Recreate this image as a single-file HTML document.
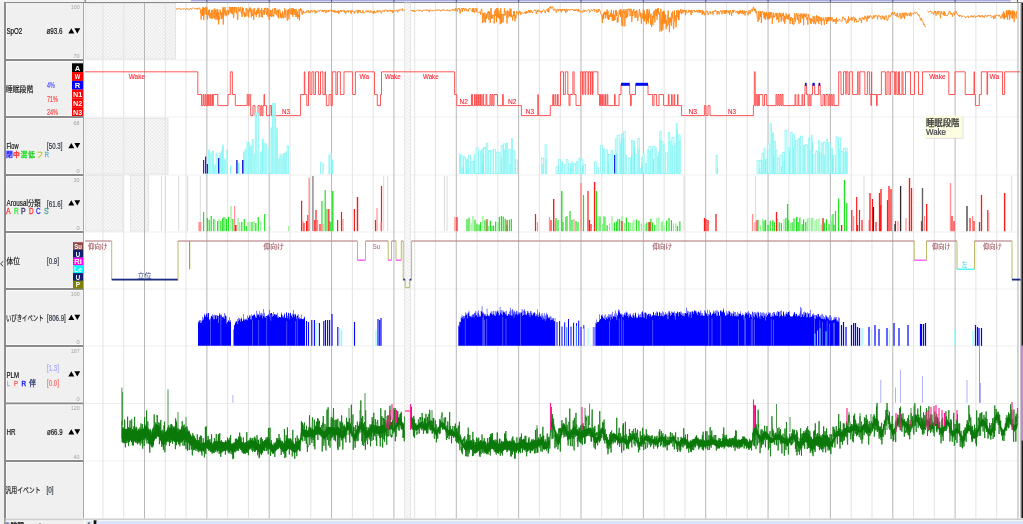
<!DOCTYPE html>
<html><head><meta charset="utf-8"><title>PSG</title>
<style>
html,body{margin:0;padding:0;background:#f0f0f0;}
body{width:1023px;height:524px;overflow:hidden;position:relative;font-family:'Liberation Sans','Noto Sans CJK JP',sans-serif;}
svg{position:absolute;left:0;top:0;}
svg text{font-family:'Liberation Sans','Noto Sans CJK JP',sans-serif;}
</style></head><body>
<svg width="1023" height="524" viewBox="0 0 1023 524" shape-rendering="auto">
<defs>
<pattern id="hatch" width="3.4" height="3.4" patternUnits="userSpaceOnUse">
<rect width="3.4" height="3.4" fill="#f9f9f9"/>
<rect width="1.7" height="1.7" fill="#ebebeb"/>
<rect x="1.7" y="1.7" width="1.7" height="1.7" fill="#ebebeb"/>
</pattern>
<pattern id="hatchl" width="3.4" height="3.4" patternUnits="userSpaceOnUse">
<rect width="3.4" height="3.4" fill="#fcfcfc"/>
<rect width="1.7" height="1.7" fill="#eeeeee"/>
<rect x="1.7" y="1.7" width="1.7" height="1.7" fill="#eeeeee"/>
</pattern>
</defs>
<rect x="0" y="0" width="1023" height="524" fill="#f0f0f0"/>
<rect x="0" y="0" width="1023" height="2" fill="#f4f4f4"/>
<rect x="191" y="0" width="819.5" height="1.3" fill="#a9a9e2"/>
<rect x="191" y="1.3" width="819.5" height="0.7" fill="#d6d6f0"/>
<rect x="84.6" y="0" width="1" height="2" fill="#606060"/>
<rect x="206.36" y="0" width="1" height="2" fill="#505070"/>
<rect x="268.71" y="0" width="1" height="2" fill="#505070"/>
<rect x="331.06" y="0" width="1" height="2" fill="#505070"/>
<rect x="393.42" y="0" width="1" height="2" fill="#505070"/>
<rect x="455.77" y="0" width="1" height="2" fill="#505070"/>
<rect x="518.13" y="0" width="1" height="2" fill="#505070"/>
<rect x="580.49" y="0" width="1" height="2" fill="#505070"/>
<rect x="642.84" y="0" width="1" height="2" fill="#505070"/>
<rect x="705.19" y="0" width="1" height="2" fill="#505070"/>
<rect x="767.55" y="0" width="1" height="2" fill="#505070"/>
<rect x="829.9" y="0" width="1" height="2" fill="#505070"/>
<rect x="892.26" y="0" width="1" height="2" fill="#505070"/>
<rect x="954.62" y="0" width="1" height="2" fill="#505070"/>
<rect x="1016.97" y="0" width="1" height="2" fill="#505070"/>
<rect x="4" y="2" width="1019" height="1" fill="#8a8a8a"/>
<rect x="84" y="3" width="936.5" height="516" fill="#ffffff"/>
<rect x="4" y="2" width="2" height="516" fill="#8c8c8c"/>
<rect x="6" y="3" width="1" height="515" fill="#fbfbfb"/>
<rect x="83" y="3" width="1" height="516" fill="#a8a8a8"/>
<rect x="6" y="58" width="77" height="1" fill="#fafafa"/>
<rect x="4" y="59" width="79" height="2" fill="#8a8a8a"/>
<rect x="6" y="61" width="77" height="1" fill="#fafafa"/>
<rect x="6" y="115" width="77" height="1" fill="#fafafa"/>
<rect x="4" y="116" width="79" height="2" fill="#8a8a8a"/>
<rect x="6" y="118" width="77" height="1" fill="#fafafa"/>
<rect x="6" y="173" width="77" height="1" fill="#fafafa"/>
<rect x="4" y="174" width="79" height="2" fill="#8a8a8a"/>
<rect x="6" y="176" width="77" height="1" fill="#fafafa"/>
<rect x="6" y="230" width="77" height="1" fill="#fafafa"/>
<rect x="4" y="231" width="79" height="2" fill="#8a8a8a"/>
<rect x="6" y="233" width="77" height="1" fill="#fafafa"/>
<rect x="6" y="287" width="77" height="1" fill="#fafafa"/>
<rect x="4" y="288" width="79" height="2" fill="#8a8a8a"/>
<rect x="6" y="290" width="77" height="1" fill="#fafafa"/>
<rect x="6" y="344" width="77" height="1" fill="#fafafa"/>
<rect x="4" y="345" width="79" height="2" fill="#8a8a8a"/>
<rect x="6" y="347" width="77" height="1" fill="#fafafa"/>
<rect x="6" y="401.5" width="77" height="1" fill="#fafafa"/>
<rect x="4" y="402.5" width="79" height="2" fill="#8a8a8a"/>
<rect x="6" y="404.5" width="77" height="1" fill="#fafafa"/>
<rect x="6" y="459" width="77" height="1" fill="#fafafa"/>
<rect x="4" y="460" width="79" height="2" fill="#8a8a8a"/>
<rect x="6" y="462" width="77" height="1" fill="#fafafa"/>
<rect x="84" y="59.5" width="936.5" height="1" fill="#efefef"/>
<rect x="84" y="116.5" width="936.5" height="1" fill="#efefef"/>
<rect x="84" y="174.5" width="936.5" height="1" fill="#efefef"/>
<rect x="84" y="231.5" width="936.5" height="1" fill="#efefef"/>
<rect x="84" y="288.5" width="936.5" height="1" fill="#efefef"/>
<rect x="84" y="345.5" width="936.5" height="1" fill="#efefef"/>
<rect x="84" y="403" width="936.5" height="1" fill="#efefef"/>
<rect x="84" y="460.5" width="936.5" height="1" fill="#efefef"/>
<rect x="4" y="518" width="1019" height="1" fill="#e4e4e4"/>
<rect x="4" y="519" width="1019" height="1.2" fill="#cfcfcf"/>
<rect x="84" y="520.5" width="939" height="4" fill="#ffffff"/>
<rect x="85.7" y="521" width="6.5" height="3" fill="#dce8f8"/>
<path d="M87.5 523.5 L89.5 521.8 L89.5 524 Z" fill="#303040"/>
<rect x="93.6" y="520.3" width="3" height="3.7" fill="#101010"/>
<rect x="96.6" y="521" width="926.4" height="3" fill="#d9e6fa"/>
<rect x="85.2" y="3.5" width="90.4" height="55.5" fill="url(#hatch)" stroke="#e2e2e2" stroke-width="0.8"/>
<rect x="85.2" y="118.3" width="82.8" height="55.7" fill="url(#hatch)" stroke="#e2e2e2" stroke-width="0.8"/>
<rect x="85.3" y="175.5" width="37.5" height="55.5" fill="url(#hatch)" stroke="#e2e2e2" stroke-width="0.8"/>
<rect x="130.4" y="175.5" width="18.1" height="55.5" fill="url(#hatch)" stroke="#e2e2e2" stroke-width="0.8"/>
<rect x="404.6" y="3" width="6" height="515" fill="url(#hatchl)" stroke="#e2e2e2" stroke-width="0.8"/>
<rect x="102.43" y="3" width="1" height="515.5" fill="#e3e3e3"/>
<rect x="123.22" y="3" width="1" height="515.5" fill="#e3e3e3"/>
<rect x="144" y="3" width="1" height="515.5" fill="#b8b8b8"/>
<rect x="164.78" y="3" width="1" height="515.5" fill="#e3e3e3"/>
<rect x="185.57" y="3" width="1" height="515.5" fill="#e3e3e3"/>
<rect x="206.36" y="3" width="1" height="515.5" fill="#b8b8b8"/>
<rect x="227.14" y="3" width="1" height="515.5" fill="#e3e3e3"/>
<rect x="247.93" y="3" width="1" height="515.5" fill="#e3e3e3"/>
<rect x="268.71" y="3" width="1" height="515.5" fill="#b8b8b8"/>
<rect x="289.5" y="3" width="1" height="515.5" fill="#e3e3e3"/>
<rect x="310.28" y="3" width="1" height="515.5" fill="#e3e3e3"/>
<rect x="331.06" y="3" width="1" height="515.5" fill="#b8b8b8"/>
<rect x="351.85" y="3" width="1" height="515.5" fill="#e3e3e3"/>
<rect x="372.63" y="3" width="1" height="515.5" fill="#e3e3e3"/>
<rect x="393.42" y="3" width="1" height="515.5" fill="#b8b8b8"/>
<rect x="414.2" y="3" width="1" height="515.5" fill="#e3e3e3"/>
<rect x="434.99" y="3" width="1" height="515.5" fill="#e3e3e3"/>
<rect x="455.77" y="3" width="1" height="515.5" fill="#b8b8b8"/>
<rect x="476.56" y="3" width="1" height="515.5" fill="#e3e3e3"/>
<rect x="497.34" y="3" width="1" height="515.5" fill="#e3e3e3"/>
<rect x="518.13" y="3" width="1" height="515.5" fill="#b8b8b8"/>
<rect x="538.91" y="3" width="1" height="515.5" fill="#e3e3e3"/>
<rect x="559.7" y="3" width="1" height="515.5" fill="#e3e3e3"/>
<rect x="580.49" y="3" width="1" height="515.5" fill="#b8b8b8"/>
<rect x="601.27" y="3" width="1" height="515.5" fill="#e3e3e3"/>
<rect x="622.05" y="3" width="1" height="515.5" fill="#e3e3e3"/>
<rect x="642.84" y="3" width="1" height="515.5" fill="#b8b8b8"/>
<rect x="663.62" y="3" width="1" height="515.5" fill="#e3e3e3"/>
<rect x="684.41" y="3" width="1" height="515.5" fill="#e3e3e3"/>
<rect x="705.19" y="3" width="1" height="515.5" fill="#b8b8b8"/>
<rect x="725.98" y="3" width="1" height="515.5" fill="#e3e3e3"/>
<rect x="746.76" y="3" width="1" height="515.5" fill="#e3e3e3"/>
<rect x="767.55" y="3" width="1" height="515.5" fill="#b8b8b8"/>
<rect x="788.34" y="3" width="1" height="515.5" fill="#e3e3e3"/>
<rect x="809.12" y="3" width="1" height="515.5" fill="#e3e3e3"/>
<rect x="829.9" y="3" width="1" height="515.5" fill="#b8b8b8"/>
<rect x="850.69" y="3" width="1" height="515.5" fill="#e3e3e3"/>
<rect x="871.48" y="3" width="1" height="515.5" fill="#e3e3e3"/>
<rect x="892.26" y="3" width="1" height="515.5" fill="#b8b8b8"/>
<rect x="913.04" y="3" width="1" height="515.5" fill="#e3e3e3"/>
<rect x="933.83" y="3" width="1" height="515.5" fill="#e3e3e3"/>
<rect x="954.62" y="3" width="1" height="515.5" fill="#b8b8b8"/>
<rect x="975.4" y="3" width="1" height="515.5" fill="#e3e3e3"/>
<rect x="996.18" y="3" width="1" height="515.5" fill="#e3e3e3"/>
<rect x="1016.97" y="3" width="1" height="515.5" fill="#b8b8b8"/>
<rect x="1017" y="3" width="2" height="515" fill="#d6d6d6"/>
<rect x="1020.5" y="3" width="1" height="515" fill="#8a8a8a"/>
<rect x="1021.5" y="3" width="1.5" height="515" fill="#1c1c1c"/>
<rect x="1021" y="345.5" width="2" height="95" fill="#c488d4"/>
<text x="6.5" y="34.2" font-size="8.2" fill="#141414" textLength="15.8" lengthAdjust="spacingAndGlyphs" stroke="#141414" stroke-width="0.2">SpO2</text>
<text x="46.4" y="34.2" font-size="8.2" fill="#141414" textLength="16" lengthAdjust="spacingAndGlyphs" stroke="#141414" stroke-width="0.2">&#248;93.6</text>
<path d="M68.3 33.6 L71.3 28.2 L74.3 33.6 Z M74.4 28.2 L80.2 28.2 L77.3 33.6 Z" fill="#000"/>
<text x="70.8" y="8.7" font-size="6.2" fill="#a4a4a4" textLength="8.8" lengthAdjust="spacingAndGlyphs">100</text>
<text x="73.6" y="57.8" font-size="6.2" fill="#a4a4a4" textLength="6" lengthAdjust="spacingAndGlyphs">70</text>
<text x="6" y="91.8" font-size="7.6" fill="#1c1c1c" textLength="27.2" lengthAdjust="spacingAndGlyphs" stroke="#1c1c1c" stroke-width="0.2">睡眠段階</text>
<text x="47" y="88.4" font-size="8.2" fill="#4a4aff" textLength="7.8" lengthAdjust="spacingAndGlyphs" stroke="#4a4aff" stroke-width="0.2">4%</text>
<text x="47" y="101.6" font-size="8.2" fill="#ff4a4a" textLength="11" lengthAdjust="spacingAndGlyphs" stroke="#ff4a4a" stroke-width="0.2">71%</text>
<text x="47" y="114.8" font-size="8.2" fill="#ff4a4a" textLength="11" lengthAdjust="spacingAndGlyphs" stroke="#ff4a4a" stroke-width="0.2">24%</text>
<rect x="72" y="63.3" width="11" height="8.8" fill="#000000"/>
<text x="77.6" y="70.6" font-size="8" fill="#ffffff" textLength="5.5" lengthAdjust="spacingAndGlyphs" font-weight="bold" text-anchor="middle">A</text>
<rect x="72" y="72.08" width="11" height="8.8" fill="#ff0000"/>
<text x="77.6" y="79.38" font-size="8" fill="#ffffff" textLength="5.5" lengthAdjust="spacingAndGlyphs" font-weight="bold" text-anchor="middle">W</text>
<rect x="72" y="80.86" width="11" height="8.8" fill="#0000ff"/>
<text x="77.6" y="88.16" font-size="8" fill="#ffffff" textLength="5.5" lengthAdjust="spacingAndGlyphs" font-weight="bold" text-anchor="middle">R</text>
<rect x="72" y="89.64" width="11" height="8.8" fill="#ff0000"/>
<text x="77.6" y="96.94" font-size="8" fill="#ffffff" textLength="9.2" lengthAdjust="spacingAndGlyphs" font-weight="bold" text-anchor="middle">N1</text>
<rect x="72" y="98.42" width="11" height="8.8" fill="#ff0000"/>
<text x="77.6" y="105.72" font-size="8" fill="#ffffff" textLength="9.2" lengthAdjust="spacingAndGlyphs" font-weight="bold" text-anchor="middle">N2</text>
<rect x="72" y="107.2" width="11" height="8.8" fill="#ff0000"/>
<text x="77.6" y="114.5" font-size="8" fill="#ffffff" textLength="9.2" lengthAdjust="spacingAndGlyphs" font-weight="bold" text-anchor="middle">N3</text>
<text x="73.6" y="124.8" font-size="6.2" fill="#a4a4a4" textLength="6" lengthAdjust="spacingAndGlyphs">68</text>
<text x="6.5" y="148.6" font-size="8.2" fill="#141414" textLength="12" lengthAdjust="spacingAndGlyphs" stroke="#141414" stroke-width="0.2">Flow</text>
<text x="47" y="149.2" font-size="8.2" fill="#303848" textLength="15.5" lengthAdjust="spacingAndGlyphs" stroke="#303848" stroke-width="0.2">[50.3]</text>
<path d="M68.3 148.3 L71.3 142.9 L74.3 148.3 Z M74.4 142.9 L80.2 142.9 L77.3 148.3 Z" fill="#000"/>
<text x="6" y="157.2" font-size="7.4" fill="#2020ff" textLength="6.8" lengthAdjust="spacingAndGlyphs" stroke="#2020ff" stroke-width="0.3">閉</text>
<text x="13" y="157.2" font-size="7.4" fill="#ff2020" textLength="6.8" lengthAdjust="spacingAndGlyphs" stroke="#ff2020" stroke-width="0.3">中</text>
<text x="20.5" y="157.2" font-size="7.4" fill="#20e020" textLength="6.8" lengthAdjust="spacingAndGlyphs" stroke="#20e020" stroke-width="0.3">混</text>
<text x="28" y="157.2" font-size="7.4" fill="#20d020" textLength="6.8" lengthAdjust="spacingAndGlyphs" stroke="#20d020" stroke-width="0.3">低</text>
<text x="36.5" y="157.2" font-size="7.4" fill="#c8c830" textLength="6.8" lengthAdjust="spacingAndGlyphs" stroke="#c8c830" stroke-width="0.3">フ</text>
<text x="44.5" y="157.2" font-size="7.4" fill="#70b0d0" textLength="4.5" lengthAdjust="spacingAndGlyphs" stroke="#70b0d0" stroke-width="0.3">R</text>
<text x="76.4" y="172.6" font-size="6.2" fill="#a4a4a4" textLength="3.2" lengthAdjust="spacingAndGlyphs">0</text>
<text x="73.6" y="181.8" font-size="6.2" fill="#a4a4a4" textLength="6" lengthAdjust="spacingAndGlyphs">30</text>
<text x="6.5" y="206" font-size="8.2" fill="#141414" textLength="34" lengthAdjust="spacingAndGlyphs" stroke="#141414" stroke-width="0.2">Arousal分類</text>
<text x="47" y="206.6" font-size="8.2" fill="#303848" textLength="15.5" lengthAdjust="spacingAndGlyphs" stroke="#303848" stroke-width="0.2">[61.6]</text>
<path d="M68.3 205.6 L71.3 200.2 L74.3 205.6 Z M74.4 200.2 L80.2 200.2 L77.3 205.6 Z" fill="#000"/>
<text x="6" y="214" font-size="8.2" fill="#ff3030" textLength="4.6" lengthAdjust="spacingAndGlyphs" stroke="#ff3030" stroke-width="0.3">A</text>
<text x="14" y="214" font-size="8.2" fill="#30f030" textLength="4.6" lengthAdjust="spacingAndGlyphs" stroke="#30f030" stroke-width="0.3">R</text>
<text x="21" y="214" font-size="8.2" fill="#303060" textLength="4.6" lengthAdjust="spacingAndGlyphs" stroke="#303060" stroke-width="0.3">P</text>
<text x="29" y="214" font-size="8.2" fill="#ff3030" textLength="4.6" lengthAdjust="spacingAndGlyphs" stroke="#ff3030" stroke-width="0.3">D</text>
<text x="36" y="214" font-size="8.2" fill="#3030ff" textLength="4.6" lengthAdjust="spacingAndGlyphs" stroke="#3030ff" stroke-width="0.3">C</text>
<text x="44" y="214" font-size="8.2" fill="#50a0a0" textLength="4.6" lengthAdjust="spacingAndGlyphs" stroke="#50a0a0" stroke-width="0.3">S</text>
<text x="76.4" y="229.6" font-size="6.2" fill="#a4a4a4" textLength="3.2" lengthAdjust="spacingAndGlyphs">0</text>
<path d="M3.2 261.3 L0.6 263.8 L3.2 266.3" fill="none" stroke="#202020" stroke-width="0.9"/>
<text x="6.5" y="264" font-size="7.6" fill="#1c1c1c" textLength="13.5" lengthAdjust="spacingAndGlyphs" stroke="#1c1c1c" stroke-width="0.2">体位</text>
<text x="47" y="264" font-size="8.2" fill="#303848" textLength="12" lengthAdjust="spacingAndGlyphs" stroke="#303848" stroke-width="0.2">[0.9]</text>
<rect x="73" y="242.2" width="10" height="7.8" fill="#904848"/>
<text x="78" y="248.8" font-size="7.2" fill="#ffffff" textLength="7.6" lengthAdjust="spacingAndGlyphs" font-weight="bold" text-anchor="middle">Su</text>
<rect x="73" y="249.92" width="10" height="7.8" fill="#102070"/>
<text x="78" y="256.52" font-size="7.2" fill="#ffffff" textLength="4.4" lengthAdjust="spacingAndGlyphs" font-weight="bold" text-anchor="middle">U</text>
<rect x="73" y="257.64" width="10" height="7.8" fill="#ff00ff"/>
<text x="78" y="264.24" font-size="7.2" fill="#ffffff" textLength="7.6" lengthAdjust="spacingAndGlyphs" font-weight="bold" text-anchor="middle">Ri</text>
<rect x="73" y="265.36" width="10" height="7.8" fill="#00ffff"/>
<text x="78" y="271.96" font-size="7.2" fill="#ffffff" textLength="7.6" lengthAdjust="spacingAndGlyphs" font-weight="bold" text-anchor="middle">Le</text>
<rect x="73" y="273.08" width="10" height="7.8" fill="#102070"/>
<text x="78" y="279.68" font-size="7.2" fill="#ffffff" textLength="4.4" lengthAdjust="spacingAndGlyphs" font-weight="bold" text-anchor="middle">U</text>
<rect x="73" y="280.8" width="10" height="7.8" fill="#808000"/>
<text x="78" y="287.4" font-size="7.2" fill="#ffffff" textLength="4.4" lengthAdjust="spacingAndGlyphs" font-weight="bold" text-anchor="middle">P</text>
<text x="70.8" y="296.2" font-size="6.2" fill="#a4a4a4" textLength="8.8" lengthAdjust="spacingAndGlyphs">100</text>
<text x="6" y="320.6" font-size="7.6" fill="#1c1c1c" textLength="37.5" lengthAdjust="spacingAndGlyphs" stroke="#1c1c1c" stroke-width="0.2">いびきイベント</text>
<text x="47" y="320.8" font-size="8.2" fill="#303848" textLength="18.8" lengthAdjust="spacingAndGlyphs" stroke="#303848" stroke-width="0.2">[806.9]</text>
<path d="M68.3 320.1 L71.3 314.7 L74.3 320.1 Z M74.4 314.7 L80.2 314.7 L77.3 320.1 Z" fill="#000"/>
<text x="76.4" y="344.2" font-size="6.2" fill="#a4a4a4" textLength="3.2" lengthAdjust="spacingAndGlyphs">0</text>
<text x="70.8" y="353.2" font-size="6.2" fill="#a4a4a4" textLength="8.8" lengthAdjust="spacingAndGlyphs">187</text>
<text x="47" y="370.6" font-size="8.2" fill="#a8a8f8" textLength="12" lengthAdjust="spacingAndGlyphs" stroke="#a8a8f8" stroke-width="0.2">[1.3]</text>
<text x="6.5" y="377.6" font-size="8.2" fill="#141414" textLength="12.5" lengthAdjust="spacingAndGlyphs" stroke="#141414" stroke-width="0.2">PLM</text>
<path d="M68.3 376.6 L71.3 371.2 L74.3 376.6 Z M74.4 371.2 L80.2 371.2 L77.3 376.6 Z" fill="#000"/>
<text x="6.8" y="385.7" font-size="7.8" fill="#a0a0ff" textLength="3.2" lengthAdjust="spacingAndGlyphs" stroke="#a0a0ff" stroke-width="0.3">L</text>
<text x="14" y="385.7" font-size="7.8" fill="#ff6060" textLength="4" lengthAdjust="spacingAndGlyphs" stroke="#ff6060" stroke-width="0.3">P</text>
<text x="21.5" y="385.7" font-size="7.8" fill="#3030ff" textLength="4.6" lengthAdjust="spacingAndGlyphs" font-weight="bold" stroke="#3030ff" stroke-width="0.3">R</text>
<text x="29" y="385.7" font-size="7.8" fill="#304070" textLength="7" lengthAdjust="spacingAndGlyphs" stroke="#304070" stroke-width="0.3">伴</text>
<text x="47" y="385.8" font-size="8.2" fill="#ff6a6a" textLength="12" lengthAdjust="spacingAndGlyphs" stroke="#ff6a6a" stroke-width="0.2">[0.0]</text>
<text x="76.4" y="401.2" font-size="6.2" fill="#a4a4a4" textLength="3.2" lengthAdjust="spacingAndGlyphs">0</text>
<text x="70.8" y="410.2" font-size="6.2" fill="#a4a4a4" textLength="8.8" lengthAdjust="spacingAndGlyphs">120</text>
<text x="6.5" y="435" font-size="8.2" fill="#141414" textLength="9" lengthAdjust="spacingAndGlyphs" stroke="#141414" stroke-width="0.2">HR</text>
<text x="47" y="435.2" font-size="8.2" fill="#141414" textLength="15.5" lengthAdjust="spacingAndGlyphs" stroke="#141414" stroke-width="0.2">&#248;66.9</text>
<path d="M68.3 434.6 L71.3 429.2 L74.3 434.6 Z M74.4 429.2 L80.2 429.2 L77.3 434.6 Z" fill="#000"/>
<text x="73.6" y="458.6" font-size="6.2" fill="#a4a4a4" textLength="6" lengthAdjust="spacingAndGlyphs">40</text>
<text x="5.5" y="492.5" font-size="7.6" fill="#1c1c1c" textLength="35" lengthAdjust="spacingAndGlyphs" stroke="#1c1c1c" stroke-width="0.2">汎用イベント</text>
<text x="46.5" y="492.6" font-size="8.2" fill="#303848" textLength="7" lengthAdjust="spacingAndGlyphs" stroke="#303848" stroke-width="0.2">[0]</text>
<rect x="4" y="518" width="1.6" height="6" fill="#9a9a9a"/>
<circle cx="7.3" cy="524.5" r="2.4" fill="#8090b0"/>
<text x="10.5" y="529.6" font-size="9" fill="#101010" textLength="13.5" lengthAdjust="spacingAndGlyphs" stroke="#101010" stroke-width="0.45">時間</text>
<text x="28.5" y="529.6" font-size="9" fill="#304070" textLength="6.5" lengthAdjust="spacingAndGlyphs">11</text>
<text x="37" y="529.6" font-size="9" fill="#404040" textLength="6" lengthAdjust="spacingAndGlyphs">^</text>
<path d="M176 9.6 L176.5 9.29 L177 8.38 L177.5 9.53 L178 8.69 L178.5 8.14 L179 8.55 L179.5 8.28 L180 9.44 L180.5 9.07 L181 8.73 L181.5 9.62 L182 9.28 L182.5 8.65 L183 8.89 L183.5 9.5 L184 8.52 L184.5 9.02 L185 9.39 L185.5 9.85 L186 8.81 L186.5 8.31 L187 8.08 L187.5 9.44 L188 9.64 L188.5 9.28 L189 9.05 L189.5 9.54 L190 8.8 L190.5 8 L191 9.11 L191.5 9.45 L192 8.55 L192.5 8 L193 8.05 L193.5 8 L194 8 L194.5 8.46 L195 8 L195.5 8.77 L196 9.35 L196.5 8.16 L197 8.33 L197.5 9.65 L198 8 L198.5 8.03 L199 8.84 L199.5 7.75 L200 8.41 L200.5 13.12 L200.83 9.86 L201.16 19.58 L201.49 12.7 L201.82 12.96 L202.15 9.01 L202.48 16.02 L202.81 7.19 L203.14 15.81 L203.47 7 L203.8 20.13 L204.13 11.71 L204.46 7.99 L204.79 9.26 L205.12 14.54 L205.45 10.55 L205.78 7 L206.11 9.42 L206.44 14.86 L206.77 7 L207.1 11.8 L207.43 19.25 L207.76 17.09 L208.09 14.06 L208.42 10.45 L208.75 15.19 L209.08 15.41 L209.41 9.13 L209.74 18.07 L210.07 16.13 L210.4 15.48 L210.73 12.99 L211.06 18.68 L211.39 10.11 L211.72 18.57 L212.05 18.46 L212.38 18.79 L212.71 9.95 L213.04 9.72 L213.37 15.04 L213.7 17.8 L214.03 15.55 L214.36 8.49 L214.69 18.91 L215.02 16.95 L215.35 9.73 L215.68 11.71 L216.01 19.93 L216.34 12.61 L216.67 16.81 L217 9.02 L217.33 19.19 L217.66 9.2 L217.99 20.2 L218.32 11.82 L218.65 24.42 L218.98 15.74 L219.31 19.53 L219.64 18.66 L219.97 9.61 L220.3 10.64 L220.63 14.59 L220.96 12.2 L221.29 18.94 L221.62 12.56 L221.95 18.72 L222.28 18.84 L222.61 13.3 L222.94 7 L223.27 24.49 L223.6 7.83 L223.93 15.67 L224.26 9.74 L224.59 12.77 L224.92 7 L225.25 8.18 L225.58 14.98 L225.91 11.98 L226.24 16.25 L226.57 12.22 L226.9 10.79 L227.23 9.91 L227.56 10.07 L227.89 12.47 L228.22 15.01 L228.55 10.56 L228.88 13.44 L229.21 7 L229.54 7 L229.87 7 L230.2 12.22 L230.53 7.02 L230.86 10.98 L231.19 13.17 L231.52 7.04 L231.85 8.39 L232.18 14.25 L232.51 7.07 L232.84 9.61 L233.17 7.09 L233.5 18.07 L233.83 17.07 L234.16 10.84 L234.49 7.13 L234.82 12.57 L235.15 7.15 L235.48 7.16 L235.81 7.66 L236.14 9.23 L236.47 13.23 L236.8 7.19 L237.13 10.94 L237.46 18.79 L237.79 19.94 L238.12 11.85 L238.45 7.24 L238.78 7.25 L239.11 10.36 L239.44 11.44 L239.77 8.72 L240.1 11.38 L240.43 7.35 L240.76 7.31 L241.09 9.55 L241.42 14.07 L241.75 11.6 L242.08 16.93 L242.41 7.35 L242.74 12.37 L243.07 11.71 L243.4 8.15 L243.73 11.44 L244.06 15.49 L244.39 12.32 L244.72 17.08 L245.05 15.66 L245.38 13.78 L245.71 16.49 L246.04 8.28 L246.37 10.15 L246.7 8.49 L247.03 16.29 L247.36 10.49 L247.69 10.62 L248.02 9.29 L248.35 10.34 L248.68 17.34 L249.01 10.14 L249.34 10.77 L249.67 7.7 L250 12.36 L250.33 9.63 L250.66 7.65 L250.99 8.45 L251.32 17.44 L251.65 9.77 L251.98 12.65 L252.31 13.86 L252.64 15.98 L252.97 10.45 L253.3 8.64 L253.63 19.93 L253.96 15.83 L254.29 14.19 L254.62 8.24 L254.95 11.77 L255.28 14.65 L255.61 12.39 L255.94 13.29 L256.27 16.81 L256.6 9.94 L256.93 14.55 L257.26 12.42 L257.59 12.86 L257.92 7.8 L258.25 13.38 L258.58 11.2 L258.91 7.83 L259.24 17.49 L259.57 12.92 L259.9 12.96 L260.23 10.48 L260.56 10.28 L260.89 13.08 L261.22 17.01 L261.55 7.93 L261.88 8.4 L262.21 17.59 L262.54 11.98 L262.87 12 L263.2 10.42 L263.53 9.92 L263.86 14.14 L264.19 14.98 L264.52 7.99 L264.85 13.45 L265.18 9.81 L265.51 8 L265.84 8 L266.17 8 L266.5 14.92 L266.83 13.65 L267.16 14.36 L267.49 8 L267.82 16.52 L268.15 10.61 L268.48 8.79 L268.81 9.28 L269.14 19.97 L269.47 14.37 L269.8 15.33 L270.13 15.17 L270.46 9.97 L270.79 16.32 L271.12 10.03 L271.45 17.04 L271.78 14.97 L272.11 16.08 L272.44 9.45 L272.77 8.78 L273.1 16.58 L273.43 15.23 L273.76 16.35 L274.09 12.78 L274.42 8 L274.75 11.97 L275.08 14.01 L275.41 8.08 L275.74 8.95 L276.07 11.22 L276.4 15.3 L276.73 10.53 L277.06 11.01 L277.39 12.02 L277.72 9.72 L278.05 17.34 L278.38 10.43 L278.71 18.38 L279.04 9.7 L279.37 9.24 L279.7 9.28 L280.03 11.02 L280.36 17.47 L280.69 12.64 L281.02 13.8 L281.35 18.06 L281.68 18.36 L282.01 13.61 L282.34 17.3 L282.67 11.22 L283 12.53 L283.33 18.22 L283.66 16.95 L283.99 15.67 L284.32 13.21 L284.65 8.31 L284.98 17.83 L285.31 17.06 L285.64 10.76 L285.97 9.75 L286.3 15.16 L286.63 15.53 L286.96 15.93 L287.29 20.6 L287.62 10.32 L287.95 14.56 L288.28 9.13 L288.61 14.36 L288.94 19.41 L289.27 13.71 L289.6 9.92 L289.93 8 L290.26 12.29 L290.59 14.17 L290.92 12.35 L291.25 9.93 L291.58 14.67 L291.91 8 L292.24 14.28 L292.57 9.87 L292.9 16.84 L293.23 8 L293.56 11.49 L293.89 9.13 L294.22 14.79 L294.55 9.16 L294.88 10.26 L295.21 9.4 L295.54 14.97 L295.87 16.99 L296.2 8.91 L296.53 11.34 L296.86 16.96 L297.19 11.09 L297.52 17.25 L297.85 18.98 L298.18 16.47 L298.51 14.74 L298.84 16.86 L299.17 8.96 L299.5 20.34 L299.83 11.06 L300.16 10.59 L300.49 8.33 L300.82 10.83 L301.15 9.08 L301.48 9.86 L301.81 13.71 L302.31 14.68 L302.81 10.93 L303.31 10.38 L303.81 13.18 L304.31 12.28 L304.81 12.69 L305.31 12.62 L305.81 12.1 L306.31 10.86 L306.81 12.74 L307.31 10.63 L307.81 10.79 L308.31 10 L308.81 12.6 L309.31 12.93 L309.81 11.23 L310.31 12.67 L310.81 10.52 L311.31 11.23 L311.81 10.27 L312.31 11.93 L312.81 12.01 L313.31 10.63 L313.81 10.71 L314.31 10 L314.81 11.83 L315.31 13.37 L315.81 10.47 L316.31 12.13 L316.81 12.73 L317.31 10.9 L317.81 10.71 L318.31 10.59 L318.81 11.34 L319.31 11.84 L319.81 10 L320.31 10.1 L320.81 10.32 L321.31 10 L321.81 10 L322.31 11.82 L322.81 10.12 L323.31 12.13 L323.81 10 L324.31 11.09 L324.81 10 L325.31 11.6 L325.81 13.01 L326.31 10 L326.81 12.1 L327.31 11.99 L327.81 11.82 L328.31 10 L328.81 12.11 L329.31 11.07 L329.81 10 L330.31 10 L330.81 10.13 L331.31 11.37 L331.81 10 L332.31 11.52 L332.81 10.45 L333.31 11.95 L333.81 10 L334.31 10.81 L334.81 12.83 L335.31 11.8 L335.81 10.58 L336.31 12.65 L336.81 11.5 L337.31 11.08 L337.81 12.87 L338.31 10.46 L338.81 13.86 L339.31 11.19 L339.81 11.15 L340.31 11.33 L340.81 10 L341.31 11.9 L341.81 10.23 L342.31 11.09 L342.81 10.41 L343.31 11.55 L343.81 10.29 L344.31 12.4 L344.81 10.54 L345.31 12.8 L345.81 13.9 L346.31 11.09 L346.81 11.78 L347.31 10.37 L347.81 10.54 L348.31 12.42 L348.81 10.39 L349.31 11.03 L349.81 10.97 L350.31 10.54 L350.81 13.39 L351.31 13.77 L351.81 10.11 L352.31 11.41 L352.81 10.66 L353.31 11.5 L353.81 11.72 L354.31 13.47 L354.81 11.21 L355.31 12.05 L355.81 11.12 L356.31 11.18 L356.81 10.14 L357.31 10.04 L357.81 13.49 L358.31 10.04 L358.81 12.18 L359.31 10 L359.81 11 L360.31 10.29 L360.81 12.93 L361.31 12.41 L361.81 12.94 L362.31 12.89 L362.81 10.51 L363.31 13.09 L363.81 12.36 L364.31 12.81 L364.81 12.58 L365.31 11.65 L365.81 10.78 L366.31 11.7 L366.81 10.29 L367.31 10.68 L367.81 12.27 L368.31 10.72 L368.81 10.56 L369.31 12.15 L369.81 12.87 L370.31 11.97 L370.81 10.52 L371.31 12.1 L371.81 12.59 L372.31 13.16 L372.81 11.22 L373.31 11.44 L373.81 13.75 L374.31 10.8 L374.81 12.99 L375.31 11.97 L375.81 12.81 L376.31 11.74 L376.81 11.38 L377.31 10.18 L377.81 12.6 L378.31 10.76 L378.81 10.71 L379.31 11.35 L379.81 10.14 L380.31 10.92 L380.81 12.27 L381.31 13.49 L381.81 11.97 L382.31 10.5 L382.81 10 L383.31 10.9 L383.81 11.11 L384.31 11.96 L384.81 10 L385.31 10 L385.81 10.26 L386.31 10 L386.81 10 L387.31 11.83 L387.81 10 L388.31 10.49 L388.81 11.42 L389.31 10 L389.81 10 L390.31 11.34 L390.81 10 L391.31 11.25 L391.81 11.26 L392.31 10 L392.81 13.07 L393.31 11.35 L393.81 11.68 L394.31 10 L394.81 10.5 L395.31 10.8 L395.81 11.2 L396.31 10 L396.81 10 L397.31 10.08 L397.81 12.28 L398.31 10.11 L398.81 9.63 L399.31 10.6 L399.81 9.48 L400.31 9.93 L400.81 9.64 L401.31 9.71 L401.81 9.43 L402.31 8.51 L402.81 10.91 L403.31 10.06 L403.81 9.98 L404.31 10.05 L404.81 9.65 M410.81 10.98 L411.31 10.05 L411.81 10.49 L412.31 11.19 L412.81 10.01 L413.31 11.31 L413.81 10.04 L414.31 11.89 L414.81 11.12 L415.31 11.13 L415.81 11.33 L416.31 11 L416.81 10.28 L417.31 9.86 L417.81 10.19 L418.31 10.32 L418.81 11.29 L419.31 11.1 L419.81 9.8 L420.31 10.38 L420.81 10.22 L421.31 10.54 L421.81 11.86 L422.31 11.37 L422.81 10.9 L423.31 9.72 L423.81 10.42 L424.31 9.88 L424.81 10.16 L425.31 10 L425.81 10.03 L426.31 10.77 L426.81 9.71 L427.31 9.65 L427.81 10.76 L428.31 10.64 L428.81 10.22 L429.31 11.91 L429.81 9.57 L430.31 9.96 L430.81 10.39 L431.31 11.11 L431.81 10.31 L432.31 10.87 L432.81 10.66 L433.31 10.05 L433.81 11.03 L434.31 10.84 L434.81 10.25 L435.31 10.51 L435.81 10.28 L436.31 9.84 L436.81 9.95 L437.31 11.01 L437.81 9.65 L438.31 9.97 L438.81 9.63 L439.31 9.68 L439.81 10.75 L440.31 11.22 L440.81 10.03 L441.31 10.86 L441.81 10.11 L442.31 10.52 L442.81 9.61 L443.31 9.27 L443.81 10.8 L444.31 10.17 L444.81 10.08 L445.31 10.36 L445.81 10.64 L446.31 9.96 L446.81 10.62 L447.31 9.49 L447.81 10.88 L448.31 10.47 L448.81 10.41 L449.31 9.9 L449.81 11.41 L450.31 10.58 L450.81 10.23 L451.31 9.75 L451.81 10.17 L452.31 10.27 L452.81 9.15 L453.31 10.46 L453.81 9.79 L454.31 9.02 L454.81 9 L455.31 11.18 L455.81 8.19 L456.31 9.93 L456.81 9.74 L457.31 11.4 L457.81 9.14 L458.31 8.05 L458.81 9 L459.31 8 L459.81 13.22 L460.31 13.58 L460.81 9.06 L461.31 8.67 L461.81 8 L462.31 11.77 L462.81 8 L463.31 8.83 L463.81 8 L464.31 11.04 L464.81 9.23 L465.31 8 L465.81 8.62 L466.31 11.11 L466.81 9.26 L467.31 9.7 L467.81 11.24 L468.31 11.35 L468.81 8.85 L469.31 9.14 L469.81 8 L470.31 8.44 L470.81 8.59 L471.31 9.31 L471.81 10.58 L472.31 12.06 L472.81 8 L473.31 12.04 L473.81 8.02 L474.31 12.58 L474.81 12.45 L475.31 8.77 L475.81 8.26 L476.31 11.69 L476.81 8.43 L477.31 11.89 L477.81 12.47 L478.31 11.94 L478.81 12.59 L479.31 12.35 L479.81 11.62 L480.31 12.71 L480.64 14.63 L480.97 10.33 L481.3 9.46 L481.63 8.79 L481.96 9.95 L482.29 14.32 L482.62 23.14 L482.95 14.04 L483.28 16.48 L483.61 12.96 L483.94 22.06 L484.27 21.92 L484.6 16.78 L484.93 12.46 L485.26 14.68 L485.59 22.6 L485.92 16.08 L486.25 18.98 L486.58 14.18 L486.91 17.81 L487.24 13.63 L487.57 15.06 L487.9 11.78 L488.23 13.1 L488.56 11.4 L488.89 20.1 L489.22 17.76 L489.55 11.76 L489.88 15.05 L490.21 22.86 L490.54 18.64 L490.87 8.08 L491.2 8 L491.53 18.84 L491.86 15.44 L492.19 18.51 L492.52 14.72 L492.85 15.63 L493.18 15.34 L493.51 15.06 L493.84 16.17 L494.17 23.36 L494.5 17.89 L494.83 10.87 L495.16 16.08 L495.49 9.25 L495.82 11.24 L496.15 11.26 L496.48 22.26 L496.81 8 L497.14 15.85 L497.47 17.16 L497.8 8 L498.13 12.82 L498.46 17.75 L498.79 10.38 L499.12 13.32 L499.45 19.06 L499.78 13.73 L500.11 24.2 L500.44 23.26 L500.77 8.05 L501.1 23.47 L501.43 13.94 L501.76 22.52 L502.09 13.86 L502.42 16.64 L502.75 17.03 L503.08 22.44 L503.41 20.47 L503.74 14.18 L504.07 15.8 L504.4 8.27 L504.73 12.43 L505.06 13.71 L505.39 15.2 L505.72 13.45 L506.05 10.85 L506.38 15.25 L506.71 15.3 L507.04 23.54 L507.37 14.51 L507.7 10.34 L508.03 17.81 L508.36 13.62 L508.69 11.77 L509.02 11.29 L509.35 13.92 L509.68 16.29 L510.01 8.63 L510.34 12.25 L510.67 16.64 L511 8.69 L511.33 16.76 L511.66 14.27 L511.99 17.34 L512.32 15.65 L512.65 20.47 L512.98 16.98 L513.31 16.55 L513.64 11.29 L513.97 15.93 L514.3 11.18 L514.63 16.79 L514.96 21.3 L515.29 17.08 L515.62 15.2 L515.95 18.26 L516.28 13.95 L516.61 11.31 L516.94 11.2 L517.27 12.23 L517.77 12.02 L518.27 14.98 L518.77 11.7 L519.27 12.66 L519.77 10.87 L520.27 11.55 L520.77 14.86 L521.27 13.42 L521.77 12.28 L522.27 13.02 L522.77 13.58 L523.27 13.06 L523.77 13.41 L524.27 13.15 L524.77 11.95 L525.27 11.54 L525.77 13.99 L526.27 11.21 L526.77 13.12 L527.27 11.68 L527.77 12.97 L528.27 10.96 L528.77 10.11 L529.27 12.9 L529.77 10 L530.27 10.62 L530.77 12.43 L531.27 10 L531.77 11.68 L532.27 13.05 L532.77 11.75 L533.27 11.47 L533.77 11.16 L534.27 10 L534.77 10.05 L535.27 10.76 L535.77 10 L536.27 13.76 L536.77 14.04 L537.27 10 L537.77 11.98 L538.27 10 L538.77 10 L539.27 11.94 L539.77 10.77 L540.27 11.88 L540.77 11.21 L541.27 13.42 L541.77 10.85 L542.27 11.82 L542.77 10.25 L543.27 9.72 L543.77 9.86 L544.27 10.33 L544.77 11.71 L545.27 13.17 L545.77 10.79 L546.27 10.04 L546.77 9.17 L547.27 9.49 L547.77 11.81 L548.27 8.22 L548.77 12.3 L549.27 8.48 L549.77 7.04 L550.27 8.19 L550.77 6.37 L551.27 8.55 L551.77 7.86 L552.27 6.86 L552.77 6.86 L553.27 9.98 L553.77 10.72 L554.27 9.8 L554.77 8.84 L555.27 10.33 L555.77 11.22 L556.27 12.63 L556.77 10.03 L557.27 9 L557.77 9.72 L558.27 11.28 L558.77 9 L559.27 10 L559.77 9.32 L560.27 10.99 L560.77 9 L561.27 12.33 L561.77 9.67 L562.27 9 L562.77 10.72 L563.27 9.17 L563.77 9.32 L564.27 9 L564.77 11.01 L565.27 9.64 L565.77 12.95 L566.27 9 L566.77 9 L567.27 11.74 L567.77 10.15 L568.27 9 L568.77 9.79 L569.27 10.18 L569.77 10.71 L570.27 9 L570.77 9.61 L571.27 9 L571.77 9.4 L572.27 10 L572.77 9 L573.27 10.55 L573.77 10.84 L574.27 9.56 L574.77 10.97 L575.27 9.67 L575.77 10.88 L576.27 9.3 L576.77 9.94 L577.27 11.11 L577.77 11.2 L578.27 9 L578.77 11.73 L579.27 9.62 L579.77 10.83 L580.27 12.21 L580.77 11.8 L581.27 11.96 L581.77 11.9 L582.27 11.54 L582.77 12.5 L583.27 9.94 L583.77 9.98 L584.27 11.97 L584.77 9.94 L585.27 10.5 L585.77 10.06 L586.27 11.16 L586.77 11 L587.27 10.75 L587.77 10.6 L588.27 9.62 L588.77 9.55 L589.27 10.38 L589.77 12.36 L590.27 11.66 L590.77 10.82 L591.27 9.68 L591.77 10.44 L592.27 10.88 L592.77 9.94 L593.27 9.65 L593.77 10.12 L594.27 9 L594.77 11.53 L595.27 10.58 L595.77 9.73 L596.27 9.75 L596.77 12.82 L597.27 12.14 L597.77 10.14 L598.27 9.13 L598.77 11.7 L599.27 9.25 L599.77 9.84 L600.27 11.25 L600.77 13.66 L601.1 14.05 L601.43 15.16 L601.76 16.36 L602.09 18.57 L602.42 22.83 L602.75 14.88 L603.08 19.26 L603.41 13.01 L603.74 18.31 L604.07 12.62 L604.4 13.57 L604.73 11.68 L605.06 14.79 L605.39 12.08 L605.72 18.35 L606.05 13.6 L606.38 11.97 L606.71 15.24 L607.04 9.45 L607.37 12.3 L607.7 18.53 L608.03 10.92 L608.36 19.64 L608.69 15.35 L609.02 19.72 L609.35 15.09 L609.68 14.86 L610.01 16.95 L610.34 12.93 L610.67 12.85 L611 16.9 L611.33 9.72 L611.66 13.49 L611.99 15.65 L612.32 20.56 L612.65 13.96 L612.98 20.98 L613.31 15.07 L613.64 10.47 L613.97 20.75 L614.3 14.77 L614.63 19.64 L614.96 18.67 L615.29 19.51 L615.62 10 L615.95 14.55 L616.28 10.28 L616.61 15.99 L616.94 12.3 L617.27 22.73 L617.6 17.88 L617.93 22.16 L618.26 18.48 L618.59 16.1 L618.92 13.76 L619.25 10.58 L619.58 14.05 L619.91 14.54 L620.24 9 L620.57 16.88 L620.9 9 L621.23 13.51 L621.56 14.66 L621.89 25.54 L622.22 10.52 L622.55 10.85 L622.88 26.33 L623.21 13.78 L623.54 11.89 L623.87 9 L624.2 13.52 L624.53 11.51 L624.86 26.36 L625.19 16.97 L625.52 17.5 L625.85 9.42 L626.18 18.2 L626.51 18 L626.84 10.44 L627.17 9 L627.5 16.87 L627.83 15.73 L628.16 9 L628.49 9 L628.82 9 L629.15 9 L629.48 10.26 L629.81 9 L630.14 16.11 L630.47 9 L630.8 9 L631.13 9 L631.46 9.82 L631.79 21.88 L632.12 16.4 L632.45 11.3 L632.78 16.09 L633.11 10.23 L633.44 10.61 L633.77 9 L634.1 12.41 L634.43 11.81 L634.76 15.18 L635.09 17.75 L635.42 10.94 L635.75 14.13 L636.08 17.62 L636.41 13.06 L636.74 10.02 L637.07 11.57 L637.4 14.01 L637.73 21.02 L638.06 17.8 L638.39 15.46 L638.72 14.25 L639.05 13.54 L639.38 9 L639.71 10.21 L640.04 16.51 L640.37 12.6 L640.7 17.38 L641.03 18.53 L641.36 23.75 L641.69 16.14 L642.02 13.03 L642.35 16.69 L642.68 18.58 L643.01 15.88 L643.34 9.49 L643.67 17.27 L644 20.61 L644.33 10.63 L644.66 21.43 L644.99 16.16 L645.32 18.67 L645.65 17.15 L645.98 13.67 L646.31 24.32 L646.64 17.89 L646.97 9 L647.3 20.91 L647.63 9.68 L647.96 10.88 L648.29 23.4 L648.62 13.11 L648.95 18.4 L649.28 9.36 L649.61 13.41 L649.94 16.65 L650.27 18.64 L650.6 24.62 L650.93 13.68 L651.26 21.27 L651.59 26.81 L651.92 20.15 L652.25 15.89 L652.58 17.42 L652.91 25.2 L653.24 13.59 L653.57 11.87 L653.9 18.6 L654.23 10.6 L654.56 15.34 L654.89 22.57 L655.22 11.63 L655.55 8.91 L655.88 12.23 L656.21 15.97 L656.54 9.38 L656.87 16.9 L657.2 19.87 L657.53 8.45 L657.86 12.82 L658.19 8 L658.52 9.99 L658.85 14.5 L659.18 12.35 L659.51 13.1 L659.84 31.57 L660.17 29.36 L660.5 24.45 L660.83 8.77 L661.16 14.76 L661.49 31.3 L661.82 18.79 L662.15 24.23 L662.48 11.79 L662.81 30.34 L663.14 22.86 L663.47 10.88 L663.8 23.25 L664.13 10.77 L664.46 23.25 L664.79 13.95 L665.12 23.45 L665.45 14.98 L665.78 15.12 L666.11 29.16 L666.44 20.28 L666.77 21.89 L667.1 26.61 L667.43 18.22 L667.76 14.5 L668.09 10.38 L668.42 12.08 L668.75 24.92 L669.08 17.63 L669.41 32.2 L669.74 25.94 L670.07 17.63 L670.4 22.35 L670.73 17.7 L671.06 18.11 L671.39 25.84 L671.72 12.78 L672.05 18.35 L672.38 16.49 L672.71 11.25 L673.04 18.78 L673.37 27.8 L673.7 29.15 L674.03 22 L674.36 10.64 L674.69 21.75 L675.02 20.94 L675.35 19.05 L675.68 15.28 L676.01 27.3 L676.34 22.12 L676.67 10.47 L677 15.21 L677.33 15.44 L677.66 17.12 L677.99 10.27 L678.32 19.87 L678.65 9.94 L678.98 20.1 L679.31 10.98 L679.64 13.17 L679.97 12.72 L680.3 12.2 L680.63 9.33 L680.96 9.3 L681.29 14.15 L681.62 13.14 L682.12 9.62 L682.62 12.91 L683.12 13.33 L683.62 10.03 L684.12 11.84 L684.62 10 L685.12 10 L685.62 15.15 L686.12 10 L686.62 12.19 L687.12 12.96 L687.62 12.83 L688.12 12.99 L688.62 10 L689.12 10.29 L689.62 11.8 L690.12 10 L690.62 12.01 L691.12 15.17 L691.62 10 L692.12 12.27 L692.62 12.83 L693.12 10 L693.62 10.66 L694.12 11.28 L694.62 10 L695.12 12.32 L695.62 11.22 L696.12 11.86 L696.62 10 L697.12 11.25 L697.62 12.52 L698.12 10 L698.62 10 L699.12 12.94 L699.62 10 L700.12 12.79 L700.62 10.89 L701.12 10 L701.62 10.99 L702.12 14.59 L702.62 10.28 L703.12 14.26 L703.62 11.03 L704.12 12.06 L704.62 15.12 L705.12 14.86 L705.62 14.21 L706.12 12.63 L706.62 10.85 L707.12 10.82 L707.62 12.06 L708.12 15.08 L708.62 13.21 L709.12 13.24 L709.62 12.61 L710.12 11.01 L710.62 13.71 L711.12 12.84 L711.62 13.22 L712.12 12.06 L712.62 11.33 L713.12 14.61 L713.62 11.19 L714.12 11.91 L714.62 10.81 L715.12 11.28 L715.62 10 L716.12 11.73 L716.62 12.24 L717.12 14.53 L717.62 11.02 L718.12 12.12 L718.62 11.14 L719.12 14.28 L719.62 12.21 L720.12 11.18 L720.62 11.49 L721.12 10 L721.62 13.62 L722.12 14.25 L722.62 10.73 L723.12 10.5 L723.62 10.42 L724.12 13.44 L724.62 10.4 L725.12 13.89 L725.62 10 L726.12 13.5 L726.62 10.14 L727.12 11.97 L727.62 12.45 L728.12 10.51 L728.62 12.97 L729.12 11.41 L729.62 14.77 L730.12 10 L730.62 11.13 L731.12 12.34 L731.62 15.84 L732.12 12.22 L732.62 10 L733.12 12.98 L733.62 10.12 L734.12 10.35 L734.62 10.13 L735.12 11.66 L735.62 12.43 L736.12 12.75 L736.62 11.27 L737.12 10.95 L737.62 13.26 L738.12 11.2 L738.62 14.26 L739.12 11.07 L739.62 14.1 L740.12 10 L740.62 12.81 L741.12 11.47 L741.62 10.86 L742.12 14.18 L742.62 10.1 L743.12 12.36 L743.62 14.11 L744.12 10.5 L744.62 13.18 L745.12 15.53 L745.62 10.91 L746.12 12.08 L746.62 11.37 L747.12 11.89 L747.62 13.9 L748.12 15.26 L748.62 11.6 L749.12 10.03 L749.62 11.61 L750.12 13.96 L750.62 10.16 L751.12 9.87 L751.62 9.23 L752.12 11.58 L752.62 8.63 L753.12 7.69 L753.62 6.84 L754.12 11.05 L754.45 11.03 L754.78 8.6 L755.11 10.58 L755.44 8.89 L755.77 12.67 L756.1 13.19 L756.43 10.91 L756.76 12.69 L757.09 17.33 L757.42 17.37 L757.75 18.72 L758.08 21.9 L758.41 11.37 L758.74 11.13 L759.07 19.86 L759.4 18 L759.73 17.71 L760.06 11.24 L760.39 16.97 L760.72 11.29 L761.05 12.06 L761.38 22.97 L761.71 12.81 L762.04 11.39 L762.37 11.41 L762.7 11.58 L763.03 11.46 L763.36 14.5 L763.69 13.16 L764.02 18.36 L764.35 11.9 L764.68 18.08 L765.01 12.44 L765.34 19.81 L765.67 14.66 L766 15.13 L766.33 11.72 L766.66 16.08 L766.99 15.11 L767.32 19.28 L767.65 16.78 L767.98 12.97 L768.31 19.32 L768.64 13.66 L768.97 11.92 L769.3 11.95 L769.63 19.07 L769.96 16.01 L770.29 12.38 L770.62 12.03 L770.95 17.79 L771.28 12.06 L771.61 13.31 L771.94 15.56 L772.27 23.91 L772.6 18.63 L772.93 16.1 L773.26 12.63 L773.59 17.67 L773.92 17.41 L774.25 15.64 L774.58 17.17 L774.91 16.76 L775.24 12.85 L775.57 13.32 L775.9 15.42 L776.23 15.96 L776.56 13.09 L776.89 20.04 L777.22 16.18 L777.55 19.07 L777.88 12.9 L778.21 15.78 L778.54 19.42 L778.87 22.45 L779.2 19.61 L779.53 12.81 L779.86 14.13 L780.19 15.23 L780.52 16.9 L780.85 12.78 L781.18 21.64 L781.51 16.42 L781.84 19.86 L782.17 13.67 L782.5 15.83 L782.83 14.65 L783.16 15.7 L783.49 12.67 L783.82 21.71 L784.15 19.51 L784.48 15.78 L784.81 23.76 L785.14 21 L785.47 16.87 L785.8 18.77 L786.13 13.31 L786.46 16.44 L786.79 15.78 L787.12 19.17 L787.45 16.36 L787.78 18.54 L788.11 14.86 L788.44 19.82 L788.77 19.38 L789.1 13.72 L789.43 16.64 L789.76 17.75 L790.09 23.72 L790.42 17.39 L790.75 20.94 L791.08 17.44 L791.41 17.08 L791.74 17.73 L792.07 19.19 L792.4 24.17 L792.73 17.99 L793.06 19.98 L793.39 24.79 L793.72 24.52 L794.05 24.22 L794.38 19.18 L794.71 13.24 L795.04 16.29 L795.37 21.68 L795.7 20.42 L796.03 15.3 L796.36 13.32 L796.69 14.6 L797.02 14.89 L797.35 19.93 L797.68 16.6 L798.01 13.4 L798.34 19.79 L798.67 19.62 L799 23.74 L799.33 14.99 L799.66 16 L799.99 14.79 L800.32 13.52 L800.65 22.83 L800.98 16.2 L801.31 16.45 L801.64 13.7 L801.97 13.83 L802.3 18.54 L802.63 15.29 L802.96 15.17 L803.29 13.66 L803.62 25.26 L803.95 13.7 L804.28 13.71 L804.61 16.21 L804.94 15.64 L805.27 17.28 L805.6 13.78 L805.93 13.8 L806.26 13.81 L806.59 13.83 L806.92 19.97 L807.25 17.34 L807.58 19.66 L807.91 24.66 L808.24 13.91 L808.57 14.25 L808.9 16.96 L809.23 16.84 L809.56 20.13 L809.89 19.58 L810.22 19.29 L810.55 23.39 L810.88 18.07 L811.21 23.74 L811.54 19.08 L811.87 18.76 L812.2 20.19 L812.53 21.13 L812.86 21.38 L813.19 15.88 L813.52 19.97 L813.85 23.78 L814.18 21.16 L814.51 22.43 L814.84 16.41 L815.17 21.33 L815.5 24.19 L815.83 22.54 L816.16 22.44 L816.49 15.26 L816.82 18.62 L817.15 21.08 L817.48 21.53 L817.81 15.91 L818.14 16.24 L818.47 21.77 L818.8 23.82 L819.13 16.56 L819.46 16.92 L819.79 18.7 L820.12 21.12 L820.45 17.46 L820.78 18.74 L821.11 22.83 L821.44 25.02 L821.77 17.33 L822.1 20.43 L822.43 19.97 L822.76 20.48 L823.09 19.29 L823.42 19.57 L823.75 17.65 L824.08 22.87 L824.41 25.1 L824.74 20.19 L825.07 20.75 L825.4 18.42 L825.73 17.91 L826.06 17.09 L826.39 20.32 L826.72 23.89 L827.05 18.42 L827.38 21.97 L827.71 17.29 L828.04 20.7 L828.37 17.13 L828.7 21.21 L829.03 18.99 L829.36 19.7 L829.69 16.95 L830.02 19.33 L830.52 17.25 L831.02 21.07 L831.52 17.42 L832.02 17.24 L832.52 17.62 L833.02 22.11 L833.52 20.89 L834.02 19 L834.52 21.41 L835.02 19.67 L835.52 19.53 L836.02 24.01 L836.52 17.71 L837.02 21.4 L837.52 20.01 L838.02 20.48 L838.52 20.91 L839.02 20.45 L839.52 18.96 L840.02 20.38 L840.52 20.66 L841.02 21.22 L841.52 21.15 L842.02 21.31 L842.52 16.98 L843.02 16.9 L843.52 18.32 L844.02 18.58 L844.52 19.81 L845.02 18.08 L845.52 20.59 L846.02 21.55 L846.52 23.48 L847.02 21.04 L847.52 19.63 L848.02 22.97 L848.52 16.38 L849.02 21.13 L849.52 19.92 L850.02 18.33 L850.52 18.49 L851.02 20.14 L851.52 16.94 L852.02 20.69 L852.52 20.46 L853.02 17.18 L853.52 16.69 L854.02 17.55 L854.52 22.23 L855.02 17.74 L855.52 20.05 L856.02 18.68 L856.52 22.04 L857.02 22.17 L857.52 21.14 L858.02 21.76 L858.52 21.66 L859.02 20.73 L859.52 17.85 L860.02 18.96 L860.52 18.6 L861.02 20.98 L861.52 22.85 L862.02 17.79 L862.52 17.17 L863.02 18.66 L863.52 17.87 L864.02 20.04 L864.52 16.67 L865.02 15.82 L865.52 18.33 L866.02 16.81 L866.52 19.32 L867.02 21.67 L867.52 15.73 L868.02 19.03 L868.52 17.16 L869.02 15.68 L869.52 17.96 L870.02 15.64 L870.52 15.62 L871.02 15.93 L871.52 17.22 L872.02 17.37 L872.52 19 L873.02 17.44 L873.52 15.52 L874.02 18.24 L874.52 15.55 L875.02 16.54 L875.52 15.45 L876.02 15.43 L876.52 15.41 L877.02 16.01 L877.52 19.32 L878.02 15.74 L878.52 15.34 L879.02 16.61 L879.52 15.7 L880.02 16.47 L880.52 15.89 L881.02 19.51 L881.52 19.19 L882.02 18.93 L882.52 15.57 L883.02 17.38 L883.52 18.53 L884.02 16.45 L884.52 19.98 L885.02 16.62 L885.52 16.51 L886.02 15.38 L886.52 18.23 L887.02 20.25 L887.52 20.93 L888.02 19.25 L888.52 16.87 L889.02 14.82 L889.52 16.83 L890.02 16.15 L890.52 16.14 L891.02 16.17 L891.52 13.09 L892.02 14.3 L892.52 12.12 L893.02 13.82 L893.52 14.73 L894.02 12.38 L894.52 12.17 L895.02 14.69 L895.52 15.89 L896.02 14.56 L896.52 13.76 L897.02 16.84 L897.52 13 L898.02 16.59 L898.52 17.42 L899.02 16.48 L899.52 15.91 L900.02 12.88 L900.52 16.21 L901.02 18.95 L901.52 16.89 L902.02 13.4 L902.52 12.74 L903.02 17.74 L903.52 14.29 L904.02 12.72 L904.52 19.05 L905.02 13.16 L905.52 12.79 L906.02 15.52 L906.52 12.88 L907.02 13.2 L907.52 16.03 L908.02 14.47 L908.52 13.71 L909.02 13.51 L909.52 16.03 L910.02 12.49 L910.52 12.37 L911.02 16.37 L911.52 14.42 L912.02 13.13 L912.52 13.67 L913.02 14.43 L913.52 14.2 L914.02 12.84 L914.52 12.13 L915.02 12.29 L915.52 13.65 L916.02 13.05 L916.52 12.39 L917.02 12.6 L917.52 14.31 L918.02 14.14 L918.52 15.54 L919.02 14.74 L919.52 16.82 L920.02 17.64 L920.52 19.18 L921.02 20.43 L921.52 18.32 L922.02 21.26 L922.52 20.93 L923.02 21.71 L923.52 24.7 L924.02 23.77 L924.52 25.26 L925.02 27.06 L925.52 26.84 M927.52 11 L928.02 11.43 L928.52 12.29 L929.02 11.5 L929.52 11 L930.02 11.76 L930.52 11 L931.02 11 L931.52 12.33 L932.02 13.25 L932.52 12.54 L933.02 12.9 L933.52 14.54 L934.02 12.21 L934.52 11 L935.02 13.19 L935.52 11 L936.02 15.65 L936.52 12.75 L937.02 12.14 L937.52 11 L938.02 14.54 L938.52 11 L939.02 11 L939.52 12.37 L940.02 13.55 L940.52 18.16 L941.02 11 L941.52 12.22 L942.02 14.1 L942.52 13.74 L943.02 12.74 L943.52 15.26 L944.02 11 L944.52 15.69 L945.02 12.39 L945.52 14.78 L946.02 15.88 L946.52 15.58 L947.02 16.14 L947.52 15.3 L948.02 13.93 L948.52 13.74 L949.02 11.81 L949.52 11 L950.02 11.02 L950.52 14.02 L951.02 14.46 L951.52 13 L952.02 14.29 L952.52 16.89 L953.02 13.13 L953.52 12.86 L954.02 13.24 L954.52 15.17 L955.02 11.57 L955.52 11 L956.02 11.04 L956.52 13.25 L957.02 13.07 L957.52 14.25 L958.02 15.01 L958.52 16.01 L959.02 15 L959.52 16.72 L960.02 15 L960.52 15.47 L961.02 15.11 L961.52 17.07 L962.02 17.13 L962.52 16.42 L963.02 16.03 L963.52 15.78 L964.02 16.37 L964.52 16.59 L965.02 17.04 L965.52 17.82 L966.02 16.94 L966.52 17.03 L967.02 17.22 L967.52 16.67 L968.02 15.7 L968.52 17.61 L969.02 17.42 L969.52 17.33 L970.02 17.12 L970.52 16.93 L971.02 15.7 L971.52 15.14 L972.02 17.34 L972.52 15.95 L973.02 17.1 L973.52 17.17 L974.02 15.42 L974.52 15.97 L975.02 16.11 L975.52 17.67 L976.02 16.55 L976.52 16.57 L977.02 16.23 L977.52 16.97 L978.02 15.39 L978.52 15.9 L979.02 15.16 L979.52 17.01 L980.02 15.56 L980.52 16.91 L981.02 17.05 L981.52 15.69 L982.02 15.07 L982.52 15.53 L983.02 17.55 L983.52 16.51 L984.02 16.5 L984.52 17.43 L985.02 15 L985.52 15.16 L986.02 16.09 L986.52 16.6 L987.02 16.8 L987.52 15 L988.02 15.73 L988.52 15.8 L989.02 15 L989.52 15.45 L990.02 15 L990.52 15.07 L991.02 16.69 L991.52 17.7 L992.02 16.95 L992.52 16.23 L993.02 16.22 L993.52 18.78 L994.02 15.4 L994.52 15.93 L995.02 18.64 L995.52 15 L996.02 15.33 L996.52 15 L997.02 15.01 L997.52 15.82 L998.02 15.02 L998.52 15.14 L999.02 16.59 L999.52 15 L1000.02 15.49 L1000.52 16.28 L1001.02 18.51 L1001.52 16.93 L1002.02 14.95 L1002.52 13.7 L1003.02 18.04 L1003.35 13.82 L1003.68 11.32 L1004.01 19.32 L1004.34 12.85 L1004.67 18.73 L1005 15.46 L1005.33 16.65 L1005.66 16.58 L1005.99 17.41 L1006.32 11.03 L1006.65 16.78 L1006.98 10 L1007.31 17.4 L1007.64 19.7 L1007.97 11.94 L1008.3 15.12 L1008.63 10.2 L1008.96 13.53 L1009.29 10 L1009.62 19.78 L1009.95 15.96 L1010.28 11.37 L1010.61 14.77 L1010.94 10.59 L1011.27 17.9 L1011.6 17.11 L1011.93 17.53 L1012.26 11.38 L1012.59 18.71 L1012.92 10 L1013.25 10.6 L1013.58 16.14 L1013.91 17.88 L1014.24 21.78 L1014.57 11.42 L1014.9 13.96 L1015.23 13.77 L1015.56 14.93 L1015.89 16.86 L1016.22 18.36 L1016.55 11.29 L1016.88 12.15" fill="none" stroke="#ff8410" stroke-width="0.85" stroke-linejoin="round"/>
<path d="M85 71.8 L197.8 71.8 L197.8 94.5 L201.5 94.5 L201.5 105.6 L203 105.6 L203 94.5 L203.8 94.5 L203.8 105.6 L205 105.6 L205 94.5 L205.8 94.5 L205.8 105.6 L207 105.6 L207 94.5 L207.6 94.5 L207.6 105.6 L208.6 105.6 L208.6 94.5 L209.2 94.5 L209.2 105.6 L210.2 105.6 L210.2 94.5 L210.8 94.5 L210.8 105.6 L212 105.6 L212 94.5 L212.6 94.5 L212.6 105.6 L213.4 105.6 L213.4 94.5 L217.8 94.5 L217.8 105.6 L228 105.6 L228 94.5 L230.3 94.5 L230.3 71.8 L232.4 71.8 L232.4 94.5 L235.3 94.5 L235.3 105.6 L247.2 105.6 L247.2 94.5 L248.2 94.5 L248.2 105.6 L249.2 105.6 L249.2 94.5 L250.7 94.5 L250.7 115.6 L253 115.6 L253 105.6 L255 105.6 L255 115.6 L258 115.6 L258 105.6 L260 105.6 L260 115.6 L261 115.6 L261 105.6 L262 105.6 L262 115.6 L263 115.6 L263 105.6 L264 105.6 L264 94.5 L264.6 94.5 L264.6 105.6 L266.5 105.6 L266.5 115.6 L270 115.6 L270 105.6 L271.5 105.6 L271.5 115.6 L300.6 115.6 L300.6 94.5 L304.3 94.5 L304.3 71.8 L304.8 71.8 L304.8 94.5 L306.8 94.5 L306.8 105.6 L308.5 105.6 L308.5 71.8 L310 71.8 L310 94.5 L311.9 94.5 L311.9 71.8 L313.8 71.8 L313.8 94.5 L315.5 94.5 L315.5 71.8 L318.6 71.8 L318.6 94.5 L320.5 94.5 L320.5 71.8 L322.9 71.8 L322.9 94.5 L325 94.5 L325 71.8 L325.5 71.8 L325.5 94.5 L326.3 94.5 L326.3 105.6 L329 105.6 L329 94.5 L331 94.5 L331 105.6 L332.3 105.6 L332.3 71.8 L335.9 71.8 L335.9 94.5 L337.4 94.5 L337.4 71.8 L340.4 71.8 L340.4 94.5 L344 94.5 L344 71.8 L352.6 71.8 L352.6 94.5 L355.4 94.5 L355.4 71.8 L374.5 71.8 L374.5 94.5 L377.3 94.5 L377.3 105.6 L380.5 105.6 L380.5 94.5 L381.5 94.5 L381.5 71.8 L454.6 71.8 L454.6 94.5 L456.8 94.5 L456.8 105.6 L471.5 105.6 L471.5 94.5 L472.5 94.5 L472.5 105.6 L474.5 105.6 L474.5 94.5 L475.3 94.5 L475.3 105.6 L476.5 105.6 L476.5 94.5 L477.3 94.5 L477.3 105.6 L478.5 105.6 L478.5 94.5 L479.3 94.5 L479.3 105.6 L480.5 105.6 L480.5 94.5 L481.3 94.5 L481.3 105.6 L482.8 105.6 L482.8 94.5 L483.6 94.5 L483.6 105.6 L486 105.6 L486 94.5 L486.8 94.5 L486.8 105.6 L490 105.6 L490 94.5 L491 94.5 L491 105.6 L492 105.6 L492 94.5 L493 94.5 L493 105.6 L494 105.6 L494 94.5 L497.5 94.5 L497.5 105.6 L502.6 105.6 L502.6 94.5 L503.3 94.5 L503.3 105.6 L521.4 105.6 L521.4 115.6 L537.8 115.6 L537.8 94.5 L538.3 94.5 L538.3 115.6 L550.3 115.6 L550.3 105.6 L552.7 105.6 L552.7 94.5 L553.5 94.5 L553.5 105.6 L555 105.6 L555 94.5 L555.8 94.5 L555.8 105.6 L557.5 105.6 L557.5 94.5 L558.2 94.5 L558.2 105.6 L560.5 105.6 L560.5 71.8 L563.5 71.8 L563.5 94.5 L565.3 94.5 L565.3 71.8 L567.8 71.8 L567.8 94.5 L569 94.5 L569 105.6 L570 105.6 L570 94.5 L572.9 94.5 L572.9 71.8 L574.1 71.8 L574.1 94.5 L576 94.5 L576 105.6 L580.7 105.6 L580.7 71.8 L582.5 71.8 L582.5 94.5 L583.2 94.5 L583.2 71.8 L585 71.8 L585 94.5 L585.8 94.5 L585.8 71.8 L588 71.8 L588 94.5 L588.7 94.5 L588.7 71.8 L590.5 71.8 L590.5 94.5 L591 94.5 L591 71.8 L592.5 71.8 L592.5 94.5 L593 94.5 L593 71.8 L597.9 71.8 L597.9 94.5 L599.5 94.5 L599.5 105.6 L600.5 105.6 L600.5 94.5 L601.3 94.5 L601.3 105.6 L602.5 105.6 L602.5 94.5 L603.3 94.5 L603.3 105.6 L604.8 105.6 L604.8 94.5 L605.5 94.5 L605.5 105.6 L607 105.6 L607 94.5 L607.8 94.5 L607.8 105.6 L614.5 105.6 L614.5 94.5 L615.2 94.5 L615.2 105.6 L619 105.6 L619 94.5 L621 94.5 L621 84.6 L629.7 84.6 L629.7 94.5 L630.5 94.5 L630.5 105.6 L631.3 105.6 L631.3 94.5 L635.5 94.5 L635.5 84.6 L648 84.6 L648 94.5 L652.7 94.5 L652.7 105.6 L654 105.6 L654 94.5 L656.6 94.5 L656.6 105.6 L659 105.6 L659 94.5 L663.6 94.5 L663.6 105.6 L668.3 105.6 L668.3 94.5 L669 94.5 L669 105.6 L671.5 105.6 L671.5 94.5 L672.2 94.5 L672.2 105.6 L674 105.6 L674 94.5 L674.7 94.5 L674.7 105.6 L677.5 105.6 L677.5 94.5 L678 94.5 L678 105.6 L681.6 105.6 L681.6 115.6 L704.4 115.6 L704.4 105.6 L706 105.6 L706 115.6 L708 115.6 L708 105.6 L710 105.6 L710 115.6 L753.4 115.6 L753.4 105.6 L754.3 105.6 L754.3 71.8 L755.2 71.8 L755.2 105.6 L756 105.6 L756 94.5 L757 94.5 L757 105.6 L757.8 105.6 L757.8 94.5 L758.6 94.5 L758.6 105.6 L759.4 105.6 L759.4 94.5 L762.8 94.5 L762.8 105.6 L764.5 105.6 L764.5 94.5 L766.7 94.5 L766.7 105.6 L776 105.6 L776 94.5 L777 94.5 L777 105.6 L778 105.6 L778 94.5 L779 94.5 L779 105.6 L780 105.6 L780 94.5 L781 94.5 L781 105.6 L782 105.6 L782 94.5 L783 94.5 L783 105.6 L795 105.6 L795 94.5 L795.8 94.5 L795.8 105.6 L798 105.6 L798 94.5 L798.8 94.5 L798.8 105.6 L802 105.6 L802 94.5 L802.8 94.5 L802.8 105.6 L804.5 105.6 L804.5 94.5 L805 94.5 L805 84.6 L806.6 84.6 L806.6 94.5 L808 94.5 L808 105.6 L809 105.6 L809 94.5 L810 94.5 L810 105.6 L811 105.6 L811 94.5 L812.5 94.5 L812.5 84.6 L814.7 84.6 L814.7 94.5 L818.6 94.5 L818.6 84.6 L820.2 84.6 L820.2 94.5 L821 94.5 L821 105.6 L823 105.6 L823 94.5 L824.5 94.5 L824.5 105.6 L826 105.6 L826 94.5 L828 94.5 L828 105.6 L829 105.6 L829 94.5 L830 94.5 L830 105.6 L831 105.6 L831 94.5 L832 94.5 L832 105.6 L833 105.6 L833 94.5 L834 94.5 L834 105.6 L838.7 105.6 L838.7 71.8 L841 71.8 L841 94.5 L843.5 94.5 L843.5 71.8 L846 71.8 L846 94.5 L846 94.5 L846 71.8 L848 71.8 L848 94.5 L849.6 94.5 L849.6 71.8 L852.6 71.8 L852.6 94.5 L857.6 94.5 L857.6 71.8 L858.9 71.8 L858.9 94.5 L859.9 94.5 L859.9 71.8 L864.9 71.8 L864.9 94.5 L867.4 94.5 L867.4 71.8 L869.4 71.8 L869.4 94.5 L871 94.5 L871 105.6 L871.4 105.6 L871.4 71.8 L871.7 71.8 L871.7 94.5 L876.4 94.5 L876.4 94.5 L876.5 94.5 L876.5 105.6 L877.2 105.6 L877.2 94.5 L881.4 94.5 L881.4 71.8 L885.4 71.8 L885.4 94.5 L887 94.5 L887 71.8 L889 71.8 L889 94.5 L890.6 94.5 L890.6 71.8 L894.6 71.8 L894.6 94.5 L895.6 94.5 L895.6 71.8 L896.9 71.8 L896.9 94.5 L898.5 94.5 L898.5 71.8 L899.5 71.8 L899.5 94.5 L902 94.5 L902 71.8 L903 71.8 L903 94.5 L905.5 94.5 L905.5 71.8 L910.5 71.8 L910.5 94.5 L914.5 94.5 L914.5 71.8 L918.5 71.8 L918.5 94.5 L922.5 94.5 L922.5 71.8 L927 71.8 L927 71.8 L948.8 71.8 L948.8 94.5 L955 94.5 L955 71.8 L965.2 71.8 L965.2 94.5 L974 94.5 L974 71.8 L974.5 71.8 L974.5 94.5 L975.4 94.5 L975.4 105.6 L979.3 105.6 L979.3 94.5 L981.3 94.5 L981.3 71.8 L987 71.8 L987 94.5 L987.6 94.5 L987.6 71.8 L1002.5 71.8 L1002.5 94.5 L1004.6 94.5 L1004.6 71.8 L1020 71.8 L1020 71.8" fill="none" stroke="#ff4646" stroke-opacity="0.9" stroke-width="1"/>
<rect x="621" y="82.8" width="8.7" height="3" fill="#0010f0"/>
<rect x="635.5" y="82.8" width="12.5" height="3" fill="#0010f0"/>
<rect x="805" y="82.8" width="1.6" height="3" fill="#0010f0"/>
<rect x="812.5" y="82.8" width="2.2" height="3" fill="#0010f0"/>
<rect x="818.6" y="82.8" width="1.6" height="3" fill="#0010f0"/>
<text x="128.8" y="78.8" font-size="7.6" fill="#ff2232" textLength="16.2" lengthAdjust="spacingAndGlyphs" stroke="#ff2232" stroke-width="0.12">Wake</text>
<text x="359.6" y="78.8" font-size="7.6" fill="#ff2232" textLength="9.4" lengthAdjust="spacingAndGlyphs" stroke="#ff2232" stroke-width="0.12">Wa</text>
<text x="384.7" y="78.8" font-size="7.6" fill="#ff2232" textLength="16.1" lengthAdjust="spacingAndGlyphs" stroke="#ff2232" stroke-width="0.12">Wake</text>
<text x="423" y="78.8" font-size="7.6" fill="#ff2232" textLength="15.7" lengthAdjust="spacingAndGlyphs" stroke="#ff2232" stroke-width="0.12">Wake</text>
<text x="459.6" y="104.2" font-size="7.6" fill="#ff2232" textLength="8.4" lengthAdjust="spacingAndGlyphs" stroke="#ff2232" stroke-width="0.12">N2</text>
<text x="508" y="104.2" font-size="7.6" fill="#ff2232" textLength="8.5" lengthAdjust="spacingAndGlyphs" stroke="#ff2232" stroke-width="0.12">N2</text>
<text x="525.8" y="114.2" font-size="7.6" fill="#ff2232" textLength="8.2" lengthAdjust="spacingAndGlyphs" stroke="#ff2232" stroke-width="0.12">N3</text>
<text x="282" y="114.2" font-size="7.6" fill="#ff2232" textLength="8" lengthAdjust="spacingAndGlyphs" stroke="#ff2232" stroke-width="0.12">N3</text>
<text x="688.4" y="114.2" font-size="7.6" fill="#ff2232" textLength="8.6" lengthAdjust="spacingAndGlyphs" stroke="#ff2232" stroke-width="0.12">N3</text>
<text x="728" y="114.2" font-size="7.6" fill="#ff2232" textLength="8" lengthAdjust="spacingAndGlyphs" stroke="#ff2232" stroke-width="0.12">N3</text>
<text x="929.2" y="78.8" font-size="7.6" fill="#ff2232" textLength="16.4" lengthAdjust="spacingAndGlyphs" stroke="#ff2232" stroke-width="0.12">Wake</text>
<text x="989.5" y="78.8" font-size="7.6" fill="#ff2232" textLength="9.5" lengthAdjust="spacingAndGlyphs" stroke="#ff2232" stroke-width="0.12">Wa</text>
<rect x="640.42" y="168.09" width="1.16" height="5.51" fill="#effefe" stroke="#86f6f6" stroke-width="0.8"/>
<rect x="596.82" y="167.87" width="1.96" height="5.73" fill="#effefe" stroke="#86f6f6" stroke-width="0.8"/>
<rect x="556.03" y="166.42" width="1.94" height="7.18" fill="#effefe" stroke="#86f6f6" stroke-width="0.8"/>
<rect x="230.4" y="166" width="0.3" height="7.6" fill="#effefe" stroke="#86f6f6" stroke-width="0.8"/>
<rect x="214.4" y="165" width="0.9" height="8.6" fill="#effefe" stroke="#86f6f6" stroke-width="0.8"/>
<rect x="583.68" y="164.48" width="1.63" height="9.12" fill="#effefe" stroke="#86f6f6" stroke-width="0.8"/>
<rect x="564.08" y="164.28" width="0.84" height="9.32" fill="#effefe" stroke="#86f6f6" stroke-width="0.8"/>
<rect x="568.41" y="163.89" width="2.19" height="9.71" fill="#effefe" stroke="#86f6f6" stroke-width="0.8"/>
<rect x="573.7" y="163.65" width="1.6" height="9.95" fill="#effefe" stroke="#86f6f6" stroke-width="0.8"/>
<rect x="645.5" y="163.51" width="1.01" height="10.09" fill="#effefe" stroke="#86f6f6" stroke-width="0.8"/>
<rect x="238.2" y="163" width="0.8" height="10.6" fill="#effefe" stroke="#86f6f6" stroke-width="0.8"/>
<rect x="322.9" y="163" width="0.3" height="10.6" fill="#effefe" stroke="#86f6f6" stroke-width="0.8"/>
<rect x="320.6" y="162" width="0.3" height="11.6" fill="#effefe" stroke="#86f6f6" stroke-width="0.8"/>
<rect x="571.41" y="161.84" width="1.19" height="11.76" fill="#effefe" stroke="#86f6f6" stroke-width="0.8"/>
<rect x="561.54" y="161.75" width="0.92" height="11.85" fill="#effefe" stroke="#86f6f6" stroke-width="0.8"/>
<rect x="594.37" y="161.73" width="1.86" height="11.87" fill="#effefe" stroke="#86f6f6" stroke-width="0.8"/>
<rect x="576.27" y="161.69" width="1.46" height="11.91" fill="#effefe" stroke="#86f6f6" stroke-width="0.8"/>
<rect x="471.16" y="161.54" width="1.69" height="12.06" fill="#effefe" stroke="#86f6f6" stroke-width="0.8"/>
<rect x="757.06" y="160.54" width="1.88" height="13.06" fill="#effefe" stroke="#86f6f6" stroke-width="0.8"/>
<rect x="759.85" y="160.03" width="1.7" height="13.57" fill="#effefe" stroke="#86f6f6" stroke-width="0.8"/>
<rect x="332.4" y="160" width="0.3" height="13.6" fill="#effefe" stroke="#86f6f6" stroke-width="0.8"/>
<rect x="515.4" y="159.98" width="2.2" height="13.62" fill="#effefe" stroke="#86f6f6" stroke-width="0.8"/>
<rect x="580.99" y="159.87" width="2.01" height="13.73" fill="#effefe" stroke="#86f6f6" stroke-width="0.8"/>
<rect x="566.03" y="159.62" width="1.93" height="13.98" fill="#effefe" stroke="#86f6f6" stroke-width="0.8"/>
<rect x="558.52" y="159.22" width="1.97" height="14.38" fill="#effefe" stroke="#86f6f6" stroke-width="0.8"/>
<rect x="466.57" y="159.06" width="0.86" height="14.54" fill="#effefe" stroke="#86f6f6" stroke-width="0.8"/>
<rect x="766.16" y="159" width="1.67" height="14.6" fill="#effefe" stroke="#86f6f6" stroke-width="0.8"/>
<rect x="224.4" y="159" width="1.2" height="14.6" fill="#effefe" stroke="#86f6f6" stroke-width="0.8"/>
<rect x="578.81" y="158.58" width="1.37" height="15.02" fill="#effefe" stroke="#86f6f6" stroke-width="0.8"/>
<rect x="541.53" y="158.2" width="1.94" height="15.4" fill="#effefe" stroke="#86f6f6" stroke-width="0.8"/>
<rect x="777.78" y="158.05" width="1.45" height="15.55" fill="#effefe" stroke="#86f6f6" stroke-width="0.8"/>
<rect x="278.2" y="158" width="1" height="15.6" fill="#effefe" stroke="#86f6f6" stroke-width="0.8"/>
<rect x="628.74" y="157.92" width="1.72" height="15.68" fill="#effefe" stroke="#86f6f6" stroke-width="0.8"/>
<rect x="641.68" y="157.63" width="1.24" height="15.97" fill="#effefe" stroke="#86f6f6" stroke-width="0.8"/>
<rect x="463.68" y="157.12" width="1.64" height="16.48" fill="#effefe" stroke="#86f6f6" stroke-width="0.8"/>
<rect x="460.96" y="155.92" width="2.09" height="17.68" fill="#effefe" stroke="#86f6f6" stroke-width="0.8"/>
<rect x="833.56" y="155.62" width="1.89" height="17.98" fill="#effefe" stroke="#86f6f6" stroke-width="0.8"/>
<rect x="468.5" y="155.48" width="2.01" height="18.12" fill="#effefe" stroke="#86f6f6" stroke-width="0.8"/>
<rect x="779.91" y="155.33" width="2.18" height="18.27" fill="#effefe" stroke="#86f6f6" stroke-width="0.8"/>
<rect x="715.98" y="155.26" width="1.24" height="18.34" fill="#effefe" stroke="#86f6f6" stroke-width="0.8"/>
<rect x="281.8" y="155" width="1" height="18.6" fill="#effefe" stroke="#86f6f6" stroke-width="0.8"/>
<rect x="328.9" y="155" width="0.5" height="18.6" fill="#effefe" stroke="#86f6f6" stroke-width="0.8"/>
<rect x="625.11" y="154.94" width="1.38" height="18.66" fill="#effefe" stroke="#86f6f6" stroke-width="0.8"/>
<rect x="812.9" y="154.77" width="2.19" height="18.83" fill="#effefe" stroke="#86f6f6" stroke-width="0.8"/>
<rect x="635.12" y="154.64" width="1.76" height="18.96" fill="#effefe" stroke="#86f6f6" stroke-width="0.8"/>
<rect x="608.6" y="154.46" width="1.41" height="19.14" fill="#effefe" stroke="#86f6f6" stroke-width="0.8"/>
<rect x="254" y="154" width="1" height="19.6" fill="#effefe" stroke="#86f6f6" stroke-width="0.8"/>
<rect x="280" y="154" width="1" height="19.6" fill="#effefe" stroke="#86f6f6" stroke-width="0.8"/>
<rect x="459.46" y="153.97" width="1.07" height="19.63" fill="#effefe" stroke="#86f6f6" stroke-width="0.8"/>
<rect x="474.06" y="153.92" width="0.89" height="19.68" fill="#effefe" stroke="#86f6f6" stroke-width="0.8"/>
<rect x="643.08" y="153.66" width="1.05" height="19.94" fill="#effefe" stroke="#86f6f6" stroke-width="0.8"/>
<rect x="283.6" y="153.5" width="1" height="20.1" fill="#effefe" stroke="#86f6f6" stroke-width="0.8"/>
<rect x="761.88" y="153.18" width="1.65" height="20.42" fill="#effefe" stroke="#86f6f6" stroke-width="0.8"/>
<rect x="210.2" y="153" width="1" height="20.6" fill="#effefe" stroke="#86f6f6" stroke-width="0.8"/>
<rect x="216.1" y="153" width="1" height="20.6" fill="#effefe" stroke="#86f6f6" stroke-width="0.8"/>
<rect x="219.7" y="153" width="0.9" height="20.6" fill="#effefe" stroke="#86f6f6" stroke-width="0.8"/>
<rect x="330.9" y="153" width="0.7" height="20.6" fill="#effefe" stroke="#86f6f6" stroke-width="0.8"/>
<rect x="665.52" y="152.91" width="1.96" height="20.69" fill="#effefe" stroke="#86f6f6" stroke-width="0.8"/>
<rect x="782.76" y="152.33" width="1.69" height="21.27" fill="#effefe" stroke="#86f6f6" stroke-width="0.8"/>
<rect x="498.9" y="152.25" width="1.19" height="21.35" fill="#effefe" stroke="#86f6f6" stroke-width="0.8"/>
<rect x="496.15" y="152.19" width="1.7" height="21.41" fill="#effefe" stroke="#86f6f6" stroke-width="0.8"/>
<rect x="658.39" y="152.05" width="1.02" height="21.55" fill="#effefe" stroke="#86f6f6" stroke-width="0.8"/>
<rect x="243.4" y="152" width="0.9" height="21.6" fill="#effefe" stroke="#86f6f6" stroke-width="0.8"/>
<rect x="260.4" y="152" width="1.2" height="21.6" fill="#effefe" stroke="#86f6f6" stroke-width="0.8"/>
<rect x="285.4" y="152" width="0.9" height="21.6" fill="#effefe" stroke="#86f6f6" stroke-width="0.8"/>
<rect x="212.6" y="151.5" width="1" height="22.1" fill="#effefe" stroke="#86f6f6" stroke-width="0.8"/>
<rect x="841.04" y="151.49" width="1.93" height="22.11" fill="#effefe" stroke="#86f6f6" stroke-width="0.8"/>
<rect x="815.8" y="151.04" width="1.61" height="22.56" fill="#effefe" stroke="#86f6f6" stroke-width="0.8"/>
<rect x="478.46" y="150.83" width="2.09" height="22.77" fill="#effefe" stroke="#86f6f6" stroke-width="0.8"/>
<rect x="488.62" y="150.62" width="1.75" height="22.98" fill="#effefe" stroke="#86f6f6" stroke-width="0.8"/>
<rect x="514.01" y="150.57" width="0.98" height="23.03" fill="#effefe" stroke="#86f6f6" stroke-width="0.8"/>
<rect x="490.94" y="150.45" width="2.12" height="23.15" fill="#effefe" stroke="#86f6f6" stroke-width="0.8"/>
<rect x="611.02" y="150.26" width="1.56" height="23.34" fill="#effefe" stroke="#86f6f6" stroke-width="0.8"/>
<rect x="775.07" y="150.06" width="1.85" height="23.54" fill="#effefe" stroke="#86f6f6" stroke-width="0.8"/>
<rect x="208.4" y="150" width="1" height="23.6" fill="#effefe" stroke="#86f6f6" stroke-width="0.8"/>
<rect x="221.4" y="150" width="1" height="23.6" fill="#effefe" stroke="#86f6f6" stroke-width="0.8"/>
<rect x="226.8" y="150" width="0.8" height="23.6" fill="#effefe" stroke="#86f6f6" stroke-width="0.8"/>
<rect x="605.98" y="149.96" width="1.43" height="23.64" fill="#effefe" stroke="#86f6f6" stroke-width="0.8"/>
<rect x="647.15" y="149.85" width="1.69" height="23.75" fill="#effefe" stroke="#86f6f6" stroke-width="0.8"/>
<rect x="508.75" y="149.57" width="1.5" height="24.03" fill="#effefe" stroke="#86f6f6" stroke-width="0.8"/>
<rect x="650.12" y="149.53" width="2.15" height="24.07" fill="#effefe" stroke="#86f6f6" stroke-width="0.8"/>
<rect x="493.42" y="149.14" width="2.16" height="24.46" fill="#effefe" stroke="#86f6f6" stroke-width="0.8"/>
<rect x="245.1" y="149" width="1" height="24.6" fill="#effefe" stroke="#86f6f6" stroke-width="0.8"/>
<rect x="481.43" y="148.96" width="1.15" height="24.64" fill="#effefe" stroke="#86f6f6" stroke-width="0.8"/>
<rect x="603.49" y="148.9" width="1.01" height="24.7" fill="#effefe" stroke="#86f6f6" stroke-width="0.8"/>
<rect x="831.32" y="148.74" width="1.36" height="24.86" fill="#effefe" stroke="#86f6f6" stroke-width="0.8"/>
<rect x="843.54" y="148.29" width="1.92" height="25.31" fill="#effefe" stroke="#86f6f6" stroke-width="0.8"/>
<rect x="845.86" y="148.18" width="1.28" height="25.42" fill="#effefe" stroke="#86f6f6" stroke-width="0.8"/>
<rect x="764.06" y="148.06" width="0.87" height="25.54" fill="#effefe" stroke="#86f6f6" stroke-width="0.8"/>
<rect x="268.2" y="148" width="1" height="25.6" fill="#effefe" stroke="#86f6f6" stroke-width="0.8"/>
<rect x="476.09" y="147.86" width="1.81" height="25.74" fill="#effefe" stroke="#86f6f6" stroke-width="0.8"/>
<rect x="655.8" y="147.78" width="1.01" height="25.82" fill="#effefe" stroke="#86f6f6" stroke-width="0.8"/>
<rect x="483.6" y="147.62" width="1.8" height="25.98" fill="#effefe" stroke="#86f6f6" stroke-width="0.8"/>
<rect x="788.15" y="147.57" width="0.89" height="26.03" fill="#effefe" stroke="#86f6f6" stroke-width="0.8"/>
<rect x="648.98" y="146.39" width="2.05" height="27.21" fill="#effefe" stroke="#86f6f6" stroke-width="0.8"/>
<rect x="652.76" y="146.34" width="2.07" height="27.26" fill="#effefe" stroke="#86f6f6" stroke-width="0.8"/>
<rect x="250.4" y="146" width="1" height="27.6" fill="#effefe" stroke="#86f6f6" stroke-width="0.8"/>
<rect x="287.1" y="146" width="1.5" height="27.6" fill="#effefe" stroke="#86f6f6" stroke-width="0.8"/>
<rect x="501.13" y="145.53" width="1.74" height="28.07" fill="#effefe" stroke="#86f6f6" stroke-width="0.8"/>
<rect x="600.62" y="145.52" width="1.97" height="28.08" fill="#effefe" stroke="#86f6f6" stroke-width="0.8"/>
<rect x="803.58" y="145.43" width="0.83" height="28.17" fill="#effefe" stroke="#86f6f6" stroke-width="0.8"/>
<rect x="663.19" y="145.05" width="1.63" height="28.55" fill="#effefe" stroke="#86f6f6" stroke-width="0.8"/>
<rect x="222.6" y="145" width="1" height="28.6" fill="#effefe" stroke="#86f6f6" stroke-width="0.8"/>
<rect x="545.05" y="144.84" width="1.9" height="28.76" fill="#effefe" stroke="#86f6f6" stroke-width="0.8"/>
<rect x="805.7" y="144.72" width="1.61" height="28.88" fill="#effefe" stroke="#86f6f6" stroke-width="0.8"/>
<rect x="265.8" y="144" width="1" height="29.6" fill="#effefe" stroke="#86f6f6" stroke-width="0.8"/>
<rect x="767.33" y="143.96" width="1.94" height="29.64" fill="#effefe" stroke="#86f6f6" stroke-width="0.8"/>
<rect x="503.52" y="143.81" width="1.95" height="29.79" fill="#effefe" stroke="#86f6f6" stroke-width="0.8"/>
<rect x="674.27" y="143.73" width="0.86" height="29.87" fill="#effefe" stroke="#86f6f6" stroke-width="0.8"/>
<rect x="486.23" y="143.26" width="1.54" height="30.34" fill="#effefe" stroke="#86f6f6" stroke-width="0.8"/>
<rect x="618.4" y="143.25" width="1.99" height="30.35" fill="#effefe" stroke="#86f6f6" stroke-width="0.8"/>
<rect x="506.37" y="143.07" width="1.27" height="30.53" fill="#effefe" stroke="#86f6f6" stroke-width="0.8"/>
<rect x="821.17" y="143.01" width="1.07" height="30.59" fill="#effefe" stroke="#86f6f6" stroke-width="0.8"/>
<rect x="264" y="143" width="1" height="30.6" fill="#effefe" stroke="#86f6f6" stroke-width="0.8"/>
<rect x="828.59" y="142.7" width="1.61" height="30.9" fill="#effefe" stroke="#86f6f6" stroke-width="0.8"/>
<rect x="248.7" y="142.5" width="0.9" height="31.1" fill="#effefe" stroke="#86f6f6" stroke-width="0.8"/>
<rect x="823.33" y="142.11" width="1.94" height="31.49" fill="#effefe" stroke="#86f6f6" stroke-width="0.8"/>
<rect x="246.9" y="142" width="1" height="31.6" fill="#effefe" stroke="#86f6f6" stroke-width="0.8"/>
<rect x="633.32" y="141.59" width="1.35" height="32.01" fill="#effefe" stroke="#86f6f6" stroke-width="0.8"/>
<rect x="661.05" y="141.58" width="1.89" height="32.02" fill="#effefe" stroke="#86f6f6" stroke-width="0.8"/>
<rect x="774.09" y="141.26" width="1.22" height="32.34" fill="#effefe" stroke="#86f6f6" stroke-width="0.8"/>
<rect x="670.61" y="141.09" width="1.98" height="32.51" fill="#effefe" stroke="#86f6f6" stroke-width="0.8"/>
<rect x="795.57" y="140.59" width="1.47" height="33.01" fill="#effefe" stroke="#86f6f6" stroke-width="0.8"/>
<rect x="818.67" y="140.34" width="1.06" height="33.26" fill="#effefe" stroke="#86f6f6" stroke-width="0.8"/>
<rect x="631.53" y="140.21" width="1.33" height="33.39" fill="#effefe" stroke="#86f6f6" stroke-width="0.8"/>
<rect x="826.12" y="139.57" width="1.37" height="34.03" fill="#effefe" stroke="#86f6f6" stroke-width="0.8"/>
<rect x="252.2" y="139.5" width="1" height="34.1" fill="#effefe" stroke="#86f6f6" stroke-width="0.8"/>
<rect x="262.4" y="139" width="0.8" height="34.6" fill="#effefe" stroke="#86f6f6" stroke-width="0.8"/>
<rect x="615.26" y="138.75" width="1.88" height="34.85" fill="#effefe" stroke="#86f6f6" stroke-width="0.8"/>
<rect x="511.6" y="138.7" width="0.8" height="34.9" fill="#effefe" stroke="#86f6f6" stroke-width="0.8"/>
<rect x="637.74" y="138.54" width="1.52" height="35.06" fill="#effefe" stroke="#86f6f6" stroke-width="0.8"/>
<rect x="798.05" y="138.36" width="1.5" height="35.24" fill="#effefe" stroke="#86f6f6" stroke-width="0.8"/>
<rect x="808.33" y="138.23" width="1.35" height="35.37" fill="#effefe" stroke="#86f6f6" stroke-width="0.8"/>
<rect x="838.54" y="137.96" width="1.93" height="35.64" fill="#effefe" stroke="#86f6f6" stroke-width="0.8"/>
<rect x="671.89" y="137.41" width="2.02" height="36.19" fill="#effefe" stroke="#86f6f6" stroke-width="0.8"/>
<rect x="836.07" y="136.86" width="1.87" height="36.74" fill="#effefe" stroke="#86f6f6" stroke-width="0.8"/>
<rect x="800.52" y="136.12" width="1.76" height="37.48" fill="#effefe" stroke="#86f6f6" stroke-width="0.8"/>
<rect x="811.13" y="135.24" width="0.94" height="38.36" fill="#effefe" stroke="#86f6f6" stroke-width="0.8"/>
<rect x="617.18" y="135.21" width="2.05" height="38.39" fill="#effefe" stroke="#86f6f6" stroke-width="0.8"/>
<rect x="678.32" y="134.95" width="1.77" height="38.65" fill="#effefe" stroke="#86f6f6" stroke-width="0.8"/>
<rect x="792.75" y="134.8" width="1.89" height="38.8" fill="#effefe" stroke="#86f6f6" stroke-width="0.8"/>
<rect x="621.35" y="134.31" width="1.29" height="39.29" fill="#effefe" stroke="#86f6f6" stroke-width="0.8"/>
<rect x="772.39" y="132.8" width="1.03" height="40.8" fill="#effefe" stroke="#86f6f6" stroke-width="0.8"/>
<rect x="668.25" y="132.45" width="1.5" height="41.15" fill="#effefe" stroke="#86f6f6" stroke-width="0.8"/>
<rect x="790.22" y="132.27" width="1.96" height="41.33" fill="#effefe" stroke="#86f6f6" stroke-width="0.8"/>
<rect x="623.44" y="131.81" width="1.72" height="41.79" fill="#effefe" stroke="#86f6f6" stroke-width="0.8"/>
<rect x="659.86" y="131.03" width="1.28" height="42.57" fill="#effefe" stroke="#86f6f6" stroke-width="0.8"/>
<rect x="785.05" y="130.44" width="1.89" height="43.16" fill="#effefe" stroke="#86f6f6" stroke-width="0.8"/>
<rect x="270" y="128" width="1.6" height="45.6" fill="#effefe" stroke="#86f6f6" stroke-width="0.8"/>
<rect x="276.4" y="128" width="1" height="45.6" fill="#effefe" stroke="#86f6f6" stroke-width="0.8"/>
<rect x="770.09" y="123.74" width="1.41" height="49.86" fill="#effefe" stroke="#86f6f6" stroke-width="0.8"/>
<rect x="676.24" y="123.58" width="0.91" height="50.02" fill="#effefe" stroke="#86f6f6" stroke-width="0.8"/>
<rect x="255.2" y="113" width="0.9" height="60.6" fill="#effefe" stroke="#86f6f6" stroke-width="0.8"/>
<rect x="256.9" y="113" width="1.7" height="60.6" fill="#effefe" stroke="#86f6f6" stroke-width="0.8"/>
<rect x="272.4" y="103.5" width="0.9" height="70.1" fill="#effefe" stroke="#86f6f6" stroke-width="0.8"/>
<rect x="274.7" y="103.5" width="0.9" height="70.1" fill="#effefe" stroke="#86f6f6" stroke-width="0.8"/>
<rect x="461.62" y="167.95" width="1" height="5.65" fill="#7cf2f2"/>
<rect x="462.88" y="165.95" width="1" height="7.65" fill="#7cf2f2"/>
<rect x="466.08" y="169.21" width="1" height="4.39" fill="#7cf2f2"/>
<rect x="468.58" y="168.14" width="1" height="5.46" fill="#7cf2f2"/>
<rect x="473.49" y="160.74" width="1" height="12.86" fill="#7cf2f2"/>
<rect x="481.94" y="162.37" width="1" height="11.23" fill="#7cf2f2"/>
<rect x="483.07" y="153.88" width="1" height="19.72" fill="#7cf2f2"/>
<rect x="500.75" y="157.33" width="1" height="16.27" fill="#7cf2f2"/>
<rect x="503.72" y="149.69" width="1" height="23.91" fill="#7cf2f2"/>
<rect x="509.55" y="163.9" width="1" height="9.7" fill="#7cf2f2"/>
<rect x="542.39" y="164.36" width="1" height="9.24" fill="#7cf2f2"/>
<rect x="545.31" y="158.85" width="1" height="14.75" fill="#7cf2f2"/>
<rect x="562.28" y="176.12" width="1" height="-2.52" fill="#7cf2f2"/>
<rect x="564.66" y="172.93" width="1" height="0.67" fill="#7cf2f2"/>
<rect x="570.18" y="168.75" width="1" height="4.85" fill="#7cf2f2"/>
<rect x="576.51" y="172.81" width="1" height="0.79" fill="#7cf2f2"/>
<rect x="582.11" y="165.91" width="1" height="7.69" fill="#7cf2f2"/>
<rect x="596.14" y="177.87" width="1" height="-4.27" fill="#7cf2f2"/>
<rect x="607.73" y="163.11" width="1" height="10.49" fill="#7cf2f2"/>
<rect x="615.97" y="152.94" width="1" height="20.66" fill="#7cf2f2"/>
<rect x="620.75" y="138.29" width="1" height="35.31" fill="#7cf2f2"/>
<rect x="623.33" y="138.15" width="1" height="35.45" fill="#7cf2f2"/>
<rect x="631.23" y="154.19" width="1" height="19.41" fill="#7cf2f2"/>
<rect x="633.96" y="146.43" width="1" height="27.17" fill="#7cf2f2"/>
<rect x="638.39" y="148.88" width="1" height="24.72" fill="#7cf2f2"/>
<rect x="641.49" y="164.62" width="1" height="8.98" fill="#7cf2f2"/>
<rect x="649.69" y="150.12" width="1" height="23.48" fill="#7cf2f2"/>
<rect x="653.05" y="159.08" width="1" height="14.52" fill="#7cf2f2"/>
<rect x="657.24" y="156.3" width="1" height="17.3" fill="#7cf2f2"/>
<rect x="659.6" y="139.43" width="1" height="34.17" fill="#7cf2f2"/>
<rect x="671.63" y="145.11" width="1" height="28.49" fill="#7cf2f2"/>
<rect x="676.49" y="128.71" width="1" height="44.89" fill="#7cf2f2"/>
<rect x="679.41" y="140.17" width="1" height="33.43" fill="#7cf2f2"/>
<rect x="717.07" y="167.78" width="1" height="5.82" fill="#7cf2f2"/>
<rect x="759.26" y="168.14" width="1" height="5.46" fill="#7cf2f2"/>
<rect x="761.54" y="160.23" width="1" height="13.37" fill="#7cf2f2"/>
<rect x="764.97" y="159.93" width="1" height="13.67" fill="#7cf2f2"/>
<rect x="766.77" y="173.76" width="1" height="-0.16" fill="#7cf2f2"/>
<rect x="767.35" y="148.81" width="1" height="24.79" fill="#7cf2f2"/>
<rect x="773.38" y="154.8" width="1" height="18.8" fill="#7cf2f2"/>
<rect x="781.21" y="166.29" width="1" height="7.31" fill="#7cf2f2"/>
<rect x="783.52" y="160.9" width="1" height="12.7" fill="#7cf2f2"/>
<rect x="789.12" y="150.58" width="1" height="23.02" fill="#7cf2f2"/>
<rect x="792.77" y="147.33" width="1" height="26.27" fill="#7cf2f2"/>
<rect x="809.37" y="149.75" width="1" height="23.85" fill="#7cf2f2"/>
<rect x="811.93" y="141.97" width="1" height="31.63" fill="#7cf2f2"/>
<rect x="818.67" y="151.92" width="1" height="21.68" fill="#7cf2f2"/>
<rect x="820.75" y="153.16" width="1" height="20.44" fill="#7cf2f2"/>
<rect x="823.74" y="154.82" width="1" height="18.78" fill="#7cf2f2"/>
<rect x="832.02" y="155.19" width="1" height="18.41" fill="#7cf2f2"/>
<rect x="835.12" y="168.3" width="1" height="5.3" fill="#7cf2f2"/>
<rect x="838.77" y="148.71" width="1" height="24.89" fill="#7cf2f2"/>
<rect x="843.55" y="152.03" width="1" height="21.57" fill="#7cf2f2"/>
<rect x="846.19" y="152.14" width="1" height="21.46" fill="#7cf2f2"/>
<rect x="203" y="160" width="1.2" height="13.6" fill="#1e22e0"/>
<rect x="205" y="156.5" width="1.2" height="17.1" fill="#1e22e0"/>
<rect x="206.8" y="164" width="1.2" height="9.6" fill="#1e22e0"/>
<rect x="218" y="158" width="1.3" height="15.6" fill="#1e22e0"/>
<rect x="236.2" y="160" width="1.4" height="13.6" fill="#1e22e0"/>
<rect x="242" y="160" width="1.5" height="13.6" fill="#1e22e0"/>
<rect x="614" y="155" width="1.2" height="18.6" fill="#1e22e0"/>
<rect x="161.05" y="176" width="0.9" height="55" fill="#d8d8d8"/>
<rect x="164.85" y="176" width="0.9" height="55" fill="#d8d8d8"/>
<rect x="178.25" y="176" width="0.9" height="55" fill="#d8d8d8"/>
<rect x="187.15" y="176" width="0.9" height="55" fill="#d8d8d8"/>
<rect x="199.85" y="176" width="0.9" height="55" fill="#d8d8d8"/>
<rect x="383.25" y="176" width="0.9" height="55" fill="#d8d8d8"/>
<rect x="387.15" y="176" width="0.9" height="55" fill="#d8d8d8"/>
<rect x="444.05" y="176" width="0.9" height="55" fill="#d8d8d8"/>
<rect x="446.55" y="176" width="0.9" height="55" fill="#d8d8d8"/>
<rect x="683.55" y="176" width="0.9" height="55" fill="#d8d8d8"/>
<rect x="755.15" y="176" width="0.9" height="55" fill="#d8d8d8"/>
<rect x="863.55" y="176" width="0.9" height="55" fill="#d8d8d8"/>
<rect x="1011.25" y="176" width="0.9" height="55" fill="#d8d8d8"/>
<rect x="312" y="176" width="1.8" height="55" fill="#a4a4a4"/>
<rect x="198.4" y="222" width="3" height="9.2" fill="#ff9090"/>
<rect x="203" y="212" width="1.2" height="19.2" fill="#22e022"/>
<rect x="206.8" y="218" width="1.2" height="13.2" fill="#22e022"/>
<rect x="208.6" y="220" width="1.2" height="11.2" fill="#22e022"/>
<rect x="210.6" y="216" width="1.2" height="15.2" fill="#22e022"/>
<rect x="213.2" y="219" width="1.2" height="12.2" fill="#22e022"/>
<rect x="214.4" y="220" width="1.2" height="11.2" fill="#8ef08e"/>
<rect x="217" y="221" width="1.2" height="10.2" fill="#22e022"/>
<rect x="218.3" y="219" width="1.2" height="12.2" fill="#8ef08e"/>
<rect x="220.3" y="221" width="1.2" height="10.2" fill="#22e022"/>
<rect x="222.1" y="218" width="1.2" height="13.2" fill="#22e022"/>
<rect x="223.4" y="217" width="1.2" height="14.2" fill="#22e022"/>
<rect x="224.6" y="217" width="1.2" height="14.2" fill="#8ef08e"/>
<rect x="225.9" y="219" width="1.2" height="12.2" fill="#22e022"/>
<rect x="227.9" y="217" width="1.2" height="14.2" fill="#22e022"/>
<rect x="230.4" y="206" width="1.2" height="25.2" fill="#8ef08e"/>
<rect x="232.3" y="219" width="1.2" height="12.2" fill="#22e022"/>
<rect x="234" y="206" width="1.2" height="25.2" fill="#ff9090"/>
<rect x="234.9" y="225" width="1.6" height="6.2" fill="#ff1a1a"/>
<rect x="237.4" y="218" width="1.2" height="13.2" fill="#8ef08e"/>
<rect x="239.1" y="222" width="1.2" height="9.2" fill="#8ef08e"/>
<rect x="241.2" y="222" width="1.2" height="9.2" fill="#22e022"/>
<rect x="243.7" y="219" width="1.2" height="12.2" fill="#22e022"/>
<rect x="245.7" y="226" width="1.2" height="5.2" fill="#22e022"/>
<rect x="247.4" y="222" width="1.2" height="9.2" fill="#8ef08e"/>
<rect x="249.3" y="222" width="1.2" height="9.2" fill="#8ef08e"/>
<rect x="251.4" y="222" width="1.2" height="9.2" fill="#22e022"/>
<rect x="253.4" y="221" width="1.2" height="10.2" fill="#8ef08e"/>
<rect x="255.2" y="223" width="1.2" height="8.2" fill="#22e022"/>
<rect x="257.7" y="217" width="1.2" height="14.2" fill="#22e022"/>
<rect x="260.2" y="221" width="1.2" height="10.2" fill="#8ef08e"/>
<rect x="264.1" y="214" width="1.2" height="17.2" fill="#22e022"/>
<rect x="269.1" y="226" width="1.2" height="5.2" fill="#8ef08e"/>
<rect x="288.2" y="226" width="1.2" height="5.2" fill="#8ef08e"/>
<rect x="301" y="200.7" width="1.2" height="30.5" fill="#ff1a1a"/>
<rect x="302.2" y="221" width="1.2" height="10.2" fill="#ff9090"/>
<rect x="303.4" y="223" width="1.2" height="8.2" fill="#ff1a1a"/>
<rect x="306" y="221" width="1.2" height="10.2" fill="#ff1a1a"/>
<rect x="307.3" y="215" width="1.2" height="16.2" fill="#ff1a1a"/>
<rect x="308.5" y="177.8" width="1.4" height="53.4" fill="#ff9090"/>
<rect x="314.2" y="220" width="1.2" height="11.2" fill="#ff1a1a"/>
<rect x="315.4" y="210" width="1.2" height="21.2" fill="#ff1a1a"/>
<rect x="317" y="220" width="1.2" height="11.2" fill="#ff9090"/>
<rect x="319.4" y="224" width="1.2" height="7.2" fill="#ff1a1a"/>
<rect x="321.3" y="201" width="1.2" height="30.2" fill="#22e022"/>
<rect x="322.4" y="224" width="1.2" height="7.2" fill="#ff9090"/>
<rect x="324.6" y="190" width="1.2" height="41.2" fill="#22e022"/>
<rect x="326.4" y="209" width="1.2" height="22.2" fill="#22e022"/>
<rect x="328.2" y="209" width="1.2" height="22.2" fill="#ff1a1a"/>
<rect x="329" y="221" width="1.2" height="10.2" fill="#22e022"/>
<rect x="330.2" y="222" width="1.2" height="9.2" fill="#22e022"/>
<rect x="332.1" y="191" width="1.4" height="40.2" fill="#22e022"/>
<rect x="337" y="220" width="1.2" height="11.2" fill="#ff1a1a"/>
<rect x="340.9" y="212" width="1.2" height="19.2" fill="#ff1a1a"/>
<rect x="342.4" y="219" width="1.2" height="12.2" fill="#ff9090"/>
<rect x="353.8" y="209" width="1.2" height="22.2" fill="#ff1a1a"/>
<rect x="356.8" y="197" width="1.4" height="34.2" fill="#ff1a1a"/>
<rect x="374.9" y="220" width="1.2" height="11.2" fill="#ff1a1a"/>
<rect x="376.4" y="208" width="1.2" height="23.2" fill="#ff9090"/>
<rect x="380.9" y="186" width="1.2" height="45.2" fill="#ff1a1a"/>
<rect x="380.4" y="222" width="1.2" height="9.2" fill="#ff9090"/>
<rect x="454.3" y="217" width="1.4" height="14.2" fill="#ff9090"/>
<rect x="456.4" y="217" width="1.2" height="14.2" fill="#ff1a1a"/>
<rect x="466.4" y="219.19" width="1.2" height="12.01" fill="#22e022"/>
<rect x="468.36" y="217.73" width="1.2" height="13.47" fill="#22e022"/>
<rect x="470.5" y="223.02" width="1.2" height="8.18" fill="#8ef08e"/>
<rect x="472.38" y="215.99" width="1.2" height="15.21" fill="#8ef08e"/>
<rect x="474.37" y="219.64" width="1.2" height="11.56" fill="#22e022"/>
<rect x="476.34" y="223.72" width="1.2" height="7.48" fill="#22e022"/>
<rect x="478.51" y="224.48" width="1.2" height="6.72" fill="#22e022"/>
<rect x="480.04" y="222.27" width="1.2" height="8.93" fill="#22e022"/>
<rect x="482.28" y="215.91" width="1.2" height="15.29" fill="#8ef08e"/>
<rect x="484.36" y="220.16" width="1.2" height="11.04" fill="#22e022"/>
<rect x="486.11" y="221.14" width="1.2" height="10.06" fill="#8ef08e"/>
<rect x="487.87" y="225.89" width="1.2" height="5.31" fill="#8ef08e"/>
<rect x="489.76" y="220.71" width="1.2" height="10.49" fill="#22e022"/>
<rect x="491.28" y="225.74" width="1.2" height="5.46" fill="#22e022"/>
<rect x="492.97" y="225.48" width="1.2" height="5.72" fill="#22e022"/>
<rect x="495.06" y="221.55" width="1.2" height="9.65" fill="#22e022"/>
<rect x="497.44" y="222.26" width="1.2" height="8.94" fill="#8ef08e"/>
<rect x="498.78" y="216.88" width="1.2" height="14.32" fill="#22e022"/>
<rect x="500.83" y="215.89" width="1.2" height="15.31" fill="#22e022"/>
<rect x="502.6" y="216.57" width="1.2" height="14.63" fill="#22e022"/>
<rect x="504.58" y="218.63" width="1.2" height="12.57" fill="#22e022"/>
<rect x="506.46" y="224.9" width="1.2" height="6.3" fill="#22e022"/>
<rect x="508.83" y="219.87" width="1.2" height="11.33" fill="#22e022"/>
<rect x="510.73" y="218.89" width="1.2" height="12.31" fill="#22e022"/>
<rect x="486.4" y="219" width="1.2" height="12.2" fill="#a06020"/>
<rect x="506.4" y="220" width="1.2" height="11.2" fill="#a06020"/>
<rect x="534.9" y="214" width="1.2" height="17.2" fill="#ff1a1a"/>
<rect x="536.9" y="222" width="1.2" height="9.2" fill="#ff9090"/>
<rect x="548.9" y="217" width="1.2" height="14.2" fill="#ff9090"/>
<rect x="550.4" y="220" width="1.2" height="11.2" fill="#ff1a1a"/>
<rect x="553" y="199" width="1.4" height="32.2" fill="#ff1a1a"/>
<rect x="554.4" y="221" width="1.2" height="10.2" fill="#ff9090"/>
<rect x="555.4" y="218" width="1.2" height="13.2" fill="#22e022"/>
<rect x="557.4" y="220" width="1.2" height="11.2" fill="#22e022"/>
<rect x="561.1" y="191" width="1.4" height="40.2" fill="#22e022"/>
<rect x="562.4" y="222" width="1.2" height="9.2" fill="#22e022"/>
<rect x="565" y="217" width="1.2" height="14.2" fill="#ff9090"/>
<rect x="566.4" y="216" width="1.2" height="15.2" fill="#22e022"/>
<rect x="569.4" y="211" width="1.2" height="20.2" fill="#22e022"/>
<rect x="571.4" y="220" width="1.2" height="11.2" fill="#22e022"/>
<rect x="573.4" y="219" width="1.2" height="12.2" fill="#ff9090"/>
<rect x="575.4" y="221" width="1.2" height="10.2" fill="#22e022"/>
<rect x="577.4" y="222" width="1.2" height="9.2" fill="#22e022"/>
<rect x="580.2" y="183" width="1.6" height="48.2" fill="#ff9090"/>
<rect x="582.9" y="195" width="1.2" height="36.2" fill="#22e022"/>
<rect x="587.4" y="191" width="1.2" height="40.2" fill="#ff1a1a"/>
<rect x="588.9" y="220" width="1.2" height="11.2" fill="#ff1a1a"/>
<rect x="590.4" y="224" width="1.2" height="7.2" fill="#ff1a1a"/>
<rect x="593.9" y="182" width="1.4" height="49.2" fill="#ff1a1a"/>
<rect x="595.9" y="191" width="1.2" height="40.2" fill="#22e022"/>
<rect x="597.6" y="216" width="1.2" height="15.2" fill="#8ef08e"/>
<rect x="599.4" y="216.44" width="1.2" height="14.76" fill="#22e022"/>
<rect x="601.84" y="223.57" width="1.2" height="7.63" fill="#8ef08e"/>
<rect x="603.42" y="216.37" width="1.2" height="14.83" fill="#22e022"/>
<rect x="604.96" y="216.92" width="1.2" height="14.28" fill="#8ef08e"/>
<rect x="606.57" y="225.17" width="1.2" height="6.03" fill="#22e022"/>
<rect x="609.03" y="223.48" width="1.2" height="7.72" fill="#8ef08e"/>
<rect x="611.39" y="216.29" width="1.2" height="14.91" fill="#8ef08e"/>
<rect x="613.77" y="222.46" width="1.2" height="8.74" fill="#22e022"/>
<rect x="615.78" y="221.44" width="1.2" height="9.76" fill="#22e022"/>
<rect x="617.23" y="219.15" width="1.2" height="12.05" fill="#22e022"/>
<rect x="619.04" y="219.25" width="1.2" height="11.95" fill="#22e022"/>
<rect x="621.41" y="216.02" width="1.2" height="15.18" fill="#8ef08e"/>
<rect x="623.87" y="222.94" width="1.2" height="8.26" fill="#8ef08e"/>
<rect x="625.75" y="217.53" width="1.2" height="13.67" fill="#22e022"/>
<rect x="628.17" y="222.19" width="1.2" height="9.01" fill="#22e022"/>
<rect x="629.94" y="222.93" width="1.2" height="8.27" fill="#8ef08e"/>
<rect x="631.61" y="222.42" width="1.2" height="8.78" fill="#8ef08e"/>
<rect x="633.31" y="219.82" width="1.2" height="11.38" fill="#8ef08e"/>
<rect x="635.86" y="219.63" width="1.2" height="11.57" fill="#22e022"/>
<rect x="638.35" y="220.53" width="1.2" height="10.67" fill="#22e022"/>
<rect x="640.83" y="223.67" width="1.2" height="7.53" fill="#8ef08e"/>
<rect x="642.87" y="219.74" width="1.2" height="11.46" fill="#8ef08e"/>
<rect x="644.62" y="224.09" width="1.2" height="7.11" fill="#8ef08e"/>
<rect x="646.21" y="222.46" width="1.2" height="8.74" fill="#22e022"/>
<rect x="648.34" y="222.33" width="1.2" height="8.87" fill="#8ef08e"/>
<rect x="650.27" y="218.71" width="1.2" height="12.49" fill="#22e022"/>
<rect x="651.91" y="222.34" width="1.2" height="8.86" fill="#22e022"/>
<rect x="654.14" y="224.8" width="1.2" height="6.4" fill="#22e022"/>
<rect x="656.34" y="217.87" width="1.2" height="13.33" fill="#8ef08e"/>
<rect x="658.24" y="217.54" width="1.2" height="13.66" fill="#8ef08e"/>
<rect x="660.67" y="222.22" width="1.2" height="8.98" fill="#8ef08e"/>
<rect x="662.08" y="220.85" width="1.2" height="10.35" fill="#8ef08e"/>
<rect x="663.48" y="225.45" width="1.2" height="5.75" fill="#8ef08e"/>
<rect x="666.05" y="220.62" width="1.2" height="10.58" fill="#22e022"/>
<rect x="668.42" y="217.9" width="1.2" height="13.3" fill="#22e022"/>
<rect x="670.84" y="220.15" width="1.2" height="11.05" fill="#22e022"/>
<rect x="672.88" y="223.45" width="1.2" height="7.75" fill="#8ef08e"/>
<rect x="675.27" y="223.46" width="1.2" height="7.74" fill="#8ef08e"/>
<rect x="676.92" y="225.99" width="1.2" height="5.21" fill="#22e022"/>
<rect x="679.28" y="221.39" width="1.2" height="9.81" fill="#22e022"/>
<rect x="621.4" y="221" width="1.2" height="10.2" fill="#ff1a1a"/>
<rect x="648.4" y="222" width="1.2" height="9.2" fill="#ff1a1a"/>
<rect x="649.4" y="222" width="1.2" height="9.2" fill="#ff1a1a"/>
<rect x="703.85" y="218" width="1.3" height="13.2" fill="#ff1a1a"/>
<rect x="705.4" y="219" width="1.2" height="12.2" fill="#ff1a1a"/>
<rect x="707.35" y="220" width="1.3" height="11.2" fill="#ff1a1a"/>
<rect x="715.35" y="214" width="1.3" height="17.2" fill="#ff1a1a"/>
<rect x="751.95" y="214" width="1.3" height="17.2" fill="#ff9090"/>
<rect x="754.4" y="222" width="1.2" height="9.2" fill="#ff9090"/>
<rect x="756.4" y="220" width="1.2" height="11.2" fill="#ff1a1a"/>
<rect x="757.4" y="219.7" width="1.2" height="11.5" fill="#22e022"/>
<rect x="759.96" y="225.53" width="1.2" height="5.67" fill="#8ef08e"/>
<rect x="762.03" y="218.75" width="1.2" height="12.45" fill="#8ef08e"/>
<rect x="763.46" y="220.59" width="1.2" height="10.61" fill="#22e022"/>
<rect x="764.98" y="219.96" width="1.2" height="11.24" fill="#22e022"/>
<rect x="767.42" y="224.81" width="1.2" height="6.39" fill="#22e022"/>
<rect x="769.62" y="220.76" width="1.2" height="10.44" fill="#22e022"/>
<rect x="772.17" y="220.24" width="1.2" height="10.96" fill="#22e022"/>
<rect x="773.74" y="222.15" width="1.2" height="9.05" fill="#22e022"/>
<rect x="776.19" y="218.65" width="1.2" height="12.55" fill="#22e022"/>
<rect x="778.68" y="222.16" width="1.2" height="9.04" fill="#22e022"/>
<rect x="780.79" y="222.99" width="1.2" height="8.21" fill="#22e022"/>
<rect x="783.37" y="219.16" width="1.2" height="12.04" fill="#8ef08e"/>
<rect x="785.26" y="218.03" width="1.2" height="13.17" fill="#22e022"/>
<rect x="787.6" y="220.02" width="1.2" height="11.18" fill="#22e022"/>
<rect x="789.85" y="223.13" width="1.2" height="8.07" fill="#8ef08e"/>
<rect x="791.51" y="222.25" width="1.2" height="8.95" fill="#22e022"/>
<rect x="793.35" y="218.23" width="1.2" height="12.97" fill="#22e022"/>
<rect x="795.85" y="217.33" width="1.2" height="13.87" fill="#22e022"/>
<rect x="797.59" y="222" width="1.2" height="9.2" fill="#22e022"/>
<rect x="799.27" y="217.52" width="1.2" height="13.68" fill="#22e022"/>
<rect x="801.58" y="224.25" width="1.2" height="6.95" fill="#22e022"/>
<rect x="803.03" y="219.46" width="1.2" height="11.74" fill="#22e022"/>
<rect x="805.18" y="222.04" width="1.2" height="9.16" fill="#22e022"/>
<rect x="806.74" y="218.56" width="1.2" height="12.64" fill="#8ef08e"/>
<rect x="808.5" y="217.73" width="1.2" height="13.47" fill="#8ef08e"/>
<rect x="810.68" y="218.13" width="1.2" height="13.07" fill="#8ef08e"/>
<rect x="812.16" y="217.78" width="1.2" height="13.42" fill="#8ef08e"/>
<rect x="814.45" y="220.41" width="1.2" height="10.79" fill="#8ef08e"/>
<rect x="816.21" y="219.08" width="1.2" height="12.12" fill="#8ef08e"/>
<rect x="818.3" y="218.45" width="1.2" height="12.75" fill="#8ef08e"/>
<rect x="820.6" y="224.28" width="1.2" height="6.92" fill="#8ef08e"/>
<rect x="822.47" y="218.62" width="1.2" height="12.58" fill="#8ef08e"/>
<rect x="823.92" y="222.79" width="1.2" height="8.41" fill="#22e022"/>
<rect x="825.89" y="219.08" width="1.2" height="12.12" fill="#22e022"/>
<rect x="828.38" y="224.04" width="1.2" height="7.16" fill="#22e022"/>
<rect x="830.97" y="220.99" width="1.2" height="10.21" fill="#8ef08e"/>
<rect x="833.3" y="224.89" width="1.2" height="6.31" fill="#22e022"/>
<rect x="834.81" y="223.97" width="1.2" height="7.23" fill="#22e022"/>
<rect x="775.85" y="212" width="1.3" height="19.2" fill="#ff1a1a"/>
<rect x="786.95" y="204" width="1.3" height="27.2" fill="#22e022"/>
<rect x="796.4" y="217" width="1.2" height="14.2" fill="#22e022"/>
<rect x="822.4" y="218" width="1.2" height="13.2" fill="#ff1a1a"/>
<rect x="830.4" y="215" width="1.2" height="16.2" fill="#8ef08e"/>
<rect x="832.4" y="214" width="1.2" height="17.2" fill="#22e022"/>
<rect x="834.9" y="211" width="1.2" height="20.2" fill="#22e022"/>
<rect x="837.95" y="198.5" width="1.3" height="32.7" fill="#22e022"/>
<rect x="840.95" y="225" width="1.3" height="6.2" fill="#ff1a1a"/>
<rect x="843.8" y="180" width="1.4" height="51.2" fill="#22e022"/>
<rect x="846.15" y="203" width="1.3" height="28.2" fill="#22e022"/>
<rect x="851.2" y="210" width="1.2" height="21.2" fill="#ff1a1a"/>
<rect x="853" y="216" width="1.2" height="15.2" fill="#ff9090"/>
<rect x="856.1" y="197" width="1.2" height="34.2" fill="#ff1a1a"/>
<rect x="857" y="225" width="1.2" height="6.2" fill="#ff1a1a"/>
<rect x="858.9" y="210" width="1.2" height="21.2" fill="#ff1a1a"/>
<rect x="861.4" y="220" width="1.2" height="11.2" fill="#ff1a1a"/>
<rect x="868.4" y="220" width="1.2" height="11.2" fill="#ff9090"/>
<rect x="869.35" y="193" width="1.3" height="38.2" fill="#ff1a1a"/>
<rect x="871.9" y="199" width="1.2" height="32.2" fill="#ff1a1a"/>
<rect x="872.9" y="207" width="1.2" height="24.2" fill="#2a2a2a"/>
<rect x="875.4" y="222" width="1.2" height="9.2" fill="#ff1a1a"/>
<rect x="878.85" y="193" width="1.3" height="38.2" fill="#ff1a1a"/>
<rect x="880.35" y="189" width="1.3" height="42.2" fill="#ff1a1a"/>
<rect x="879.9" y="205" width="1.2" height="26.2" fill="#ff1a1a"/>
<rect x="886.9" y="200" width="1.2" height="31.2" fill="#ff1a1a"/>
<rect x="888.35" y="186" width="1.3" height="45.2" fill="#ff1a1a"/>
<rect x="890.35" y="189" width="1.3" height="42.2" fill="#ff1a1a"/>
<rect x="894.9" y="221" width="1.2" height="10.2" fill="#ff1a1a"/>
<rect x="894.4" y="224" width="1.2" height="7.2" fill="#2a2a2a"/>
<rect x="897.4" y="221" width="1.2" height="10.2" fill="#ff9090"/>
<rect x="899.95" y="186" width="1.3" height="45.2" fill="#2a2a2a"/>
<rect x="905.4" y="218" width="1.2" height="13.2" fill="#ff9090"/>
<rect x="908.8" y="178" width="1.4" height="53.2" fill="#ff1a1a"/>
<rect x="910.85" y="188" width="1.3" height="43.2" fill="#ff1a1a"/>
<rect x="920.9" y="221" width="1.2" height="10.2" fill="#ff1a1a"/>
<rect x="921.8" y="188" width="1.4" height="43.2" fill="#606060"/>
<rect x="923.9" y="216" width="1.2" height="15.2" fill="#ff9090"/>
<rect x="926.05" y="204" width="1.3" height="27.2" fill="#ff1a1a"/>
<rect x="949.8" y="183" width="1.4" height="48.2" fill="#ff9090"/>
<rect x="951.4" y="216" width="1.2" height="15.2" fill="#ff1a1a"/>
<rect x="953.4" y="221" width="1.2" height="10.2" fill="#ff1a1a"/>
<rect x="966.4" y="206" width="1.2" height="25.2" fill="#2a2a2a"/>
<rect x="969.4" y="218" width="1.2" height="13.2" fill="#ff1a1a"/>
<rect x="972" y="216" width="1.2" height="15.2" fill="#ff9090"/>
<rect x="973.4" y="221" width="1.2" height="10.2" fill="#ff1a1a"/>
<rect x="978.85" y="222" width="1.3" height="9.2" fill="#606060"/>
<rect x="980.85" y="195" width="1.3" height="36.2" fill="#ff1a1a"/>
<rect x="987.2" y="210" width="1.2" height="21.2" fill="#ff1a1a"/>
<rect x="988.1" y="213" width="1.2" height="18.2" fill="#ff9090"/>
<rect x="1003.9" y="193" width="1.4" height="38.2" fill="#ff1a1a"/>
<rect x="85" y="240.4" width="26.7" height="1.2" fill="#bd8a8e"/>
<rect x="111.2" y="241" width="1" height="38.6" fill="#bcbc6a"/>
<rect x="111.7" y="278.7" width="66.3" height="1.8" fill="#1a2a80"/>
<rect x="177.5" y="241" width="1" height="38.6" fill="#bcbc6a"/>
<rect x="178" y="240.4" width="179.5" height="1.2" fill="#bd8a8e"/>
<rect x="189" y="241" width="1.2" height="28.4" fill="#a8a830"/>
<rect x="357" y="241" width="1" height="19.2" fill="#bcbc6a"/>
<rect x="357.5" y="259.6" width="8" height="1.2" fill="#ff40ff"/>
<rect x="365" y="241" width="1" height="19.2" fill="#bcbc6a"/>
<rect x="365.5" y="240.4" width="22.7" height="1.2" fill="#bd8a8e"/>
<rect x="387.7" y="241" width="1" height="19.2" fill="#bcbc6a"/>
<rect x="388.2" y="259.6" width="3.3" height="1.2" fill="#ff40ff"/>
<rect x="391" y="241" width="1" height="19.2" fill="#bcbc6a"/>
<rect x="391.5" y="240.4" width="4.5" height="1.2" fill="#bd8a8e"/>
<rect x="395.5" y="241" width="1" height="19.2" fill="#bcbc6a"/>
<rect x="396" y="259.6" width="5.3" height="1.2" fill="#ff40ff"/>
<rect x="400.8" y="241" width="1" height="19.2" fill="#bcbc6a"/>
<rect x="401.3" y="240.4" width="1.9" height="1.2" fill="#bd8a8e"/>
<rect x="402.7" y="241" width="1" height="38.6" fill="#bcbc6a"/>
<rect x="403.2" y="278.7" width="2" height="1.8" fill="#1a2a80"/>
<rect x="404.7" y="279.6" width="1" height="8.1" fill="#bcbc6a"/>
<rect x="405.2" y="287.1" width="4.5" height="1.2" fill="#bcbc6a"/>
<rect x="409.2" y="279.6" width="1" height="8.1" fill="#bcbc6a"/>
<rect x="409.7" y="278.7" width="1.9" height="1.8" fill="#1a2a80"/>
<rect x="411.1" y="241" width="1" height="38.6" fill="#bcbc6a"/>
<rect x="411.6" y="240.4" width="502.6" height="1.2" fill="#bd8a8e"/>
<rect x="913.7" y="241" width="1" height="19.2" fill="#bcbc6a"/>
<rect x="914.2" y="259.6" width="12.3" height="1.2" fill="#ff40ff"/>
<rect x="926" y="241" width="1" height="19.2" fill="#bcbc6a"/>
<rect x="926.5" y="240.4" width="30.5" height="1.2" fill="#bd8a8e"/>
<rect x="956.5" y="241" width="1" height="28.2" fill="#bcbc6a"/>
<rect x="957" y="268.6" width="17.5" height="1.2" fill="#30f0f0"/>
<rect x="974" y="241" width="1" height="28.2" fill="#bcbc6a"/>
<rect x="974.5" y="240.4" width="37.5" height="1.2" fill="#bd8a8e"/>
<rect x="1011.5" y="241" width="1" height="38.6" fill="#bcbc6a"/>
<rect x="1012" y="278.7" width="8.5" height="1.8" fill="#1a2a80"/>
<text x="88" y="248.6" font-size="7.2" fill="#a05860" textLength="19.4" lengthAdjust="spacingAndGlyphs" stroke="#a05860" stroke-width="0.15">仰向け</text>
<text x="263.4" y="248.6" font-size="7.2" fill="#a05860" textLength="20.3" lengthAdjust="spacingAndGlyphs" stroke="#a05860" stroke-width="0.15">仰向け</text>
<text x="652.5" y="248.6" font-size="7.2" fill="#a05860" textLength="19.5" lengthAdjust="spacingAndGlyphs" stroke="#a05860" stroke-width="0.15">仰向け</text>
<text x="932" y="248.6" font-size="7.2" fill="#a05860" textLength="18.5" lengthAdjust="spacingAndGlyphs" stroke="#a05860" stroke-width="0.15">仰向け</text>
<text x="983" y="248.6" font-size="7.2" fill="#a05860" textLength="18.6" lengthAdjust="spacingAndGlyphs" stroke="#a05860" stroke-width="0.15">仰向け</text>
<text x="372.7" y="249" font-size="7.4" fill="#a05860" textLength="7.3" lengthAdjust="spacingAndGlyphs">Su</text>
<text x="137.4" y="277.8" font-size="7.4" fill="#2a3a8a" textLength="14" lengthAdjust="spacingAndGlyphs">立位</text>
<text x="961.7" y="267" font-size="7.4" fill="#30d8e0" textLength="5.6" lengthAdjust="spacingAndGlyphs">左</text>
<path d="M198 345.8 L198 322.82 L198.5 322.82 L198.5 321.32 L199 321.32 L199 321.46 L199.5 321.46 L199.5 320.09 L200 320.09 L200 322.88 L200.5 322.88 L200.5 320 L201 320 L201 322.78 L201.5 322.78 L201.5 320.72 L202 320.72 L202 320.39 L202.5 320.39 L202.5 316.74 L203 316.74 L203 317.81 L203.5 317.81 L203.5 319.73 L204 319.73 L204 315.28 L204.5 315.28 L204.5 313.85 L205 313.85 L205 315.5 L205.5 315.5 L205.5 317.09 L206 317.09 L206 314.59 L206.5 314.59 L206.5 313.08 L207 313.08 L207 313.4 L207.5 313.4 L207.5 317.29 L208 317.29 L208 312.91 L208.5 312.91 L208.5 313.37 L209 313.37 L209 318.9 L209.5 318.9 L209.5 320.18 L210 320.18 L210 317.53 L210.5 317.53 L210.5 319.77 L211 319.77 L211 315.72 L211.5 315.72 L211.5 316.19 L212 316.19 L212 316.63 L212.5 316.63 L212.5 314.18 L213 314.18 L213 315.02 L213.5 315.02 L213.5 319.33 L214 319.33 L214 314.69 L214.5 314.69 L214.5 319.17 L215 319.17 L215 315.57 L215.5 315.57 L215.5 315.25 L216 315.25 L216 315.03 L216.5 315.03 L216.5 319.06 L217 319.06 L217 315.16 L217.5 315.16 L217.5 315.94 L218 315.94 L218 315.92 L218.5 315.92 L218.5 316.78 L219 316.78 L219 313 L219.5 313 L219.5 314.65 L220 314.65 L220 315.17 L220.5 315.17 L220.5 314.81 L221 314.81 L221 315.66 L221.5 315.66 L221.5 314.51 L222 314.51 L222 317.22 L222.5 317.22 L222.5 316.64 L223 316.64 L223 316.6 L223.5 316.6 L223.5 317.82 L224 317.82 L224 312.88 L224.5 312.88 L224.5 318.81 L225 318.81 L225 314.67 L225.5 314.67 L225.5 315.92 L226 315.92 L226 319.39 L226.5 319.39 L226.5 316.25 L227 316.25 L227 321.66 L227.5 321.66 L227.5 322.47 L228 322.47 L228 320.57 L228.5 320.57 L228.5 320.61 L229 320.61 L229 317.18 L229.5 317.18 L229.5 321.85 L230 321.85 L230 322.1 L230.5 322.1 L230.5 319.97 L231 319.97 L231 345.8 Z" fill="#0000ff"/>
<rect x="210.2" y="319.91" width="0.6" height="25.89" fill="#7a7aff"/>
<rect x="218.2" y="316.9" width="0.7" height="6" fill="#8c8cff"/>
<rect x="220.6" y="319.08" width="0.6" height="26.72" fill="#7a7aff"/>
<rect x="220.6" y="313.73" width="0.7" height="6" fill="#8c8cff"/>
<rect x="226.2" y="317.83" width="0.7" height="6" fill="#8c8cff"/>
<path d="M233.5 345.8 L233.5 329.39 L234 329.39 L234 325.14 L234.5 325.14 L234.5 324.43 L235 324.43 L235 322.91 L235.5 322.91 L235.5 321.43 L236 321.43 L236 321.15 L236.5 321.15 L236.5 321.43 L237 321.43 L237 324.01 L237.5 324.01 L237.5 319.04 L238 319.04 L238 317.82 L238.5 317.82 L238.5 321.03 L239 321.03 L239 319.86 L239.5 319.86 L239.5 318.08 L240 318.08 L240 321.65 L240.5 321.65 L240.5 318.93 L241 318.93 L241 317.49 L241.5 317.49 L241.5 318.81 L242 318.81 L242 321.33 L242.5 321.33 L242.5 320.97 L243 320.97 L243 314.01 L243.5 314.01 L243.5 319.47 L244 319.47 L244 320.62 L244.5 320.62 L244.5 318.77 L245 318.77 L245 319.6 L245.5 319.6 L245.5 319.45 L246 319.45 L246 319.64 L246.5 319.64 L246.5 318.73 L247 318.73 L247 320.25 L247.5 320.25 L247.5 315.51 L248 315.51 L248 317.86 L248.5 317.86 L248.5 317.86 L249 317.86 L249 316.51 L249.5 316.51 L249.5 315.06 L250 315.06 L250 315.41 L250.5 315.41 L250.5 319.28 L251 319.28 L251 319.38 L251.5 319.38 L251.5 314.35 L252 314.35 L252 316.07 L252.5 316.07 L252.5 315.5 L253 315.5 L253 314.82 L253.5 314.82 L253.5 315.59 L254 315.59 L254 314.23 L254.5 314.23 L254.5 314.64 L255 314.64 L255 316.29 L255.5 316.29 L255.5 317.39 L256 317.39 L256 317.78 L256.5 317.78 L256.5 310.78 L257 310.78 L257 313.46 L257.5 313.46 L257.5 315.27 L258 315.27 L258 314.36 L258.5 314.36 L258.5 314.74 L259 314.74 L259 316.66 L259.5 316.66 L259.5 311.22 L260 311.22 L260 313.62 L260.5 313.62 L260.5 315.45 L261 315.45 L261 315.37 L261.5 315.37 L261.5 312.81 L262 312.81 L262 318.26 L262.5 318.26 L262.5 313.47 L263 313.47 L263 316.08 L263.5 316.08 L263.5 308.99 L264 308.99 L264 316.78 L264.5 316.78 L264.5 312.77 L265 312.77 L265 317.92 L265.5 317.92 L265.5 316.27 L266 316.27 L266 316.22 L266.5 316.22 L266.5 316.11 L267 316.11 L267 315.08 L267.5 315.08 L267.5 316.19 L268 316.19 L268 315.34 L268.5 315.34 L268.5 313.93 L269 313.93 L269 310.06 L269.5 310.06 L269.5 316.78 L270 316.78 L270 313.01 L270.5 313.01 L270.5 313.9 L271 313.9 L271 313.12 L271.5 313.12 L271.5 313.09 L272 313.09 L272 316.72 L272.5 316.72 L272.5 314.36 L273 314.36 L273 316.08 L273.5 316.08 L273.5 312.08 L274 312.08 L274 314.49 L274.5 314.49 L274.5 314.06 L275 314.06 L275 313.97 L275.5 313.97 L275.5 315.57 L276 315.57 L276 314.48 L276.5 314.48 L276.5 314.65 L277 314.65 L277 312.7 L277.5 312.7 L277.5 317.62 L278 317.62 L278 317.99 L278.5 317.99 L278.5 316.36 L279 316.36 L279 317.09 L279.5 317.09 L279.5 317.04 L280 317.04 L280 316.9 L280.5 316.9 L280.5 317.41 L281 317.41 L281 314.27 L281.5 314.27 L281.5 312.62 L282 312.62 L282 315 L282.5 315 L282.5 317.28 L283 317.28 L283 317.82 L283.5 317.82 L283.5 316.03 L284 316.03 L284 314.45 L284.5 314.45 L284.5 313.2 L285 313.2 L285 317.65 L285.5 317.65 L285.5 317.64 L286 317.64 L286 312.15 L286.5 312.15 L286.5 312.69 L287 312.69 L287 318.21 L287.5 318.21 L287.5 315.47 L288 315.47 L288 313.33 L288.5 313.33 L288.5 312.67 L289 312.67 L289 317.36 L289.5 317.36 L289.5 315.62 L290 315.62 L290 313.15 L290.5 313.15 L290.5 312.65 L291 312.65 L291 315.7 L291.5 315.7 L291.5 315.4 L292 315.4 L292 317.49 L292.5 317.49 L292.5 313.73 L293 313.73 L293 309.91 L293.5 309.91 L293.5 314.48 L294 314.48 L294 313.97 L294.5 313.97 L294.5 316.71 L295 316.71 L295 313.73 L295.5 313.73 L295.5 314.7 L296 314.7 L296 318.78 L296.5 318.78 L296.5 316.28 L297 316.28 L297 314.74 L297.5 314.74 L297.5 316.08 L298 316.08 L298 314.17 L298.5 314.17 L298.5 318.33 L299 318.33 L299 316.98 L299.5 316.98 L299.5 319.26 L300 319.26 L300 318.24 L300.5 318.24 L300.5 318.66 L301 318.66 L301 314.54 L301.5 314.54 L301.5 318.99 L302 318.99 L302 318.93 L302.5 318.93 L302.5 319.16 L303 319.16 L303 319.36 L303.5 319.36 L303.5 318.16 L304 318.16 L304 316.41 L304.5 316.41 L304.5 317.49 L305 317.49 L305 345.8 Z" fill="#0000ff"/>
<rect x="252.1" y="320.29" width="0.6" height="25.51" fill="#7a7aff"/>
<rect x="258.5" y="319.74" width="0.6" height="26.06" fill="#7a7aff"/>
<rect x="266.5" y="316.89" width="0.6" height="28.91" fill="#7a7aff"/>
<rect x="270.5" y="314.69" width="0.7" height="6" fill="#8c8cff"/>
<rect x="286.5" y="321.22" width="0.6" height="24.58" fill="#7a7aff"/>
<rect x="288.9" y="313.51" width="0.7" height="6" fill="#8c8cff"/>
<rect x="295.3" y="321.08" width="0.6" height="24.72" fill="#7a7aff"/>
<rect x="296.9" y="317.57" width="0.6" height="28.23" fill="#7a7aff"/>
<rect x="305.95" y="321" width="1.1" height="24.8" fill="#0000ff"/>
<rect x="307.95" y="322" width="1.1" height="23.8" fill="#0000ff"/>
<rect x="311.25" y="320" width="1.1" height="25.8" fill="#0000ff"/>
<rect x="313.85" y="320" width="1.1" height="25.8" fill="#0000ff"/>
<rect x="315.45" y="323" width="1.1" height="22.8" fill="#80ffff"/>
<rect x="318.85" y="323" width="1.1" height="22.8" fill="#0000ff"/>
<rect x="323.25" y="321" width="1.1" height="24.8" fill="#0000ff"/>
<rect x="324.95" y="320" width="1.1" height="25.8" fill="#0000ff"/>
<rect x="327.05" y="320" width="1.1" height="25.8" fill="#0000ff"/>
<rect x="329.05" y="320" width="1.1" height="25.8" fill="#0000ff"/>
<rect x="331.45" y="314" width="1.1" height="31.8" fill="#0000ff"/>
<rect x="337.25" y="327" width="1.1" height="18.8" fill="#0000ff"/>
<rect x="339.25" y="328" width="1.1" height="17.8" fill="#80ffff"/>
<rect x="341.05" y="330" width="1.1" height="15.8" fill="#80ffff"/>
<rect x="353.95" y="322" width="1.1" height="23.8" fill="#0000ff"/>
<rect x="375.45" y="330" width="1.1" height="15.8" fill="#80ffff"/>
<rect x="377.45" y="319" width="1.1" height="26.8" fill="#0000ff"/>
<rect x="379.15" y="320" width="1.1" height="25.8" fill="#0000ff"/>
<rect x="380.45" y="318" width="1.1" height="27.8" fill="#0000ff"/>
<path d="M458.3 345.8 L458.3 325.31 L458.8 325.31 L458.8 326.44 L459.3 326.44 L459.3 321.64 L459.8 321.64 L459.8 321.69 L460.3 321.69 L460.3 322.29 L460.8 322.29 L460.8 316.74 L461.3 316.74 L461.3 318.15 L461.8 318.15 L461.8 314.63 L462.3 314.63 L462.3 316.88 L462.8 316.88 L462.8 319.12 L463.3 319.12 L463.3 316.07 L463.8 316.07 L463.8 315.92 L464.3 315.92 L464.3 318.03 L464.8 318.03 L464.8 316.09 L465.3 316.09 L465.3 312.22 L465.8 312.22 L465.8 314.47 L466.3 314.47 L466.3 314.81 L466.8 314.81 L466.8 312.81 L467.3 312.81 L467.3 318.35 L467.8 318.35 L467.8 313.79 L468.3 313.79 L468.3 312.32 L468.8 312.32 L468.8 310.65 L469.3 310.65 L469.3 315.85 L469.8 315.85 L469.8 316.85 L470.3 316.85 L470.3 315.88 L470.8 315.88 L470.8 317.19 L471.3 317.19 L471.3 315.49 L471.8 315.49 L471.8 317.17 L472.3 317.17 L472.3 314.55 L472.8 314.55 L472.8 314.82 L473.3 314.82 L473.3 313.95 L473.8 313.95 L473.8 317.53 L474.3 317.53 L474.3 312.78 L474.8 312.78 L474.8 313.29 L475.3 313.29 L475.3 311.05 L475.8 311.05 L475.8 315.85 L476.3 315.85 L476.3 315 L476.8 315 L476.8 311.65 L477.3 311.65 L477.3 316.91 L477.8 316.91 L477.8 313.17 L478.3 313.17 L478.3 310.28 L478.8 310.28 L478.8 316.91 L479.3 316.91 L479.3 314.76 L479.8 314.76 L479.8 316.6 L480.3 316.6 L480.3 316.17 L480.8 316.17 L480.8 311.09 L481.3 311.09 L481.3 311.62 L481.8 311.62 L481.8 306.36 L482.3 306.36 L482.3 312.45 L482.8 312.45 L482.8 314.6 L483.3 314.6 L483.3 312.54 L483.8 312.54 L483.8 313.7 L484.3 313.7 L484.3 314.58 L484.8 314.58 L484.8 315.95 L485.3 315.95 L485.3 314 L485.8 314 L485.8 315.66 L486.3 315.66 L486.3 316.25 L486.8 316.25 L486.8 308.46 L487.3 308.46 L487.3 314.34 L487.8 314.34 L487.8 316.04 L488.3 316.04 L488.3 315.77 L488.8 315.77 L488.8 315.34 L489.3 315.34 L489.3 316.61 L489.8 316.61 L489.8 313.82 L490.3 313.82 L490.3 313.07 L490.8 313.07 L490.8 311.47 L491.3 311.47 L491.3 313.64 L491.8 313.64 L491.8 311.34 L492.3 311.34 L492.3 315.36 L492.8 315.36 L492.8 314.11 L493.3 314.11 L493.3 310.88 L493.8 310.88 L493.8 314.57 L494.3 314.57 L494.3 315.42 L494.8 315.42 L494.8 311.14 L495.3 311.14 L495.3 316 L495.8 316 L495.8 311.06 L496.3 311.06 L496.3 313.82 L496.8 313.82 L496.8 311.99 L497.3 311.99 L497.3 310.36 L497.8 310.36 L497.8 311.06 L498.3 311.06 L498.3 312.78 L498.8 312.78 L498.8 314.82 L499.3 314.82 L499.3 315.41 L499.8 315.41 L499.8 307.08 L500.3 307.08 L500.3 312.83 L500.8 312.83 L500.8 310.14 L501.3 310.14 L501.3 313.95 L501.8 313.95 L501.8 309.88 L502.3 309.88 L502.3 315.35 L502.8 315.35 L502.8 312.29 L503.3 312.29 L503.3 310.63 L503.8 310.63 L503.8 312.35 L504.3 312.35 L504.3 312.51 L504.8 312.51 L504.8 311.31 L505.3 311.31 L505.3 313.94 L505.8 313.94 L505.8 314.78 L506.3 314.78 L506.3 310.83 L506.8 310.83 L506.8 315.84 L507.3 315.84 L507.3 315.99 L507.8 315.99 L507.8 314.27 L508.3 314.27 L508.3 313.7 L508.8 313.7 L508.8 314.58 L509.3 314.58 L509.3 311.45 L509.8 311.45 L509.8 315.58 L510.3 315.58 L510.3 307.63 L510.8 307.63 L510.8 310.14 L511.3 310.14 L511.3 315.4 L511.8 315.4 L511.8 315.76 L512.3 315.76 L512.3 309.02 L512.8 309.02 L512.8 310.24 L513.3 310.24 L513.3 313.32 L513.8 313.32 L513.8 312.04 L514.3 312.04 L514.3 310.87 L514.8 310.87 L514.8 314.94 L515.3 314.94 L515.3 312.32 L515.8 312.32 L515.8 313.99 L516.3 313.99 L516.3 310.71 L516.8 310.71 L516.8 311.28 L517.3 311.28 L517.3 315.29 L517.8 315.29 L517.8 314 L518.3 314 L518.3 312.21 L518.8 312.21 L518.8 314.49 L519.3 314.49 L519.3 312.82 L519.8 312.82 L519.8 312.15 L520.3 312.15 L520.3 313.79 L520.8 313.79 L520.8 312.86 L521.3 312.86 L521.3 312.24 L521.8 312.24 L521.8 309.09 L522.3 309.09 L522.3 315.94 L522.8 315.94 L522.8 310.4 L523.3 310.4 L523.3 315.03 L523.8 315.03 L523.8 310.44 L524.3 310.44 L524.3 309.15 L524.8 309.15 L524.8 314.65 L525.3 314.65 L525.3 311.56 L525.8 311.56 L525.8 314.41 L526.3 314.41 L526.3 315.37 L526.8 315.37 L526.8 313.49 L527.3 313.49 L527.3 310.89 L527.8 310.89 L527.8 311.3 L528.3 311.3 L528.3 312.84 L528.8 312.84 L528.8 315.36 L529.3 315.36 L529.3 313.11 L529.8 313.11 L529.8 316.73 L530.3 316.73 L530.3 311.28 L530.8 311.28 L530.8 311 L531.3 311 L531.3 313.16 L531.8 313.16 L531.8 315.16 L532.3 315.16 L532.3 315.22 L532.8 315.22 L532.8 312.4 L533.3 312.4 L533.3 313.86 L533.8 313.86 L533.8 313.23 L534.3 313.23 L534.3 312.07 L534.8 312.07 L534.8 312.91 L535.3 312.91 L535.3 315.63 L535.8 315.63 L535.8 316.22 L536.3 316.22 L536.3 313.98 L536.8 313.98 L536.8 315.71 L537.3 315.71 L537.3 309.3 L537.8 309.3 L537.8 314.64 L538.3 314.64 L538.3 317.02 L538.8 317.02 L538.8 313.32 L539.3 313.32 L539.3 312.33 L539.8 312.33 L539.8 315.96 L540.3 315.96 L540.3 316.59 L540.8 316.59 L540.8 314.62 L541.3 314.62 L541.3 317.54 L541.8 317.54 L541.8 312.9 L542.3 312.9 L542.3 315.63 L542.8 315.63 L542.8 315.72 L543.3 315.72 L543.3 317.56 L543.8 317.56 L543.8 318.74 L544.3 318.74 L544.3 313.31 L544.8 313.31 L544.8 316 L545.3 316 L545.3 315.74 L545.8 315.74 L545.8 319.2 L546.3 319.2 L546.3 312.73 L546.8 312.73 L546.8 314.82 L547.3 314.82 L547.3 314.34 L547.8 314.34 L547.8 317.14 L548.3 317.14 L548.3 318.27 L548.8 318.27 L548.8 316.91 L549.3 316.91 L549.3 317.91 L549.8 317.91 L549.8 315.65 L550.3 315.65 L550.3 320.29 L550.8 320.29 L550.8 316.43 L551.3 316.43 L551.3 320.1 L551.8 320.1 L551.8 317.86 L552.3 317.86 L552.3 319.75 L552.8 319.75 L552.8 318.4 L553.3 318.4 L553.3 318.35 L553.8 318.35 L553.8 321.17 L554.3 321.17 L554.3 321.28 L554.8 321.28 L554.8 318.07 L555.3 318.07 L555.3 345.8 Z" fill="#0000ff"/>
<rect x="464.9" y="317.75" width="0.6" height="28.05" fill="#7a7aff"/>
<rect x="482.5" y="317.29" width="0.6" height="28.51" fill="#7a7aff"/>
<rect x="483.3" y="315.03" width="0.6" height="30.77" fill="#7a7aff"/>
<rect x="484.1" y="319.92" width="0.6" height="25.88" fill="#7a7aff"/>
<rect x="486.5" y="318.74" width="0.6" height="27.06" fill="#7a7aff"/>
<rect x="502.5" y="316.7" width="0.6" height="29.1" fill="#7a7aff"/>
<rect x="505.7" y="318.49" width="0.6" height="27.31" fill="#7a7aff"/>
<rect x="513.7" y="311.64" width="0.7" height="6" fill="#8c8cff"/>
<rect x="520.1" y="313.45" width="0.6" height="32.35" fill="#7a7aff"/>
<rect x="542.5" y="313.88" width="0.7" height="6" fill="#8c8cff"/>
<rect x="544.1" y="313.05" width="0.7" height="6" fill="#8c8cff"/>
<rect x="544.9" y="314.84" width="0.7" height="6" fill="#8c8cff"/>
<rect x="556.5" y="322.02" width="1" height="23.78" fill="#0000ff"/>
<rect x="559.1" y="321.07" width="1" height="24.73" fill="#0000ff"/>
<rect x="561.5" y="326.53" width="1" height="19.27" fill="#0000ff"/>
<rect x="564.2" y="322.26" width="1" height="23.54" fill="#0000ff"/>
<rect x="566.2" y="327.24" width="1" height="18.56" fill="#0000ff"/>
<rect x="568" y="318.99" width="1" height="26.81" fill="#0000ff"/>
<rect x="570.5" y="326.64" width="1" height="19.16" fill="#0000ff"/>
<rect x="573.1" y="322.78" width="1" height="23.02" fill="#0000ff"/>
<rect x="576" y="323.15" width="1" height="22.65" fill="#0000ff"/>
<rect x="578.2" y="320.58" width="1" height="25.22" fill="#0000ff"/>
<rect x="580.5" y="326.79" width="1" height="19.01" fill="#0000ff"/>
<rect x="583.3" y="325.22" width="1" height="20.58" fill="#0000ff"/>
<rect x="566.5" y="326.74" width="1" height="19.06" fill="#80ffff"/>
<rect x="575.5" y="325.62" width="1" height="20.18" fill="#80ffff"/>
<rect x="583" y="328.65" width="1" height="17.15" fill="#80ffff"/>
<rect x="587.5" y="328.11" width="1" height="17.69" fill="#80ffff"/>
<rect x="592.7" y="327" width="3" height="18.8" fill="#8a8aff"/>
<path d="M595.5 345.8 L595.5 322.66 L596 322.66 L596 323.46 L596.5 323.46 L596.5 319.51 L597 319.51 L597 322.35 L597.5 322.35 L597.5 321.98 L598 321.98 L598 321.97 L598.5 321.97 L598.5 321.7 L599 321.7 L599 320.47 L599.5 320.47 L599.5 314.34 L600 314.34 L600 318.95 L600.5 318.95 L600.5 318.96 L601 318.96 L601 315.69 L601.5 315.69 L601.5 314.89 L602 314.89 L602 314.6 L602.5 314.6 L602.5 316.59 L603 316.59 L603 317.5 L603.5 317.5 L603.5 318.15 L604 318.15 L604 315.47 L604.5 315.47 L604.5 319.08 L605 319.08 L605 319.91 L605.5 319.91 L605.5 314.52 L606 314.52 L606 317 L606.5 317 L606.5 318.12 L607 318.12 L607 318.96 L607.5 318.96 L607.5 315.84 L608 315.84 L608 314.31 L608.5 314.31 L608.5 317.28 L609 317.28 L609 317.39 L609.5 317.39 L609.5 314.57 L610 314.57 L610 315.11 L610.5 315.11 L610.5 315.02 L611 315.02 L611 317.17 L611.5 317.17 L611.5 314.36 L612 314.36 L612 318.72 L612.5 318.72 L612.5 311.82 L613 311.82 L613 315.97 L613.5 315.97 L613.5 316.41 L614 316.41 L614 316.45 L614.5 316.45 L614.5 313.78 L615 313.78 L615 310.52 L615.5 310.52 L615.5 316.68 L616 316.68 L616 317.87 L616.5 317.87 L616.5 313.15 L617 313.15 L617 315.25 L617.5 315.25 L617.5 315.6 L618 315.6 L618 311.17 L618.5 311.17 L618.5 309.13 L619 309.13 L619 310.12 L619.5 310.12 L619.5 312.43 L620 312.43 L620 314.35 L620.5 314.35 L620.5 313.51 L621 313.51 L621 313.47 L621.5 313.47 L621.5 315.23 L622 315.23 L622 316.91 L622.5 316.91 L622.5 314.6 L623 314.6 L623 314.63 L623.5 314.63 L623.5 317.21 L624 317.21 L624 314.74 L624.5 314.74 L624.5 312.7 L625 312.7 L625 312.42 L625.5 312.42 L625.5 315.43 L626 315.43 L626 312.98 L626.5 312.98 L626.5 311.52 L627 311.52 L627 312.59 L627.5 312.59 L627.5 316.11 L628 316.11 L628 314.47 L628.5 314.47 L628.5 317.59 L629 317.59 L629 313.69 L629.5 313.69 L629.5 316.28 L630 316.28 L630 315.24 L630.5 315.24 L630.5 313.58 L631 313.58 L631 316.8 L631.5 316.8 L631.5 316.71 L632 316.71 L632 314.56 L632.5 314.56 L632.5 317.97 L633 317.97 L633 312.91 L633.5 312.91 L633.5 315.51 L634 315.51 L634 317.46 L634.5 317.46 L634.5 315.5 L635 315.5 L635 313.32 L635.5 313.32 L635.5 312.48 L636 312.48 L636 316.42 L636.5 316.42 L636.5 317.98 L637 317.98 L637 317.48 L637.5 317.48 L637.5 317.73 L638 317.73 L638 315.43 L638.5 315.43 L638.5 313.35 L639 313.35 L639 314.63 L639.5 314.63 L639.5 317.15 L640 317.15 L640 313.95 L640.5 313.95 L640.5 317.13 L641 317.13 L641 312.36 L641.5 312.36 L641.5 317.14 L642 317.14 L642 310.89 L642.5 310.89 L642.5 312.3 L643 312.3 L643 314.22 L643.5 314.22 L643.5 317.54 L644 317.54 L644 317.73 L644.5 317.73 L644.5 312.46 L645 312.46 L645 312.59 L645.5 312.59 L645.5 312.78 L646 312.78 L646 313.81 L646.5 313.81 L646.5 313.78 L647 313.78 L647 315.26 L647.5 315.26 L647.5 314.69 L648 314.69 L648 313.84 L648.5 313.84 L648.5 313.96 L649 313.96 L649 313.44 L649.5 313.44 L649.5 316.24 L650 316.24 L650 314.43 L650.5 314.43 L650.5 313.74 L651 313.74 L651 316.95 L651.5 316.95 L651.5 315.38 L652 315.38 L652 315.81 L652.5 315.81 L652.5 314.95 L653 314.95 L653 312.31 L653.5 312.31 L653.5 311.72 L654 311.72 L654 315.36 L654.5 315.36 L654.5 315.31 L655 315.31 L655 315.5 L655.5 315.5 L655.5 312.96 L656 312.96 L656 311.55 L656.5 311.55 L656.5 315.84 L657 315.84 L657 311.77 L657.5 311.77 L657.5 312.66 L658 312.66 L658 315.76 L658.5 315.76 L658.5 316.05 L659 316.05 L659 311.65 L659.5 311.65 L659.5 312.5 L660 312.5 L660 312.73 L660.5 312.73 L660.5 316.27 L661 316.27 L661 315.39 L661.5 315.39 L661.5 313.11 L662 313.11 L662 316.31 L662.5 316.31 L662.5 311.27 L663 311.27 L663 312.32 L663.5 312.32 L663.5 316.45 L664 316.45 L664 314.18 L664.5 314.18 L664.5 315.14 L665 315.14 L665 312.21 L665.5 312.21 L665.5 314.84 L666 314.84 L666 314.38 L666.5 314.38 L666.5 313.79 L667 313.79 L667 314.61 L667.5 314.61 L667.5 315.25 L668 315.25 L668 314.63 L668.5 314.63 L668.5 311.22 L669 311.22 L669 311.04 L669.5 311.04 L669.5 312.41 L670 312.41 L670 316.06 L670.5 316.06 L670.5 313.22 L671 313.22 L671 311.45 L671.5 311.45 L671.5 314.91 L672 314.91 L672 313.02 L672.5 313.02 L672.5 311.87 L673 311.87 L673 312.71 L673.5 312.71 L673.5 312.45 L674 312.45 L674 315.59 L674.5 315.59 L674.5 311.27 L675 311.27 L675 316.29 L675.5 316.29 L675.5 313.04 L676 313.04 L676 313.81 L676.5 313.81 L676.5 312.97 L677 312.97 L677 311.18 L677.5 311.18 L677.5 312.28 L678 312.28 L678 312.47 L678.5 312.47 L678.5 316.32 L679 316.32 L679 312.26 L679.5 312.26 L679.5 311.93 L680 311.93 L680 313.72 L680.5 313.72 L680.5 311.46 L681 311.46 L681 311.86 L681.5 311.86 L681.5 314.93 L682 314.93 L682 313.3 L682.5 313.3 L682.5 315.79 L683 315.79 L683 315.95 L683.5 315.95 L683.5 313.29 L684 313.29 L684 316.23 L684.5 316.23 L684.5 313.13 L685 313.13 L685 312.96 L685.5 312.96 L685.5 313.09 L686 313.09 L686 313.84 L686.5 313.84 L686.5 307.46 L687 307.46 L687 310.81 L687.5 310.81 L687.5 312.81 L688 312.81 L688 315.53 L688.5 315.53 L688.5 311.22 L689 311.22 L689 314.53 L689.5 314.53 L689.5 311.97 L690 311.97 L690 311.82 L690.5 311.82 L690.5 312.62 L691 312.62 L691 314.86 L691.5 314.86 L691.5 311.51 L692 311.51 L692 311.19 L692.5 311.19 L692.5 311.47 L693 311.47 L693 314.06 L693.5 314.06 L693.5 312.02 L694 312.02 L694 310.92 L694.5 310.92 L694.5 310.12 L695 310.12 L695 311.48 L695.5 311.48 L695.5 310.51 L696 310.51 L696 311.31 L696.5 311.31 L696.5 313.3 L697 313.3 L697 312.39 L697.5 312.39 L697.5 315.36 L698 315.36 L698 311.38 L698.5 311.38 L698.5 311.78 L699 311.78 L699 312.33 L699.5 312.33 L699.5 313.37 L700 313.37 L700 312.6 L700.5 312.6 L700.5 310.51 L701 310.51 L701 312.96 L701.5 312.96 L701.5 315.15 L702 315.15 L702 315.15 L702.5 315.15 L702.5 313.04 L703 313.04 L703 315.85 L703.5 315.85 L703.5 315.87 L704 315.87 L704 315.71 L704.5 315.71 L704.5 310.26 L705 310.26 L705 311.08 L705.5 311.08 L705.5 312.78 L706 312.78 L706 313.88 L706.5 313.88 L706.5 313.24 L707 313.24 L707 309.64 L707.5 309.64 L707.5 315.96 L708 315.96 L708 313.88 L708.5 313.88 L708.5 315.45 L709 315.45 L709 314.82 L709.5 314.82 L709.5 310.13 L710 310.13 L710 312.73 L710.5 312.73 L710.5 312.04 L711 312.04 L711 314.59 L711.5 314.59 L711.5 315.8 L712 315.8 L712 313.74 L712.5 313.74 L712.5 313.77 L713 313.77 L713 312.62 L713.5 312.62 L713.5 310.59 L714 310.59 L714 314.1 L714.5 314.1 L714.5 311.46 L715 311.46 L715 310.85 L715.5 310.85 L715.5 313.27 L716 313.27 L716 310.27 L716.5 310.27 L716.5 315.73 L717 315.73 L717 315.81 L717.5 315.81 L717.5 310.54 L718 310.54 L718 312.36 L718.5 312.36 L718.5 311.52 L719 311.52 L719 315.51 L719.5 315.51 L719.5 315.67 L720 315.67 L720 311.05 L720.5 311.05 L720.5 310.25 L721 310.25 L721 310.61 L721.5 310.61 L721.5 312.25 L722 312.25 L722 311.54 L722.5 311.54 L722.5 312.16 L723 312.16 L723 310.2 L723.5 310.2 L723.5 308.35 L724 308.35 L724 313.16 L724.5 313.16 L724.5 312.2 L725 312.2 L725 316.07 L725.5 316.07 L725.5 315.34 L726 315.34 L726 315.31 L726.5 315.31 L726.5 311.09 L727 311.09 L727 312.81 L727.5 312.81 L727.5 314.67 L728 314.67 L728 310.95 L728.5 310.95 L728.5 314.23 L729 314.23 L729 310.87 L729.5 310.87 L729.5 312.06 L730 312.06 L730 316.06 L730.5 316.06 L730.5 312.2 L731 312.2 L731 312.66 L731.5 312.66 L731.5 314.4 L732 314.4 L732 316.17 L732.5 316.17 L732.5 313.22 L733 313.22 L733 311.05 L733.5 311.05 L733.5 313.7 L734 313.7 L734 312.03 L734.5 312.03 L734.5 316.27 L735 316.27 L735 316.02 L735.5 316.02 L735.5 311.93 L736 311.93 L736 314.59 L736.5 314.59 L736.5 316.5 L737 316.5 L737 316.19 L737.5 316.19 L737.5 311.75 L738 311.75 L738 313.13 L738.5 313.13 L738.5 316.17 L739 316.17 L739 313.54 L739.5 313.54 L739.5 313.88 L740 313.88 L740 314.12 L740.5 314.12 L740.5 311.16 L741 311.16 L741 315.58 L741.5 315.58 L741.5 315.24 L742 315.24 L742 314.93 L742.5 314.93 L742.5 313.18 L743 313.18 L743 314.68 L743.5 314.68 L743.5 315.35 L744 315.35 L744 316.61 L744.5 316.61 L744.5 315.7 L745 315.7 L745 314.27 L745.5 314.27 L745.5 312.12 L746 312.12 L746 313.34 L746.5 313.34 L746.5 312.72 L747 312.72 L747 312.23 L747.5 312.23 L747.5 315.03 L748 315.03 L748 310.79 L748.5 310.79 L748.5 313.56 L749 313.56 L749 317.43 L749.5 317.43 L749.5 312.81 L750 312.81 L750 314.26 L750.5 314.26 L750.5 314.43 L751 314.43 L751 317.07 L751.5 317.07 L751.5 314.57 L752 314.57 L752 311.51 L752.5 311.51 L752.5 312.03 L753 312.03 L753 315.85 L753.5 315.85 L753.5 312.73 L754 312.73 L754 312 L754.5 312 L754.5 317.36 L755 317.36 L755 312.38 L755.5 312.38 L755.5 314.6 L756 314.6 L756 315.6 L756.5 315.6 L756.5 312.78 L757 312.78 L757 317.7 L757.5 317.7 L757.5 311.85 L758 311.85 L758 313.04 L758.5 313.04 L758.5 311.73 L759 311.73 L759 315.96 L759.5 315.96 L759.5 316.98 L760 316.98 L760 315.01 L760.5 315.01 L760.5 312.09 L761 312.09 L761 313.05 L761.5 313.05 L761.5 315.72 L762 315.72 L762 316.35 L762.5 316.35 L762.5 312.55 L763 312.55 L763 317.66 L763.5 317.66 L763.5 312.22 L764 312.22 L764 315.75 L764.5 315.75 L764.5 313.2 L765 313.2 L765 313.74 L765.5 313.74 L765.5 316.37 L766 316.37 L766 317.05 L766.5 317.05 L766.5 312.79 L767 312.79 L767 315.37 L767.5 315.37 L767.5 314.93 L768 314.93 L768 312.26 L768.5 312.26 L768.5 314 L769 314 L769 312.39 L769.5 312.39 L769.5 313.49 L770 313.49 L770 316.79 L770.5 316.79 L770.5 312.63 L771 312.63 L771 315.32 L771.5 315.32 L771.5 317.04 L772 317.04 L772 313.08 L772.5 313.08 L772.5 316.34 L773 316.34 L773 311.96 L773.5 311.96 L773.5 316.42 L774 316.42 L774 313.75 L774.5 313.75 L774.5 311.98 L775 311.98 L775 315.35 L775.5 315.35 L775.5 315.49 L776 315.49 L776 312.39 L776.5 312.39 L776.5 315.81 L777 315.81 L777 310.96 L777.5 310.96 L777.5 316.05 L778 316.05 L778 312.01 L778.5 312.01 L778.5 311.39 L779 311.39 L779 311.67 L779.5 311.67 L779.5 316.68 L780 316.68 L780 311.01 L780.5 311.01 L780.5 315.99 L781 315.99 L781 314.71 L781.5 314.71 L781.5 310.18 L782 310.18 L782 315.69 L782.5 315.69 L782.5 316.56 L783 316.56 L783 311.15 L783.5 311.15 L783.5 312.3 L784 312.3 L784 314.44 L784.5 314.44 L784.5 316.47 L785 316.47 L785 316.23 L785.5 316.23 L785.5 313.49 L786 313.49 L786 314.05 L786.5 314.05 L786.5 311.84 L787 311.84 L787 312.58 L787.5 312.58 L787.5 314.5 L788 314.5 L788 312.09 L788.5 312.09 L788.5 311.77 L789 311.77 L789 314.92 L789.5 314.92 L789.5 311.28 L790 311.28 L790 315.89 L790.5 315.89 L790.5 316.84 L791 316.84 L791 316.23 L791.5 316.23 L791.5 316.87 L792 316.87 L792 316.31 L792.5 316.31 L792.5 316.51 L793 316.51 L793 313.48 L793.5 313.48 L793.5 315.09 L794 315.09 L794 311.89 L794.5 311.89 L794.5 312.51 L795 312.51 L795 314.12 L795.5 314.12 L795.5 315.89 L796 315.89 L796 314.04 L796.5 314.04 L796.5 313.84 L797 313.84 L797 315.45 L797.5 315.45 L797.5 316.85 L798 316.85 L798 315.33 L798.5 315.33 L798.5 315.73 L799 315.73 L799 313.41 L799.5 313.41 L799.5 315.68 L800 315.68 L800 311.47 L800.5 311.47 L800.5 307.1 L801 307.1 L801 308.37 L801.5 308.37 L801.5 317.02 L802 317.02 L802 314.03 L802.5 314.03 L802.5 314.7 L803 314.7 L803 316.95 L803.5 316.95 L803.5 312.2 L804 312.2 L804 311.61 L804.5 311.61 L804.5 315.57 L805 315.57 L805 312.54 L805.5 312.54 L805.5 312.85 L806 312.85 L806 317.35 L806.5 317.35 L806.5 313.37 L807 313.37 L807 312.26 L807.5 312.26 L807.5 317.27 L808 317.27 L808 313.63 L808.5 313.63 L808.5 313.49 L809 313.49 L809 317.62 L809.5 317.62 L809.5 313.17 L810 313.17 L810 310.01 L810.5 310.01 L810.5 316.91 L811 316.91 L811 316.65 L811.5 316.65 L811.5 316.4 L812 316.4 L812 315.45 L812.5 315.45 L812.5 313.98 L813 313.98 L813 317.01 L813.5 317.01 L813.5 345.8 Z" fill="#0000ff"/>
<rect x="609.3" y="320.95" width="0.6" height="24.85" fill="#7a7aff"/>
<rect x="610.1" y="314.35" width="0.7" height="6" fill="#8c8cff"/>
<rect x="616.5" y="314.19" width="0.7" height="6" fill="#8c8cff"/>
<rect x="618.9" y="318.39" width="0.6" height="27.41" fill="#7a7aff"/>
<rect x="621.3" y="316.8" width="0.6" height="29" fill="#7a7aff"/>
<rect x="622.9" y="319.51" width="0.6" height="26.29" fill="#7a7aff"/>
<rect x="646.1" y="312.83" width="0.7" height="6" fill="#8c8cff"/>
<rect x="652.5" y="319.9" width="0.6" height="25.9" fill="#7a7aff"/>
<rect x="666.9" y="312.66" width="0.7" height="6" fill="#8c8cff"/>
<rect x="667.7" y="313.32" width="0.7" height="6" fill="#8c8cff"/>
<rect x="674.9" y="313.68" width="0.7" height="6" fill="#8c8cff"/>
<rect x="688.5" y="311.15" width="0.7" height="6" fill="#8c8cff"/>
<rect x="690.9" y="311.92" width="0.7" height="6" fill="#8c8cff"/>
<rect x="700.5" y="310.03" width="0.7" height="6" fill="#8c8cff"/>
<rect x="708.5" y="314.07" width="0.6" height="31.73" fill="#7a7aff"/>
<rect x="711.7" y="317.76" width="0.6" height="28.04" fill="#7a7aff"/>
<rect x="720.5" y="316.16" width="0.6" height="29.64" fill="#7a7aff"/>
<rect x="738.1" y="319.5" width="0.6" height="26.3" fill="#7a7aff"/>
<rect x="743.7" y="313.63" width="0.7" height="6" fill="#8c8cff"/>
<rect x="744.5" y="316.57" width="0.6" height="29.23" fill="#7a7aff"/>
<rect x="745.3" y="318.33" width="0.6" height="27.47" fill="#7a7aff"/>
<rect x="750.9" y="318.73" width="0.6" height="27.07" fill="#7a7aff"/>
<rect x="752.5" y="317.07" width="0.6" height="28.73" fill="#7a7aff"/>
<rect x="752.5" y="312.2" width="0.7" height="6" fill="#8c8cff"/>
<rect x="754.1" y="319.4" width="0.6" height="26.4" fill="#7a7aff"/>
<rect x="759.7" y="312.8" width="0.7" height="6" fill="#8c8cff"/>
<rect x="765.3" y="314.5" width="0.7" height="6" fill="#8c8cff"/>
<rect x="770.9" y="318.55" width="0.6" height="27.25" fill="#7a7aff"/>
<rect x="773.3" y="319.83" width="0.6" height="25.97" fill="#7a7aff"/>
<rect x="800.5" y="311.26" width="0.7" height="6" fill="#8c8cff"/>
<path d="M813 345.8 L813 313.15 L813.5 313.15 L813.5 315.45 L814 315.45 L814 314.7 L814.5 314.7 L814.5 318.67 L815 318.67 L815 315.05 L815.5 315.05 L815.5 318.81 L816 318.81 L816 315.69 L816.5 315.69 L816.5 314.97 L817 314.97 L817 313.88 L817.5 313.88 L817.5 317.24 L818 317.24 L818 314.02 L818.5 314.02 L818.5 314.2 L819 314.2 L819 316.46 L819.5 316.46 L819.5 316.61 L820 316.61 L820 317.69 L820.5 317.69 L820.5 315.43 L821 315.43 L821 314.57 L821.5 314.57 L821.5 319.08 L822 319.08 L822 318.74 L822.5 318.74 L822.5 314.1 L823 314.1 L823 319.28 L823.5 319.28 L823.5 315.82 L824 315.82 L824 316.93 L824.5 316.93 L824.5 318.73 L825 318.73 L825 315.03 L825.5 315.03 L825.5 319.42 L826 319.42 L826 315.57 L826.5 315.57 L826.5 316.7 L827 316.7 L827 316.74 L827.5 316.74 L827.5 318.49 L828 318.49 L828 317.43 L828.5 317.43 L828.5 319.18 L829 319.18 L829 320.56 L829.5 320.56 L829.5 315.33 L830 315.33 L830 315.36 L830.5 315.36 L830.5 320.07 L831 320.07 L831 317.3 L831.5 317.3 L831.5 320.71 L832 320.71 L832 320.34 L832.5 320.34 L832.5 320.16 L833 320.16 L833 319.89 L833.5 319.89 L833.5 318.55 L834 318.55 L834 319.41 L834.5 319.41 L834.5 316.75 L835 316.75 L835 317.07 L835.5 317.07 L835.5 318.87 L836 318.87 L836 320.6 L836.5 320.6 L836.5 317.31 L837 317.31 L837 321.54 L837.5 321.54 L837.5 319.73 L838 319.73 L838 321.67 L838.5 321.67 L838.5 317.37 L839 317.37 L839 317.7 L839.5 317.7 L839.5 345.8 Z" fill="#0000ff"/>
<rect x="814" y="318.83" width="0.6" height="26.97" fill="#7a7aff"/>
<rect x="819.6" y="320.27" width="0.6" height="25.53" fill="#7a7aff"/>
<rect x="822" y="321.99" width="0.6" height="23.81" fill="#7a7aff"/>
<rect x="826.8" y="320.68" width="0.6" height="25.12" fill="#7a7aff"/>
<rect x="829.2" y="323.39" width="0.6" height="22.41" fill="#7a7aff"/>
<rect x="833.2" y="322.88" width="0.6" height="22.92" fill="#7a7aff"/>
<rect x="834" y="322.75" width="0.6" height="23.05" fill="#7a7aff"/>
<rect x="814.55" y="333.52" width="0.9" height="12.28" fill="#80ffff"/>
<rect x="817.05" y="330.49" width="0.9" height="15.31" fill="#80ffff"/>
<rect x="819.55" y="328.33" width="0.9" height="17.47" fill="#80ffff"/>
<rect x="825.55" y="331.27" width="0.9" height="14.53" fill="#80ffff"/>
<rect x="840.9" y="325" width="1.2" height="20.8" fill="#0000ff"/>
<rect x="842.9" y="322" width="1.2" height="23.8" fill="#0000ff"/>
<rect x="845.4" y="327" width="1.2" height="18.8" fill="#0000ff"/>
<rect x="850.9" y="325" width="1.2" height="20.8" fill="#0000ff"/>
<rect x="853" y="323" width="1.2" height="22.8" fill="#0000ff"/>
<rect x="854.9" y="323" width="1.2" height="22.8" fill="#0000ff"/>
<rect x="856.9" y="327" width="1.2" height="18.8" fill="#0000ff"/>
<rect x="858.9" y="328" width="1.2" height="17.8" fill="#0000ff"/>
<rect x="861.4" y="328" width="1.2" height="17.8" fill="#80ffff"/>
<rect x="868.4" y="327" width="1.2" height="18.8" fill="#0000ff"/>
<rect x="870.9" y="329" width="1.2" height="16.8" fill="#80ffff"/>
<rect x="874.4" y="325" width="1.2" height="20.8" fill="#0000ff"/>
<rect x="878.4" y="329" width="1.2" height="16.8" fill="#0000ff"/>
<rect x="886.4" y="328" width="1.2" height="17.8" fill="#0000ff"/>
<rect x="888.9" y="330" width="1.2" height="15.8" fill="#80ffff"/>
<rect x="893.4" y="323" width="1.2" height="22.8" fill="#0000ff"/>
<rect x="898.4" y="328" width="1.2" height="17.8" fill="#0000ff"/>
<rect x="907.4" y="325" width="1.2" height="20.8" fill="#0000ff"/>
<rect x="919.9" y="324" width="1.2" height="21.8" fill="#0000ff"/>
<rect x="920.9" y="324" width="1.2" height="21.8" fill="#0000ff"/>
<rect x="922.9" y="324" width="1.2" height="21.8" fill="#0000ff"/>
<rect x="924.9" y="323" width="1.2" height="22.8" fill="#0000ff"/>
<rect x="954.4" y="330" width="1.2" height="15.8" fill="#80ffff"/>
<rect x="972.4" y="331" width="1.2" height="14.8" fill="#80ffff"/>
<rect x="974.9" y="325" width="1.2" height="20.8" fill="#0000ff"/>
<rect x="976.9" y="327" width="1.2" height="18.8" fill="#0000ff"/>
<rect x="978.4" y="328" width="1.2" height="17.8" fill="#0000ff"/>
<rect x="980.9" y="328" width="1.2" height="17.8" fill="#0000ff"/>
<rect x="232.45" y="395" width="0.9" height="7.8" fill="#a8a8ff"/>
<rect x="880.35" y="379.7" width="0.9" height="23.1" fill="#a8a8ff"/>
<rect x="895.05" y="387.5" width="0.9" height="15.3" fill="#a8a8ff"/>
<rect x="899.95" y="369.7" width="0.9" height="33.1" fill="#a8a8ff"/>
<rect x="921.95" y="376" width="0.9" height="26.8" fill="#a8a8ff"/>
<rect x="966.55" y="380" width="0.9" height="22.8" fill="#a8a8ff"/>
<rect x="980.05" y="383" width="0.9" height="19.8" fill="#a8a8ff"/>
<rect x="979" y="346" width="1" height="56.8" fill="#9090ff"/>
<path d="M122.2 428.82 L122.8 429.78 L123.4 428.43 L124 428.15 L124.6 429.9 L125.2 428.78 L125.8 429.33 L126.4 429 L127 428.42 L127.6 429.05 L128.2 427.21 L128.8 426.89 L129.4 427.88 L130 428.68 L130.6 427.82 L131.2 430.8 L131.8 428.64 L132.4 428.95 L133 429.08 L133.6 430.4 L134.2 429.95 L134.8 428.7 L135.4 429.44 L136 427.84 L136.6 429.79 L137.2 430.42 L137.8 430.38 L138.4 430.92 L139 430.12 L139.6 429.22 L140.2 429.19 L140.8 430.34 L141.4 428.39 L142 430 L142.6 426.86 L143.2 428.93 L143.8 427.16 L144.4 425.77 L145 425.94 L145.6 426.87 L146.2 425.53 L146.8 425.63 L147.4 428.87 L148 430.21 L148.6 429.97 L149.2 431.92 L149.8 431.8 L150.4 431.59 L151 434.91 L151.6 434.6 L152.2 432.13 L152.8 431.88 L153.4 431.32 L154 431.02 L154.6 428.97 L155.2 427.1 L155.8 426.72 L156.4 425 L157 424.39 L157.6 425.44 L158.2 424.45 L158.8 426.11 L159.4 426.06 L160 428.05 L160.6 429.91 L161.2 430.67 L161.8 430.13 L162.4 433.25 L163 434.42 L163.6 431.66 L164.2 431.54 L164.8 431.65 L165.4 432.5 L166 430.26 L166.6 430.81 L167.2 427.74 L167.8 427.36 L168.4 426.44 L169 426.28 L169.6 427.96 L170.2 426.94 L170.8 427.89 L171.4 426.82 L172 426.37 L172.6 429.5 L173.2 426.96 L173.8 428.8 L174.4 427.66 L175 428.74 L175.6 429.37 L176.2 429.29 L176.8 429.48 L177.4 429 L178 429.01 L178.6 428.69 L179.2 430.64 L179.8 429.57 L180.4 430.44 L181 429.48 L181.6 430.79 L182.2 430.41 L182.8 430.61 L183.4 428.73 L184 428.59 L184.6 427.23 L185.2 429.33 L185.8 428.38 L186.4 428.1 L187 429.86 L187.6 429.24 L188.2 430.57 L188.8 431.88 L189.4 432.42 L190 433.26 L190.6 434.69 L191.2 436.59 L191.8 436.98 L192.4 438.03 L193 438.58 L193.6 439 L194.2 438.11 L194.8 438.49 L195.4 439.28 L196 440.09 L196.6 441.63 L197.2 440.67 L197.8 441.58 L198.4 441.34 L199 442.26 L199.6 441.68 L200.2 443.06 L200.8 443.92 L201.4 442.28 L202 444.02 L202.6 442.87 L203.2 442.6 L203.8 442.63 L204.4 442.55 L205 442.03 L205.6 439.8 L206.2 439.63 L206.8 440.31 L207.4 440.24 L208 440.44 L208.6 440.09 L209.2 440.81 L209.8 442.52 L210.4 442.03 L211 443.12 L211.6 443.91 L212.2 444.63 L212.8 443.38 L213.4 443.45 L214 443.52 L214.6 442.49 L215.2 442.56 L215.8 441.58 L216.4 441.13 L217 440.22 L217.6 441.39 L218.2 440.98 L218.8 440.93 L219.4 440.2 L220 441.55 L220.6 441.2 L221.2 440.97 L221.8 442.87 L222.4 441.41 L223 441.9 L223.6 443.16 L224.2 442.92 L224.8 441.39 L225.4 440.93 L226 442.15 L226.6 441.65 L227.2 440.55 L227.8 440.87 L228.4 441.93 L229 440.55 L229.6 440.81 L230.2 442.01 L230.8 443.63 L231.4 444.22 L232 444.27 L232.6 443.22 L233.2 443.81 L233.8 442.55 L234.4 444.02 L235 442.9 L235.6 441.88 L236.2 441.06 L236.8 440.11 L237.4 439.13 L238 439.3 L238.6 438.22 L239.2 440.15 L239.8 439.84 L240.4 439.24 L241 441.4 L241.6 441.72 L242.2 442.32 L242.8 442.61 L243.4 443.94 L244 443.1 L244.6 444.1 L245.2 445.34 L245.8 443.96 L246.4 443.68 L247 443.45 L247.6 442.6 L248.2 442.38 L248.8 440.76 L249.4 441.81 L250 440.22 L250.6 440.38 L251.2 440.62 L251.8 439.49 L252.4 440.3 L253 440.5 L253.6 440.86 L254.2 439.63 L254.8 439.74 L255.4 440.76 L256 440.37 L256.6 442.14 L257.2 443.14 L257.8 443.16 L258.4 442.73 L259 442.82 L259.6 444.93 L260.2 443.65 L260.8 444.36 L261.4 444.74 L262 442.79 L262.6 442.25 L263.2 443.3 L263.8 441.87 L264.4 441.73 L265 440.89 L265.6 438.77 L266.2 439.75 L266.8 439.43 L267.4 439.51 L268 438.63 L268.6 440.38 L269.2 439.95 L269.8 441.41 L270.4 442.64 L271 443.3 L271.6 442.74 L272.2 444.75 L272.8 445.24 L273.4 445.45 L274 444.99 L274.6 442.91 L275.2 443.53 L275.8 441.86 L276.4 440.72 L277 441.42 L277.6 439.79 L278.2 440.61 L278.8 438.99 L279.4 439.46 L280 440.2 L280.6 440.59 L281.2 441.96 L281.8 441.15 L282.4 443.51 L283 443.26 L283.6 442.63 L284.2 443.57 L284.8 444.05 L285.4 441.88 L286 442.63 L286.6 442.7 L287.2 440.77 L287.8 440.23 L288.4 440.25 L289 439.41 L289.6 440.98 L290.2 441.12 L290.8 440.57 L291.4 442.36 L292 441.38 L292.6 442.15 L293.2 443.69 L293.8 443.95 L294.4 444.04 L295 443.74 L295.6 442.29 L296.2 443.34 L296.8 441.52 L297.4 441.11 L298 441.34 L298.6 441.21 L299.2 440.41 L299.8 440.44 L300.4 436.2 L301.14 430.23 L301.95 427.82 L302.76 427.47 L303.57 429.67 L304.38 429.49 L305.19 429.3 L306 429.93 L306.81 431.02 L307.62 430.17 L308.43 429.86 L309.24 429.92 L310.05 428.75 L310.86 429.85 L311.67 428.99 L312.48 428.62 L313.29 429.67 L314.1 429.51 L314.91 428.29 L315.72 426.82 L316.53 426.21 L317.34 426.29 L318.15 425.65 L318.96 426.13 L319.77 427.44 L320.58 427.95 L321.39 429.27 L322.2 429.71 L323.01 430.41 L323.82 431.48 L324.63 430.95 L325.44 430.02 L326.25 429.63 L327.06 428.07 L327.87 427.35 L328.68 426.84 L329.49 426.72 L330.3 427.26 L331.11 427.01 L331.92 426.88 L332.73 427.35 L333.54 427.58 L334.35 427.58 L335.16 427.53 L335.97 427.3 L336.78 427.75 L337.59 426.55 L338.4 427.02 L339.21 427.89 L340.02 428.84 L340.83 430.63 L341.64 431.14 L342.45 431.64 L343.26 430.51 L344.07 429.18 L344.88 428.56 L345.69 426.54 L346.5 423.81 L347.31 422.03 L348.12 421.05 L348.93 422.26 L349.74 422.59 L350.55 423.65 L351.36 425.36 L352.17 429.6 L352.98 432 L353.79 432.9 L354.6 434.21 L355.41 433.73 L356.22 432.64 L357.03 428.88 L357.84 426.29 L358.65 425.45 L359.46 421.77 L360.27 421.01 L361.08 421.96 L361.89 421.71 L362.7 422.56 L363.51 425.08 L364.32 426.83 L365.13 428.4 L365.94 429.51 L366.75 430.57 L367.56 430.41 L368.37 429.05 L369.18 428.27 L369.99 425.98 L370.8 426.66 L371.61 425.66 L372.42 424.26 L373.23 425.51 L374.04 424.39 L374.85 426.11 L375.66 425.57 L376.47 425.83 L377.28 425.18 L378.09 425.53 L378.9 426.69 L379.71 426.03 L380.52 425.71 L381.33 425.37 L382.14 424.6 L382.95 425.29 L383.76 424.43 L384.57 424.64 L385.38 424.62 L386.19 424.18 L387 422.44 L387.81 422.14 L388.62 422.24 L389.43 421.12 L390.24 422.4 L391.05 422 L391.86 421.68 L392.67 422.98 L393.48 422.75 L394.29 422.68 L395.1 422.08 L395.91 420.94 L396.72 419.25 L397.53 418.89 L398.34 417.34 L399.15 416.73 L399.96 418.44 L400.77 418.99 L401.58 420.98 L402.39 422.28 L403.2 422.53 L404.01 424.47 L404.01 431.3 L403.2 430.7 L402.39 428.49 L401.58 426.96 L400.77 425.43 L399.96 425.42 L399.15 424.28 L398.34 425.1 L397.53 426.68 L396.72 426.92 L395.91 429.22 L395.1 428.48 L394.29 430.92 L393.48 430.83 L392.67 429.82 L391.86 429.64 L391.05 429.34 L390.24 428.82 L389.43 430.52 L388.62 429.01 L387.81 429.93 L387 430.09 L386.19 430.75 L385.38 432.06 L384.57 431.59 L383.76 433.18 L382.95 433.24 L382.14 433.77 L381.33 433.88 L380.52 433.14 L379.71 434.49 L378.9 433.96 L378.09 432.98 L377.28 433.85 L376.47 434.17 L375.66 433.05 L374.85 434.15 L374.04 434.1 L373.23 433.16 L372.42 432.4 L371.61 433.6 L370.8 433.86 L369.99 435.48 L369.18 436.61 L368.37 437.19 L367.56 437.72 L366.75 437.93 L365.94 438.54 L365.13 436.58 L364.32 435.8 L363.51 433.28 L362.7 430.99 L361.89 430.37 L361.08 429.59 L360.27 429.17 L359.46 430.26 L358.65 431.74 L357.84 434.38 L357.03 437.47 L356.22 440.08 L355.41 440.85 L354.6 441.38 L353.79 440.34 L352.98 439.02 L352.17 436.1 L351.36 433.94 L350.55 432.22 L349.74 430.57 L348.93 428.97 L348.12 429.66 L347.31 429.78 L346.5 432.73 L345.69 434.76 L344.88 436.18 L344.07 437.27 L343.26 438.28 L342.45 440.01 L341.64 438.35 L340.83 438.19 L340.02 436.62 L339.21 436.42 L338.4 435.81 L337.59 435.95 L336.78 434.11 L335.97 434.86 L335.16 435.21 L334.35 434.4 L333.54 434.93 L332.73 435.37 L331.92 433.67 L331.11 433.4 L330.3 434.25 L329.49 433.67 L328.68 434.53 L327.87 435.67 L327.06 437.55 L326.25 437.33 L325.44 439.18 L324.63 439.68 L323.82 438.62 L323.01 438.91 L322.2 437.89 L321.39 435.5 L320.58 435.29 L319.77 433.72 L318.96 434.95 L318.15 433.81 L317.34 434.48 L316.53 434.98 L315.72 434.71 L314.91 436.62 L314.1 436.94 L313.29 437.45 L312.48 438.11 L311.67 437.34 L310.86 436.43 L310.05 436.07 L309.24 437.58 L308.43 437 L307.62 437.51 L306.81 437.03 L306 437.79 L305.19 437.47 L304.38 436.9 L303.57 436.6 L302.76 435.78 L301.95 434.94 L301.14 437.11 L300.4 446.52 L299.8 448.35 L299.2 448.94 L298.6 449.89 L298 449.38 L297.4 451.31 L296.8 451.71 L296.2 451.63 L295.6 452.1 L295 451.98 L294.4 451.98 L293.8 451.88 L293.2 452.13 L292.6 450.39 L292 450.7 L291.4 450.63 L290.8 449.94 L290.2 448.42 L289.6 448.98 L289 447.81 L288.4 448.89 L287.8 449.29 L287.2 450.76 L286.6 450.88 L286 450.89 L285.4 451.42 L284.8 450.64 L284.2 451.7 L283.6 452.06 L283 451.44 L282.4 451.15 L281.8 449.52 L281.2 450.46 L280.6 448.92 L280 448.61 L279.4 447.16 L278.8 447.45 L278.2 447.81 L277.6 447.74 L277 449.13 L276.4 449.62 L275.8 450.78 L275.2 452.11 L274.6 451.85 L274 451.76 L273.4 453.27 L272.8 453.46 L272.2 452.74 L271.6 452.25 L271 450.76 L270.4 449.52 L269.8 449.35 L269.2 449.15 L268.6 448.01 L268 447.81 L267.4 447.96 L266.8 446.55 L266.2 446.76 L265.6 447.78 L265 448.11 L264.4 450.28 L263.8 449.63 L263.2 450.52 L262.6 452.55 L262 452.75 L261.4 452.63 L260.8 453.24 L260.2 452.37 L259.6 452.23 L259 452.49 L258.4 452.06 L257.8 450.39 L257.2 451.39 L256.6 449.41 L256 450.63 L255.4 450.28 L254.8 449.53 L254.2 449.25 L253.6 447.65 L253 447.25 L252.4 447.69 L251.8 447.31 L251.2 449.11 L250.6 448.43 L250 450.01 L249.4 449.31 L248.8 449.56 L248.2 449.73 L247.6 450.48 L247 451.19 L246.4 452.69 L245.8 452.55 L245.2 452.79 L244.6 453.02 L244 452.68 L243.4 452.34 L242.8 452.2 L242.2 451.29 L241.6 450.2 L241 449.45 L240.4 447.51 L239.8 447.38 L239.2 448.13 L238.6 446.76 L238 447.33 L237.4 447.08 L236.8 448.84 L236.2 448.98 L235.6 450.92 L235 451.63 L234.4 451.11 L233.8 452.97 L233.2 453.16 L232.6 451.96 L232 451.97 L231.4 451.94 L230.8 450.33 L230.2 451.05 L229.6 449.79 L229 449.61 L228.4 448.9 L227.8 449.24 L227.2 448.48 L226.6 448.62 L226 448.91 L225.4 450.92 L224.8 450.84 L224.2 450.75 L223.6 450.19 L223 451.75 L222.4 450.08 L221.8 449.79 L221.2 450.95 L220.6 450 L220 449.58 L219.4 448.01 L218.8 448.53 L218.2 448.37 L217.6 449.01 L217 449.82 L216.4 449.98 L215.8 451.17 L215.2 451.1 L214.6 450.42 L214 451.75 L213.4 451.7 L212.8 452.09 L212.2 452.42 L211.6 452.55 L211 450.5 L210.4 450.39 L209.8 450.7 L209.2 449.43 L208.6 447.9 L208 447.48 L207.4 449.16 L206.8 448.38 L206.2 447.52 L205.6 449.37 L205 448.44 L204.4 450.25 L203.8 451.42 L203.2 451.65 L202.6 450.49 L202 451.21 L201.4 451.57 L200.8 451.09 L200.2 451.64 L199.6 450.79 L199 449.8 L198.4 450.74 L197.8 450.63 L197.2 449.11 L196.6 448.8 L196 448.9 L195.4 448.26 L194.8 448.63 L194.2 449.15 L193.6 448.4 L193 448.26 L192.4 446.18 L191.8 445.56 L191.2 446.81 L190.6 445.42 L190 444.61 L189.4 444.26 L188.8 442.7 L188.2 440.99 L187.6 441.59 L187 440.07 L186.4 441.43 L185.8 440.29 L185.2 439.52 L184.6 439.17 L184 441.06 L183.4 439.75 L182.8 441.17 L182.2 441.69 L181.6 441.88 L181 441.26 L180.4 442.77 L179.8 440.97 L179.2 443.13 L178.6 441.15 L178 442.47 L177.4 441.14 L176.8 441.74 L176.2 441.5 L175.6 442.53 L175 441.51 L174.4 440 L173.8 440.53 L173.2 441.41 L172.6 440.26 L172 438.86 L171.4 439.75 L170.8 439.23 L170.2 438.39 L169.6 439.38 L169 440.05 L168.4 437.92 L167.8 440.76 L167.2 440.43 L166.6 442.32 L166 442.11 L165.4 442.54 L164.8 444.22 L164.2 444.31 L163.6 446.48 L163 445.47 L162.4 443.17 L161.8 444.17 L161.2 442.55 L160.6 439.94 L160 439.8 L159.4 437.23 L158.8 437.04 L158.2 436.84 L157.6 437.17 L157 435.27 L156.4 436.42 L155.8 439.08 L155.2 437.76 L154.6 441.02 L154 441.3 L153.4 444.47 L152.8 444.37 L152.2 446.04 L151.6 445.64 L151 446.55 L150.4 445.02 L149.8 443.58 L149.2 443.56 L148.6 441.9 L148 440.58 L147.4 439.15 L146.8 438.06 L146.2 437.24 L145.6 438.36 L145 438.84 L144.4 437.13 L143.8 439.73 L143.2 439.92 L142.6 438.98 L142 442.15 L141.4 439.99 L140.8 440.96 L140.2 442.31 L139.6 443.47 L139 441.29 L138.4 442.9 L137.8 441.83 L137.2 441.93 L136.6 440.13 L136 441.73 L135.4 441.99 L134.8 442.4 L134.2 440.58 L133.6 441.47 L133 441.73 L132.4 440.63 L131.8 442.52 L131.2 442.18 L130.6 439.91 L130 441.13 L129.4 440.81 L128.8 441.07 L128.2 439.1 L127.6 440.95 L127 440.74 L126.4 438.75 L125.8 438.44 L125.2 438.95 L124.6 440.09 L124 442.24 L123.4 441.39 L122.8 442.21 L122.2 440.88 Z" fill="#0a760a"/>
<path d="M411.06 416.13 L411.87 416.84 L412.68 418.38 L413.49 421.03 L414.3 422.43 L415.11 423.85 L415.92 423.92 L416.73 425.38 L417.54 424.76 L418.35 424.25 L419.16 422.61 L419.97 423.05 L420.78 421.86 L421.59 421.76 L422.4 423.34 L423.21 423.52 L424.02 424.5 L424.83 424.58 L425.64 424.18 L426.45 423.21 L427.26 422.43 L428.07 422.14 L428.88 420.75 L429.69 420.58 L430.5 420.81 L431.31 421.32 L432.12 422.92 L432.93 425.3 L433.74 426.89 L434.55 428.12 L435.36 428.91 L436.17 429.51 L436.98 429.91 L437.79 427.65 L438.6 427.09 L439.41 425.02 L440.22 423.42 L441.03 422.7 L441.84 421.53 L442.65 422.16 L443.46 422.84 L444.27 423.84 L445.08 425.29 L445.89 427.05 L446.7 428.23 L447.51 428.63 L448.32 430.05 L449.13 429.77 L449.94 430.11 L450.75 430.28 L451.56 430.19 L452.37 430.44 L453.18 430.83 L453.99 431.76 L454.8 432.07 L455.61 432.41 L456.42 432.79 L457.23 433.11 L458.04 433.27 L458.85 435.49 L459.66 437.01 L460.47 438.6 L461.28 439.18 L462.09 441.57 L462.9 442.23 L463.71 443.83 L464.52 444.79 L465.26 441.73 L465.86 443.32 L466.46 441.11 L467.06 442.21 L467.66 442.11 L468.26 440.56 L468.86 440.98 L469.46 441.04 L470.06 440.07 L470.66 440.62 L471.26 440.33 L471.86 440.69 L472.46 442.52 L473.06 442.03 L473.66 444.04 L474.26 444.72 L474.86 444.6 L475.46 445.33 L476.06 443.91 L476.66 443.84 L477.26 443.04 L477.86 443.72 L478.46 443.36 L479.06 441.83 L479.66 441.24 L480.26 440.22 L480.86 440.01 L481.46 440.77 L482.06 440.83 L482.66 442.22 L483.26 441.79 L483.86 442.9 L484.46 443.37 L485.06 443.01 L485.66 445.2 L486.26 445.11 L486.86 444.14 L487.46 444.09 L488.06 444.04 L488.66 444.12 L489.26 443.53 L489.86 441.42 L490.46 440.19 L491.06 439.51 L491.66 439.03 L492.26 439.9 L492.86 439.77 L493.46 440.44 L494.06 439.92 L494.66 440.94 L495.26 441.67 L495.86 443.01 L496.46 442.77 L497.06 443.68 L497.66 444.59 L498.26 444.89 L498.86 444.49 L499.46 444.92 L500.06 443.49 L500.66 443.7 L501.26 442.33 L501.86 442.83 L502.46 441.54 L503.06 441.74 L503.66 441.97 L504.26 441.62 L504.86 440.76 L505.46 441.8 L506.06 441.91 L506.66 441.22 L507.26 440.69 L507.86 440.26 L508.46 442.3 L509.06 440.91 L509.66 440.64 L510.26 441.93 L510.86 442.59 L511.46 442.73 L512.06 441.3 L512.66 441.71 L513.26 442.06 L513.86 443.32 L514.46 442.6 L515.06 443.55 L515.66 443.25 L516.26 443.21 L516.86 443.7 L517.46 442.92 L518.06 442.72 L518.66 442.4 L519.26 441.66 L519.86 441.49 L520.46 440.81 L521.06 439.13 L521.66 439.11 L522.26 440.4 L522.86 439 L523.46 439.9 L524.06 441.02 L524.66 440.3 L525.26 441.27 L525.86 442.2 L526.46 441.74 L527.06 443.15 L527.66 443.28 L528.26 441.81 L528.86 442.69 L529.46 443.1 L530.06 442.75 L530.66 441.58 L531.26 441.46 L531.86 440.75 L532.46 440.29 L533.06 441.52 L533.66 440.57 L534.26 440.15 L534.86 440.41 L535.46 441.66 L536.06 440.98 L536.66 440.85 L537.26 439.45 L537.86 440.55 L538.46 439.36 L539.06 439.56 L539.66 438.69 L540.26 439.61 L540.86 439.49 L541.46 438.73 L542.06 440 L542.66 440.31 L543.26 440.15 L543.86 440.84 L544.46 442.75 L545.06 442.14 L545.66 443.62 L546.26 442.43 L546.86 443.47 L547.46 442.69 L548.06 441.32 L548.66 440.08 L549.26 439.91 L550.07 432.04 L550.88 423.07 L551.69 420.47 L552.5 420.19 L553.31 422.01 L554.12 424.05 L554.93 427.8 L555.74 431.09 L556.55 435.3 L557.36 437.48 L558.17 437.18 L558.98 436.53 L559.79 434.49 L560.6 432.55 L561.41 428.6 L562.22 425.25 L563.03 423.31 L563.84 422.95 L564.65 424.23 L565.46 426.27 L566.27 427.45 L567.08 430.33 L567.89 431.56 L568.7 432.57 L569.51 431.99 L570.32 431.52 L571.13 430.85 L571.94 428.94 L572.75 427.95 L573.56 427.81 L574.37 426.35 L575.18 427.39 L575.99 427.81 L576.8 429.2 L577.61 429.21 L578.42 431.47 L579.23 430.3 L580.04 432.12 L580.85 432.01 L581.66 430.29 L582.47 430.76 L583.28 429.48 L584.09 429.41 L584.9 429.34 L585.71 429.18 L586.52 428.55 L587.33 428.56 L588.14 428.31 L588.95 427.08 L589.76 428.29 L590.57 427.24 L591.38 428.68 L592.19 430.28 L593 431.46 L593.81 433.45 L594.62 435.64 L595.43 436.97 L596.24 437.3 L597.05 436.7 L597.86 435.96 L598.67 433.63 L599.48 431.7 L600.29 430.07 L601.1 428.72 L601.91 427.03 L602.72 427.23 L603.53 428.71 L604.34 431.36 L605.15 434.09 L605.96 436.37 L606.77 438.5 L607.58 439.89 L608.39 439.76 L609.2 439.6 L610.01 438.22 L610.82 436.65 L611.63 434.87 L612.44 433.67 L613.25 432.58 L614.06 433.41 L614.87 433.39 L615.68 434.16 L616.49 435.3 L617.3 435.7 L618.11 437.58 L618.92 438.1 L619.73 437.29 L620.54 438.18 L621.35 437.59 L622.16 436.58 L622.97 436.67 L623.78 437.33 L624.59 437.44 L625.4 438.3 L626.21 438.72 L627.02 439.74 L627.83 440.14 L628.64 439.29 L629.45 438.8 L630.26 437.13 L631.07 436.28 L631.88 435.55 L632.69 434.37 L633.5 434.05 L634.31 434.09 L635.12 436.04 L635.93 436.63 L636.74 438.35 L637.55 439.9 L638.36 440.86 L639.17 441.92 L639.98 441.85 L640.79 440.37 L641.6 440.31 L642.41 438.97 L643.22 437.63 L644.03 436.96 L644.84 436.04 L645.65 435.73 L646.46 435.34 L647.27 435.96 L648.08 436.2 L648.89 437.17 L649.7 437.58 L650.51 438.11 L651.32 439.06 L652.13 439.13 L652.94 438.9 L653.75 439.34 L654.56 440.1 L655.37 439.28 L656.18 439.53 L656.99 439.84 L657.8 439.14 L658.61 438 L659.42 437.41 L660.23 436.87 L661.04 435.81 L661.85 436.04 L662.66 435.82 L663.47 437.26 L664.28 438.05 L665.09 438.2 L665.9 439.35 L666.71 440.29 L667.52 440.37 L668.33 440.23 L669.14 440.3 L669.95 439.5 L670.76 437.28 L671.57 437.32 L672.38 436.38 L673.19 436.53 L674 436.42 L674.81 437.39 L675.62 439.38 L676.43 440.54 L677.24 441.03 L678.05 442.11 L678.86 442.01 L679.67 440.79 L680.48 439.93 L681.15 438.79 L681.75 437.96 L682.35 439.13 L682.95 437.9 L683.55 437.19 L684.15 437.13 L684.75 437.86 L685.35 438.92 L685.95 438.86 L686.55 439.57 L687.15 439.78 L687.75 440.68 L688.35 441.82 L688.95 442.3 L689.55 442.17 L690.15 441.64 L690.75 441.43 L691.35 441.31 L691.95 441.87 L692.55 440.29 L693.15 439.72 L693.75 439.66 L694.35 438.4 L694.95 438.54 L695.55 437.61 L696.15 438.72 L696.75 437.51 L697.35 437.69 L697.95 439.45 L698.55 438.84 L699.15 439.05 L699.75 439.89 L700.35 440.58 L700.95 440.18 L701.55 440.44 L702.15 440.52 L702.75 441.59 L703.35 441.77 L703.95 440.67 L704.55 441.17 L705.15 440.89 L705.75 441.25 L706.35 440.2 L706.95 440.4 L707.55 440.06 L708.15 439.45 L708.75 440.54 L709.35 439.88 L709.95 438.96 L710.55 439.77 L711.15 438.51 L711.75 438.03 L712.35 438.78 L712.95 437.99 L713.55 439.36 L714.15 439.62 L714.75 439.97 L715.35 439.76 L715.95 439.77 L716.55 440.94 L717.15 441.48 L717.75 440.79 L718.35 441.55 L718.95 441.15 L719.55 441.91 L720.15 441.54 L720.75 441.73 L721.35 440.98 L721.95 440.98 L722.55 440.22 L723.15 439.55 L723.75 438.67 L724.35 439.01 L724.95 439.02 L725.55 439.01 L726.15 438.47 L726.75 438.67 L727.35 438.8 L727.95 439.61 L728.55 439.63 L729.15 439.68 L729.75 439.6 L730.35 440.82 L730.95 440.79 L731.55 439.95 L732.15 440.77 L732.75 440.26 L733.35 439.48 L733.95 440.32 L734.55 440.16 L735.15 439.75 L735.75 440.97 L736.35 441.22 L736.95 441.5 L737.55 440.92 L738.15 440.51 L738.75 440.42 L739.35 440.01 L739.95 439.77 L740.55 440.07 L741.15 438.88 L741.75 438.8 L742.35 439.3 L742.95 438.56 L743.55 437.59 L744.15 437.61 L744.75 439.08 L745.35 438.44 L745.95 438.76 L746.55 439.48 L747.15 439.94 L747.75 440.67 L748.35 441.93 L748.95 442.08 L749.55 441.22 L750.15 441.43 L750.75 441.01 L751.35 441.7 L751.95 440.57 L752.55 436.39 L753.29 431.1 L754.1 426.84 L754.91 426.35 L755.72 426.89 L756.53 428.45 L757.34 429.1 L758.15 431.49 L758.96 434.15 L759.77 434.62 L760.58 435.99 L761.39 435.45 L762.2 434.82 L763.01 434.14 L763.82 432.56 L764.63 431.78 L765.44 431.03 L766.25 432.49 L767.06 432.43 L767.87 434.22 L768.68 434.07 L769.49 436.05 L770.3 436.72 L771.11 437.18 L771.92 437.63 L772.73 437.71 L773.54 435.89 L774.35 436.09 L775.16 434.38 L775.97 434.56 L776.78 434.56 L777.59 433.46 L778.4 433.65 L779.21 435.17 L780.02 435.66 L780.83 435.11 L781.64 436.44 L782.45 437.48 L783.26 437.5 L784.07 438.52 L784.88 437.88 L785.69 438.3 L786.5 439.27 L787.31 439.05 L788.12 438.99 L788.93 437.58 L789.74 436.7 L790.55 436.47 L791.36 435.48 L792.17 434.53 L792.98 433.51 L793.79 434.29 L794.6 435.16 L795.41 435.69 L796.22 437.83 L797.03 439.75 L797.84 440.61 L798.65 441.58 L799.46 442.46 L800.27 441.4 L800.87 440.67 L801.47 438.68 L802.07 437.39 L802.67 435.48 L803.27 435.82 L803.87 433.04 L804.47 433.43 L805.07 431.92 L805.67 433.05 L806.27 431.28 L806.87 433.26 L807.47 433.25 L808.07 433.88 L808.67 435.55 L809.27 436.12 L809.87 438.35 L810.47 438.2 L811.07 439.22 L811.67 438.25 L812.27 439.19 L812.87 438.68 L813.47 438.49 L814.07 437.9 L814.67 437.17 L815.27 437.19 L815.87 437.18 L816.47 436.61 L817.07 434.76 L817.67 435.73 L818.27 436.89 L818.87 435.24 L819.47 435.82 L820.07 437.3 L820.67 437.75 L821.27 436.77 L821.87 438.04 L822.47 437.87 L823.07 436.12 L823.67 435.77 L824.27 434.96 L824.87 434.55 L825.47 435.36 L826.07 436.29 L826.67 435.49 L827.27 436.41 L827.87 436.22 L828.47 437.44 L829.07 437.82 L829.67 440.01 L830.34 441.63 L831.15 441.16 L831.96 440.36 L832.77 439.1 L833.58 437.25 L834.39 434.49 L835.2 433.22 L836.01 431.36 L836.82 431.14 L837.63 431 L838.44 430.57 L839.25 430.85 L840.06 430.2 L840.87 431.74 L841.68 431.46 L842.49 431.47 L843.3 430.69 L844.11 430.1 L844.92 427.98 L845.73 428.09 L846.54 426.91 L847.35 426.07 L848.16 426.22 L848.97 427.07 L849.78 426.92 L850.59 425.78 L851.4 426.66 L852.21 425.15 L853.02 425.67 L853.83 424.38 L854.64 424.8 L855.45 424.62 L856.26 424.86 L857.07 424.54 L857.88 426.09 L858.69 426.77 L859.5 426.57 L860.31 427.76 L861.12 426.65 L861.93 426.3 L862.74 425.4 L863.55 424.53 L864.36 422.79 L865.17 423.36 L865.98 424 L866.79 424.1 L867.6 425.57 L868.41 426 L869.22 427.27 L870.03 426.77 L870.84 427.04 L871.65 425.29 L872.46 423.4 L873.27 421.4 L874.08 419.55 L874.89 418.32 L875.7 418.51 L876.51 418.31 L877.32 421.49 L878.13 423.88 L878.94 426.22 L879.75 428.62 L880.56 430.44 L881.37 431.69 L882.18 430.69 L882.99 427.16 L883.8 424.49 L884.61 420.16 L885.42 417.29 L886.23 414.93 L887.04 412.88 L887.85 414.15 L888.66 415.41 L889.47 418.13 L890.28 422.19 L891.09 425.88 L891.9 428.33 L892.71 428.89 L893.52 429.21 L894.33 428.88 L895.14 426.78 L895.95 425.21 L896.76 421.75 L897.57 419.72 L898.38 418.11 L899.19 417.41 L900 416.4 L900.81 416.99 L901.62 417.3 L902.43 418.7 L903.24 419.87 L904.05 420.33 L904.86 421.41 L905.67 422.1 L906.48 422.71 L907.29 423.01 L908.1 424.54 L908.91 424.17 L909.72 423.87 L910.53 423.96 L911.34 423.99 L912.15 421.44 L912.96 420.88 L913.77 418.18 L914.58 416.69 L915.39 415.7 L916.2 415.83 L917.01 416.2 L917.82 417.63 L918.63 418.56 L919.44 420.48 L920.25 421.76 L921.06 423.7 L921.87 423.47 L922.68 424.26 L923.49 423.82 L924.3 421.51 L925.11 421.11 L925.92 420.1 L926.73 419.79 L927.54 419.19 L928.35 420.02 L929.16 420.95 L929.97 422.05 L930.78 422.79 L931.59 423.34 L932.4 422.95 L933.21 422.63 L934.02 421.89 L934.83 420.58 L935.64 419.75 L936.45 419.46 L937.26 419.7 L938.07 421.22 L938.88 423.88 L939.69 424.76 L940.5 427.81 L941.31 428.74 L942.12 428.63 L942.93 427.29 L943.74 426.4 L944.55 424.65 L945.36 421.99 L946.17 421.2 L946.98 420.12 L947.79 419.25 L948.6 421.56 L949.41 422.05 L950.22 424.18 L951.03 427.34 L951.84 428.71 L952.65 430.75 L953.46 431.09 L954.27 429.48 L955.08 429.22 L955.89 428.68 L956.7 427.46 L957.51 426.65 L958.32 428.2 L959.13 428.97 L959.94 431.67 L960.75 433.9 L961.56 435.66 L962.37 437.5 L963.18 437.18 L963.99 435.19 L964.8 433.46 L965.61 431.3 L966.42 428.84 L967.23 426.5 L968.04 424.46 L968.85 424.92 L969.66 425.32 L970.47 425.96 L971.28 428.6 L972.09 430.37 L972.9 430.87 L973.71 431.92 L974.52 433.35 L975.33 431.93 L976.14 430.62 L976.95 430.01 L977.76 427.68 L978.57 425.19 L979.38 424.1 L980.19 421.6 L981 420.52 L981.81 419.98 L982.62 419.74 L983.43 419.56 L984.24 420.68 L985.05 421.56 L985.86 422.02 L986.67 423.89 L987.48 426.11 L988.29 427.78 L989.1 428.63 L989.91 429.61 L990.72 430.34 L991.53 428.56 L992.34 427.85 L993.15 424.36 L993.96 421.35 L994.77 419.01 L995.58 416.08 L996.39 413.93 L997.2 413.8 L998.01 415.21 L998.82 417.08 L999.63 420.26 L1000.44 423.46 L1001.25 426.44 L1002.06 428.86 L1002.87 429.83 L1003.68 429.49 L1004.49 427.53 L1005.3 425.43 L1006.11 421.83 L1006.92 419.06 L1007.73 417 L1008.54 416.77 L1009.35 416.63 L1010.16 417.86 L1010.97 418.71 L1011.78 420.57 L1012.59 423.49 L1013.4 423.95 L1014.21 424.77 L1015.02 424.66 L1015.83 423.92 L1016.64 422.79 L1017.45 420.98 L1017.45 426.68 L1016.64 429.22 L1015.83 429.98 L1015.02 430.51 L1014.21 430.96 L1013.4 430.48 L1012.59 429.68 L1011.78 427.22 L1010.97 424.48 L1010.16 423.9 L1009.35 421.84 L1008.54 422.33 L1007.73 423.76 L1006.92 425.89 L1006.11 428.62 L1005.3 431.36 L1004.49 433.36 L1003.68 435.14 L1002.87 435.78 L1002.06 435.63 L1001.25 433.14 L1000.44 430.46 L999.63 426.04 L998.82 423.93 L998.01 421.7 L997.2 419.8 L996.39 420.09 L995.58 421.85 L994.77 424.5 L993.96 427 L993.15 429.84 L992.34 432.83 L991.53 435.8 L990.72 435.89 L989.91 435.45 L989.1 434.36 L988.29 433.66 L987.48 431.75 L986.67 429.97 L985.86 429.21 L985.05 428.09 L984.24 426.35 L983.43 425.87 L982.62 426.25 L981.81 426.41 L981 426.76 L980.19 428.52 L979.38 430.3 L978.57 431.74 L977.76 433.71 L976.95 435.88 L976.14 436.64 L975.33 438.29 L974.52 438.84 L973.71 438.8 L972.9 438.03 L972.09 436.38 L971.28 434.12 L970.47 431.65 L969.66 431.14 L968.85 430.63 L968.04 431.64 L967.23 432.29 L966.42 435.11 L965.61 436.47 L964.8 439.85 L963.99 441.23 L963.18 443.18 L962.37 442.78 L961.56 442.06 L960.75 439.29 L959.94 436.6 L959.13 435.14 L958.32 433.08 L957.51 433.05 L956.7 432.53 L955.89 434.62 L955.08 434.37 L954.27 436.38 L953.46 436.27 L952.65 436.68 L951.84 435.85 L951.03 433.17 L950.22 430.44 L949.41 428.23 L948.6 426.72 L947.79 425.48 L946.98 425.45 L946.17 426.04 L945.36 428.32 L944.55 431.16 L943.74 432.66 L942.93 433.64 L942.12 434.26 L941.31 434.76 L940.5 433.05 L939.69 431.83 L938.88 429.67 L938.07 427.73 L937.26 425.45 L936.45 425.57 L935.64 426.08 L934.83 426.07 L934.02 426.84 L933.21 428.68 L932.4 429.23 L931.59 429.26 L930.78 428.91 L929.97 427.89 L929.16 427.04 L928.35 426.85 L927.54 425.65 L926.73 426.36 L925.92 426.5 L925.11 426.54 L924.3 428.55 L923.49 429.74 L922.68 430.38 L921.87 430.27 L921.06 429.3 L920.25 428.05 L919.44 425.64 L918.63 424.16 L917.82 422.47 L917.01 422.26 L916.2 421.32 L915.39 421.89 L914.58 423.07 L913.77 425.3 L912.96 426.31 L912.15 428.46 L911.34 428.56 L910.53 430.43 L909.72 430.63 L908.91 430.04 L908.1 430.55 L907.29 430.03 L906.48 428.97 L905.67 427.91 L904.86 426.39 L904.05 425.51 L903.24 425.48 L902.43 425 L901.62 423.29 L900.81 422.37 L900 422.35 L899.19 422.64 L898.38 424.62 L897.57 426.36 L896.76 428.87 L895.95 430.73 L895.14 433.37 L894.33 434.36 L893.52 435.47 L892.71 435.58 L891.9 434.42 L891.09 431.1 L890.28 427.43 L889.47 424.73 L888.66 421.84 L887.85 419.92 L887.04 419.09 L886.23 420.09 L885.42 423.04 L884.61 425.98 L883.8 430.85 L882.99 434.12 L882.18 436.76 L881.37 437.02 L880.56 437.57 L879.75 435.82 L878.94 432.54 L878.13 429.53 L877.32 427.47 L876.51 424.68 L875.7 424.47 L874.89 424.8 L874.08 424.7 L873.27 427.08 L872.46 429.26 L871.65 430.56 L870.84 432.33 L870.03 432.47 L869.22 433.39 L868.41 432.55 L867.6 431.04 L866.79 429.76 L865.98 429.7 L865.17 428.75 L864.36 429.97 L863.55 429.68 L862.74 431.73 L861.93 431.92 L861.12 432.93 L860.31 432.39 L859.5 432.35 L858.69 431.89 L857.88 431.46 L857.07 431.75 L856.26 431.07 L855.45 430.58 L854.64 429.69 L853.83 431.44 L853.02 431.03 L852.21 431.08 L851.4 431.6 L850.59 432.13 L849.78 433.15 L848.97 432.4 L848.16 432.78 L847.35 432.29 L846.54 433.3 L845.73 433.8 L844.92 434.76 L844.11 435.19 L843.3 436.59 L842.49 436.33 L841.68 437.65 L840.87 436.94 L840.06 436.8 L839.25 436.82 L838.44 436.12 L837.63 436.49 L836.82 436.66 L836.01 437.26 L835.2 439.52 L834.39 441.25 L833.58 443.01 L832.77 444.63 L831.96 445.96 L831.15 446.85 L830.34 446.75 L829.67 449.74 L829.07 447.89 L828.47 446.88 L827.87 445.98 L827.27 446.91 L826.67 446.57 L826.07 444.56 L825.47 446.37 L824.87 445.96 L824.27 444.39 L823.67 446.29 L823.07 445.75 L822.47 447.16 L821.87 446.07 L821.27 446.47 L820.67 446.83 L820.07 446.32 L819.47 445.72 L818.87 445.1 L818.27 444.99 L817.67 445.74 L817.07 445.3 L816.47 445.72 L815.87 445.97 L815.27 445.44 L814.67 447.54 L814.07 448.45 L813.47 448.3 L812.87 449.47 L812.27 449 L811.67 449.96 L811.07 448.59 L810.47 448.19 L809.87 448.28 L809.27 447.82 L808.67 445.04 L808.07 445.45 L807.47 444.33 L806.87 442.39 L806.27 443.09 L805.67 441.93 L805.07 442.21 L804.47 443.2 L803.87 444.39 L803.27 444.32 L802.67 445.34 L802.07 448.38 L801.47 447.98 L800.87 448.33 L800.27 451.1 L799.46 447.92 L798.65 447.67 L797.84 445.66 L797.03 444.35 L796.22 443.7 L795.41 441.63 L794.6 439.89 L793.79 439.48 L792.98 439.1 L792.17 439.98 L791.36 440.19 L790.55 442.24 L789.74 443.12 L788.93 444.05 L788.12 444.51 L787.31 444.78 L786.5 444.49 L785.69 443.73 L784.88 444.16 L784.07 443.48 L783.26 442.7 L782.45 443.17 L781.64 442.73 L780.83 441.55 L780.02 440.31 L779.21 439.98 L778.4 439.51 L777.59 439.95 L776.78 440.34 L775.97 440.16 L775.16 440.06 L774.35 441.09 L773.54 442.58 L772.73 442.85 L771.92 442.71 L771.11 443.18 L770.3 442.65 L769.49 441.79 L768.68 441.1 L767.87 439.78 L767.06 439.26 L766.25 438.51 L765.44 437.77 L764.63 438.43 L763.82 439.53 L763.01 439.53 L762.2 441.69 L761.39 442.44 L760.58 442.11 L759.77 441.49 L758.96 439.54 L758.15 437.95 L757.34 436.21 L756.53 435.02 L755.72 433.36 L754.91 433.55 L754.1 434.13 L753.29 437.28 L752.55 444.04 L751.95 446.63 L751.35 446.6 L750.75 448.33 L750.15 447.81 L749.55 447.28 L748.95 448.04 L748.35 448.17 L747.75 446.86 L747.15 446.03 L746.55 445.81 L745.95 445.93 L745.35 445.51 L744.75 444.56 L744.15 444.38 L743.55 444.11 L742.95 444.38 L742.35 445.07 L741.75 445.4 L741.15 445.53 L740.55 446.72 L739.95 445.95 L739.35 447.07 L738.75 446.36 L738.15 447.07 L737.55 447.15 L736.95 446.48 L736.35 446.71 L735.75 447.19 L735.15 445.91 L734.55 445.92 L733.95 445.3 L733.35 446.15 L732.75 445.35 L732.15 445.52 L731.55 446.83 L730.95 445.76 L730.35 446.72 L729.75 446.87 L729.15 445.48 L728.55 446.41 L727.95 445.82 L727.35 445.81 L726.75 445.01 L726.15 444.7 L725.55 444.67 L724.95 445.49 L724.35 444.34 L723.75 445.05 L723.15 444.84 L722.55 446.42 L721.95 445.98 L721.35 445.96 L720.75 446.97 L720.15 446.82 L719.55 447.91 L718.95 447.17 L718.35 447.14 L717.75 446.67 L717.15 447.13 L716.55 447.25 L715.95 446.15 L715.35 445.96 L714.75 445.17 L714.15 445.55 L713.55 444.76 L712.95 445.32 L712.35 444.32 L711.75 445.3 L711.15 444.51 L710.55 445.36 L709.95 446.1 L709.35 446.17 L708.75 445.48 L708.15 446.04 L707.55 446.82 L706.95 446.12 L706.35 445.94 L705.75 447.2 L705.15 447.03 L704.55 446.58 L703.95 447.48 L703.35 447.12 L702.75 447.45 L702.15 447.48 L701.55 446.3 L700.95 446.48 L700.35 446.29 L699.75 445.93 L699.15 445.51 L698.55 444.67 L697.95 444.66 L697.35 444.3 L696.75 443.59 L696.15 444.12 L695.55 443.42 L694.95 444.29 L694.35 444.74 L693.75 445.63 L693.15 446.2 L692.55 447.2 L691.95 446.99 L691.35 448.14 L690.75 447.66 L690.15 448.33 L689.55 449.1 L688.95 447.47 L688.35 447.49 L687.75 447.34 L687.15 446.4 L686.55 445.01 L685.95 444.93 L685.35 444.81 L684.75 444.15 L684.15 443.4 L683.55 444.17 L682.95 443.56 L682.35 444.51 L681.75 444.71 L681.15 445.9 L680.48 444.9 L679.67 446.13 L678.86 445.99 L678.05 446.05 L677.24 446.33 L676.43 445.49 L675.62 443.89 L674.81 442.16 L674 441.03 L673.19 441.25 L672.38 441.23 L671.57 441.76 L670.76 442.46 L669.95 443.88 L669.14 444.7 L668.33 444.86 L667.52 445.03 L666.71 445.38 L665.9 444.48 L665.09 443.29 L664.28 442.91 L663.47 441.52 L662.66 441.41 L661.85 441.02 L661.04 441.38 L660.23 441.83 L659.42 442.35 L658.61 443.59 L657.8 444.06 L656.99 444.91 L656.18 444.37 L655.37 444.71 L654.56 444.54 L653.75 444.74 L652.94 443.43 L652.13 443.42 L651.32 443.48 L650.51 442.7 L649.7 442.95 L648.89 442.65 L648.08 441.08 L647.27 441.51 L646.46 440.81 L645.65 440.58 L644.84 440.64 L644.03 442.02 L643.22 442.84 L642.41 444.19 L641.6 444.96 L640.79 446.22 L639.98 446.58 L639.17 445.94 L638.36 446.1 L637.55 444.84 L636.74 443.66 L635.93 441.62 L635.12 440.41 L634.31 439.83 L633.5 439.02 L632.69 439.67 L631.88 440.66 L631.07 441.47 L630.26 441.98 L629.45 443.73 L628.64 444.94 L627.83 444.54 L627.02 445.45 L626.21 444.71 L625.4 444.44 L624.59 443.57 L623.78 442.82 L622.97 441.83 L622.16 442.74 L621.35 442.51 L620.54 443.25 L619.73 443.71 L618.92 442.41 L618.11 441.93 L617.3 441.31 L616.49 440.45 L615.68 439.16 L614.87 438.56 L614.06 438.46 L613.25 438.31 L612.44 440.19 L611.63 441.56 L610.82 443.28 L610.01 444.14 L609.2 445.93 L608.39 445.17 L607.58 445.16 L606.77 444.38 L605.96 441.27 L605.15 439.77 L604.34 437.06 L603.53 434.75 L602.72 433.78 L601.91 432.73 L601.1 433.74 L600.29 435.09 L599.48 438.37 L598.67 439.25 L597.86 441.48 L597.05 442.66 L596.24 443.37 L595.43 443.93 L594.62 443.08 L593.81 441.16 L593 438.08 L592.19 437.06 L591.38 435.08 L590.57 433.86 L589.76 433.71 L588.95 434.18 L588.14 434.13 L587.33 435.39 L586.52 436.85 L585.71 436.55 L584.9 437.1 L584.09 436.52 L583.28 438.24 L582.47 438.54 L581.66 438.73 L580.85 439.29 L580.04 438.78 L579.23 439.13 L578.42 437.33 L577.61 436.68 L576.8 435.51 L575.99 436.03 L575.18 434.6 L574.37 434.97 L573.56 435.11 L572.75 434.46 L571.94 436.34 L571.13 438.77 L570.32 439.37 L569.51 439.16 L568.7 439.78 L567.89 438.32 L567.08 437.82 L566.27 435.7 L565.46 433.76 L564.65 431.25 L563.84 430.68 L563.03 430.88 L562.22 433.83 L561.41 436.46 L560.6 438.95 L559.79 442.66 L558.98 445 L558.17 444.91 L557.36 444.05 L556.55 441.49 L555.74 439.46 L554.93 434.48 L554.12 430.82 L553.31 429.31 L552.5 427.54 L551.69 426.97 L550.88 430.52 L550.07 437.54 L549.26 443.54 L548.66 446.12 L548.06 447.84 L547.46 448.34 L546.86 448.68 L546.26 449.66 L545.66 448.76 L545.06 448.98 L544.46 448.53 L543.86 448.36 L543.26 446.57 L542.66 446.32 L542.06 445.57 L541.46 445.25 L540.86 445.16 L540.26 445.13 L539.66 445.59 L539.06 446.36 L538.46 446.88 L537.86 446.24 L537.26 446.23 L536.66 446.79 L536.06 448.18 L535.46 447.28 L534.86 448.56 L534.26 448.28 L533.66 447.93 L533.06 448.22 L532.46 449.27 L531.86 448.33 L531.26 449.9 L530.66 448.49 L530.06 448.9 L529.46 449.03 L528.86 449.36 L528.26 451.07 L527.66 450.74 L527.06 451.04 L526.46 449.69 L525.86 449.79 L525.26 449.39 L524.66 449.46 L524.06 448.26 L523.46 447.57 L522.86 448.32 L522.26 447.24 L521.66 448.75 L521.06 447.87 L520.46 449.19 L519.86 449.96 L519.26 449.63 L518.66 450.63 L518.06 449.79 L517.46 450.8 L516.86 451.52 L516.26 451.34 L515.66 451.21 L515.06 452.67 L514.46 451.32 L513.86 450.6 L513.26 450.26 L512.66 450.52 L512.06 449.93 L511.46 451.05 L510.86 451.12 L510.26 450.36 L509.66 448.87 L509.06 450.63 L508.46 449.17 L507.86 450.08 L507.26 450.1 L506.66 448.57 L506.06 449.99 L505.46 449.59 L504.86 449.52 L504.26 449.81 L503.66 449.43 L503.06 450.45 L502.46 450.69 L501.86 450.53 L501.26 451.54 L500.66 450.65 L500.06 451.46 L499.46 451.56 L498.86 452.88 L498.26 452.12 L497.66 453.27 L497.06 452.91 L496.46 451.08 L495.86 451.37 L495.26 449.49 L494.66 449.36 L494.06 449.03 L493.46 447.98 L492.86 449.21 L492.26 448.73 L491.66 448.78 L491.06 449.78 L490.46 449.55 L489.86 449.28 L489.26 450.85 L488.66 451.05 L488.06 452.71 L487.46 453.91 L486.86 453.17 L486.26 453.1 L485.66 453.83 L485.06 452.13 L484.46 451.81 L483.86 451.98 L483.26 449.38 L482.66 449.34 L482.06 448.89 L481.46 449.29 L480.86 449.05 L480.26 449.74 L479.66 450.08 L479.06 450.5 L478.46 451.37 L477.86 450.94 L477.26 452.25 L476.66 452.56 L476.06 452.53 L475.46 453.47 L474.86 453.42 L474.26 452.66 L473.66 452.14 L473.06 449.83 L472.46 449.38 L471.86 449.17 L471.26 449.3 L470.66 449.88 L470.06 449.17 L469.46 448.48 L468.86 448.62 L468.26 449.19 L467.66 449.63 L467.06 451.04 L466.46 451.48 L465.86 450.79 L465.26 450.59 L464.52 449.44 L463.71 447.96 L462.9 447.46 L462.09 445.6 L461.28 444.3 L460.47 442.58 L459.66 440.72 L458.85 439.58 L458.04 438.81 L457.23 437.69 L456.42 437.17 L455.61 437.21 L454.8 436.65 L453.99 436.13 L453.18 436.38 L452.37 436.01 L451.56 435.83 L450.75 435.92 L449.94 434.99 L449.13 435.93 L448.32 434.88 L447.51 434.41 L446.7 432.96 L445.89 431.96 L445.08 430.2 L444.27 429.57 L443.46 428.24 L442.65 427.93 L441.84 427.4 L441.03 427.2 L440.22 429.2 L439.41 430.19 L438.6 432.26 L437.79 433.42 L436.98 434.32 L436.17 434.74 L435.36 434.55 L434.55 433.93 L433.74 432.32 L432.93 430.43 L432.12 429.21 L431.31 427.53 L430.5 426.17 L429.69 426.02 L428.88 426.27 L428.07 428.13 L427.26 428.3 L426.45 429.17 L425.64 430.5 L424.83 430.61 L424.02 430.21 L423.21 429.24 L422.4 428.44 L421.59 427.63 L420.78 427.54 L419.97 427.74 L419.16 428.83 L418.35 429.7 L417.54 429.63 L416.73 431.11 L415.92 430.59 L415.11 429.69 L414.3 428.82 L413.49 426.8 L412.68 423.92 L411.87 423.28 L411.06 422.23 Z" fill="#0a760a"/>
<path d="M121.8 438.54 L122 420.79 L122.2 442.1 L122.4 427.51 L122.6 429.78 L122.8 429.6 L123 442.29 L123.2 443.17 L123.4 434.5 L123.6 434.05 L123.8 427.46 L124 441.76 L124.2 429.16 L124.4 443.24 L124.6 419.64 L124.8 422.17 L125 440.31 L125.2 438.02 L125.4 447.37 L125.6 436.41 L125.8 439.12 L126 442.33 L126.2 433.31 L126.4 428.99 L126.6 442.9 L126.8 431.3 L127 436.96 L127.2 436.18 L127.4 432.85 L127.6 416.69 L127.8 437.45 L128 442.97 L128.2 433.79 L128.4 431.81 L128.6 446.1 L128.8 442.58 L129 433.7 L129.2 435.3 L129.4 441.99 L129.6 428.63 L129.8 423.48 L130 420.51 L130.2 420.87 L130.4 437.91 L130.6 427.9 L130.8 437.78 L131 439.42 L131.2 437.84 L131.4 433.58 L131.6 419.28 L131.8 420.79 L132 439.85 L132.2 438.96 L132.4 445.4 L132.6 436.42 L132.8 434.95 L133 444.35 L133.2 439.46 L133.4 445.38 L133.6 430.34 L133.8 426.26 L134 428.56 L134.2 436.22 L134.4 434.68 L134.6 416.93 L134.8 435.7 L135 441.24 L135.2 434.69 L135.4 431.58 L135.6 437.13 L135.8 442.65 L136 426.79 L136.2 442.48 L136.4 434.23 L136.6 435.21 L136.8 427.6 L137 433.99 L137.2 435.72 L137.4 444.25 L137.6 434.14 L137.8 440.23 L138 436.1 L138.2 443.32 L138.4 438.36 L138.6 428.84 L138.8 436.92 L139 438.82 L139.2 435.05 L139.4 435.34 L139.6 436.04 L139.8 430.64 L140 427.39 L140.2 445.36 L140.4 433.48 L140.6 440.78 L140.8 435.49 L141 423.37 L141.2 435.43 L141.4 433.52 L141.6 432.48 L141.8 434.34 L142 443.58 L142.2 427.29 L142.4 424.22 L142.6 447.42 L142.8 448.7 L143 429.48 L143.2 437.93 L143.4 432.7 L143.6 438.49 L143.8 436.88 L144 441.04 L144.2 445.87 L144.4 440.41 L144.6 417.02 L144.8 428.25 L145 424.6 L145.2 438.69 L145.4 437.38 L145.6 429.95 L145.8 430.59 L146 439.65 L146.2 440.59 L146.4 430.94 L146.6 410.42 L146.8 425.45 L147 443.48 L147.2 431.5 L147.4 439.44 L147.6 439.89 L147.8 421.44 L148 433.42 L148.2 428.46 L148.4 428.51 L148.6 443.62 L148.8 431.34 L149 442.09 L149.2 443.66 L149.4 430.71 L149.6 446.78 L149.8 452.57 L150 428.88 L150.2 438.92 L150.4 436.82 L150.6 435.99 L150.8 429.78 L151 441.91 L151.2 431.65 L151.4 436.28 L151.6 445.26 L151.8 447.31 L152 437.75 L152.2 444.93 L152.4 443.33 L152.6 429.43 L152.8 447.3 L153 428.24 L153.2 440.48 L153.4 445.41 L153.6 427.58 L153.8 426.68 L154 429.35 L154.2 414.5 L154.4 427.12 L154.6 429.46 L154.8 439.47 L155 436.44 L155.2 425.1 L155.4 433.99 L155.6 432.44 L155.8 422.4 L156 431.93 L156.2 424.21 L156.4 438.5 L156.6 424.1 L156.8 432.5 L157 415.3 L157.2 416.45 L157.4 415.48 L157.6 423.59 L157.8 427.77 L158 434.46 L158.2 430.17 L158.4 436.27 L158.6 435.44 L158.8 422.38 L159 427.05 L159.2 431.68 L159.4 444.24 L159.6 428.76 L159.8 432.52 L160 423.09 L160.2 439.51 L160.4 436.32 L160.6 435.38 L160.8 419.98 L161 441.21 L161.2 432.68 L161.4 439.5 L161.6 446.67 L161.8 445.98 L162 446.45 L162.2 440.85 L162.4 444.49 L162.6 436.31 L162.8 429.74 L163 437.29 L163.2 446.15 L163.4 449.89 L163.6 439.6 L163.8 429.58 L164 425.34 L164.2 442.74 L164.4 430.95 L164.6 421.66 L164.8 452.27 L165 451.2 L165.2 433.6 L165.4 432.2 L165.6 435.86 L165.8 440.59 L166 445.25 L166.2 438.81 L166.4 432.05 L166.6 434.85 L166.8 440.03 L167 442.15 L167.2 436.8 L167.4 438.91 L167.6 429.13 L167.8 435.1 L168 440.57 L168.2 441.69 L168.4 436.55 L168.6 426.51 L168.8 425.2 L169 441.87 L169.2 432.84 L169.4 445.94 L169.6 444.19 L169.8 431.64 L170 441.13 L170.2 428.59 L170.4 442.91 L170.6 437.94 L170.8 424.37 L171 441.79 L171.2 433.57 L171.4 439.7 L171.6 424.06 L171.8 438.59 L172 425.12 L172.2 440.6 L172.4 435.35 L172.6 443.68 L172.8 431.44 L173 437.33 L173.2 427.3 L173.4 429.86 L173.6 433.42 L173.8 436.44 L174 426.14 L174.2 430.15 L174.4 442.04 L174.6 427.72 L174.8 432.72 L175 433.42 L175.2 438.54 L175.4 449.17 L175.6 418.35 L175.8 431.11 L176 420.71 L176.2 425.06 L176.4 445.22 L176.6 422.52 L176.8 428.56 L177 442.27 L177.2 433.13 L177.4 434.19 L177.6 433.03 L177.8 430.34 L178 428.04 L178.2 436.02 L178.4 434.27 L178.6 444.34 L178.8 433.12 L179 436.24 L179.2 444.03 L179.4 429.59 L179.6 431.23 L179.8 446.26 L180 444.03 L180.2 430.43 L180.4 429.57 L180.6 437.75 L180.8 433.71 L181 442.73 L181.2 437.53 L181.4 427.71 L181.6 434.12 L181.8 426.68 L182 434.11 L182.2 421.26 L182.4 433.14 L182.6 429.1 L182.8 440.94 L183 445.72 L183.2 425.58 L183.4 433.84 L183.6 439.92 L183.8 430.46 L184 426 L184.2 424.55 L184.4 445.67 L184.6 439.14 L184.8 439.39 L185 442.7 L185.2 440.59 L185.4 430.62 L185.6 426.84 L185.8 431 L186 449.14 L186.2 434.02 L186.4 427.09 L186.6 432.86 L186.8 441.94 L187 426.39 L187.2 431.15 L187.4 450.53 L187.6 429.5 L187.8 450.33 L188 437.7 L188.2 435.27 L188.4 441.72 L188.6 435.99 L188.8 433.96 L189 443.43 L189.2 430.81 L189.4 438 L189.6 449.98 L189.8 440.47 L190 436.58 L190.2 434.03 L190.4 435.19 L190.6 442.3 L190.8 437.91 L191 442.37 L191.2 446.92 L191.4 449.46 L191.6 442.62 L191.8 435.65 L192 445.48 L192.2 453.85 L192.4 455.37 L192.6 443.23 L192.8 433.18 L193 444.32 L193.2 435.69 L193.4 450.35 L193.6 435.62 L193.8 446.85 L194 446.1 L194.2 442.45 L194.4 436.4 L194.6 449.97 L194.8 442.86 L195 440.88 L195.2 447.97 L195.4 438.33 L195.6 443.9 L195.8 444.87 L196 450.88 L196.2 444.15 L196.4 445.44 L196.6 439.95 L196.8 440.74 L197 448.08 L197.2 434.26 L197.4 435.61 L197.6 446.56 L197.8 445.03 L198 451.35 L198.2 449.75 L198.4 440.04 L198.6 442.32 L198.8 452.29 L199 449.29 L199.2 447.03 L199.4 437.25 L199.6 449.86 L199.8 450.33 L200 447.59 L200.2 439.99 L200.4 435.5 L200.6 447.96 L200.8 445.45 L201 450.57 L201.2 448.85 L201.4 435.9 L201.6 453.2 L201.8 452.25 L202 455.5 L202.2 446.63 L202.4 448.07 L202.6 442.82 L202.8 446.56 L203 444.56 L203.2 438.19 L203.4 447.74 L203.6 445.21 L203.8 443.24 L204 443.35 L204.2 444.22 L204.4 457.45 L204.6 443.37 L204.8 446.75 L205 450.02 L205.2 450.51 L205.4 427.08 L205.6 447.59 L205.8 454.11 L206 447.42 L206.2 426.26 L206.4 440.74 L206.6 440.59 L206.8 447.75 L207 443.95 L207.2 444.03 L207.4 440.95 L207.6 448.5 L207.8 446.85 L208 436.05 L208.2 435.93 L208.4 441.61 L208.6 450.68 L208.8 449.18 L209 442.03 L209.2 449.71 L209.4 439.65 L209.6 444.88 L209.8 442.53 L210 439.23 L210.2 450.44 L210.4 451.87 L210.6 448.7 L210.8 450.56 L211 446.11 L211.2 442.25 L211.4 450.05 L211.6 434.27 L211.8 443.33 L212 451.64 L212.2 453.72 L212.4 443.78 L212.6 446.58 L212.8 449.7 L213 443.58 L213.2 452.33 L213.4 453.06 L213.6 441.9 L213.8 442.81 L214 441.89 L214.2 452.81 L214.4 438.2 L214.6 443.81 L214.8 444.21 L215 447.08 L215.2 450.62 L215.4 440.97 L215.6 451.72 L215.8 450.44 L216 438.12 L216.2 434.05 L216.4 434.26 L216.6 433.94 L216.8 444.59 L217 442.3 L217.2 452.32 L217.4 445.79 L217.6 450.69 L217.8 449.56 L218 446.63 L218.2 441.75 L218.4 434.63 L218.6 450.87 L218.8 446.27 L219 434.13 L219.2 454.03 L219.4 439.87 L219.6 436.35 L219.8 433 L220 451.91 L220.2 445.09 L220.4 453.51 L220.6 443.65 L220.8 456.86 L221 445.67 L221.2 452.17 L221.4 439.95 L221.6 443.68 L221.8 452.67 L222 450.85 L222.2 446.3 L222.4 443.58 L222.6 444.91 L222.8 451.63 L223 443.98 L223.2 449.56 L223.4 450.84 L223.6 442.08 L223.8 447.79 L224 442.53 L224.2 442.65 L224.4 442.78 L224.6 443.99 L224.8 450.82 L225 443.94 L225.2 444.06 L225.4 454.67 L225.6 449.07 L225.8 440.3 L226 448.16 L226.2 446 L226.4 449.96 L226.6 442.4 L226.8 450.31 L227 448.05 L227.2 450.84 L227.4 447.17 L227.6 437.63 L227.8 443.68 L228 439.49 L228.2 452.3 L228.4 451.47 L228.6 440.1 L228.8 444.6 L229 453.5 L229.2 442.31 L229.4 452.31 L229.6 442.51 L229.8 437.82 L230 450.5 L230.2 445.94 L230.4 443.99 L230.6 435.1 L230.8 444.19 L231 453.79 L231.2 446.92 L231.4 448.59 L231.6 450.49 L231.8 450.27 L232 443.38 L232.2 454.51 L232.4 445.06 L232.6 445.06 L232.8 459.15 L233 447.68 L233.2 444.38 L233.4 446.45 L233.6 458.39 L233.8 445.59 L234 451.11 L234.2 442.09 L234.4 443.69 L234.6 450.23 L234.8 445.03 L235 452.34 L235.2 445.89 L235.4 438.81 L235.6 444.62 L235.8 448.54 L236 451.28 L236.2 444.24 L236.4 438.55 L236.6 444.89 L236.8 449.54 L237 450.92 L237.2 442.11 L237.4 449.71 L237.6 443 L237.8 449.03 L238 446.39 L238.2 446.42 L238.4 451.01 L238.6 450.08 L238.8 436.53 L239 449 L239.2 440.89 L239.4 447.84 L239.6 432.59 L239.8 433.65 L240 447.16 L240.2 436.22 L240.4 449.7 L240.6 442.06 L240.8 446.62 L241 445.91 L241.2 437.51 L241.4 449.86 L241.6 449.34 L241.8 448.93 L242 452.33 L242.2 452.33 L242.4 447.75 L242.6 448.49 L242.8 442.26 L243 442.69 L243.2 453.13 L243.4 437.41 L243.6 449.45 L243.8 453.86 L244 453.23 L244.2 448.99 L244.4 442.71 L244.6 447.76 L244.8 450.29 L245 451.04 L245.2 453.88 L245.4 452.71 L245.6 442.13 L245.8 448.67 L246 442.38 L246.2 445.96 L246.4 445.64 L246.6 442.12 L246.8 432.16 L247 452.99 L247.2 444.94 L247.4 444.23 L247.6 440.85 L247.8 452.43 L248 447.65 L248.2 448.58 L248.4 455.17 L248.6 452.55 L248.8 440.37 L249 443.04 L249.2 442.5 L249.4 445.02 L249.6 448.19 L249.8 440.58 L250 442.56 L250.2 438.06 L250.4 447.32 L250.6 443.46 L250.8 437.74 L251 442.16 L251.2 439.93 L251.4 441.52 L251.6 446.92 L251.8 450.25 L252 450.44 L252.2 450.56 L252.4 438.23 L252.6 452.05 L252.8 442.86 L253 445.14 L253.2 447.72 L253.4 446.08 L253.6 442.92 L253.8 450.8 L254 437.7 L254.2 439.39 L254.4 441.15 L254.6 451.5 L254.8 436.62 L255 451.92 L255.2 444.96 L255.4 450.59 L255.6 442.47 L255.8 438.49 L256 447.48 L256.2 443.87 L256.4 446.79 L256.6 441.68 L256.8 440.08 L257 435.21 L257.2 438.77 L257.4 447.68 L257.6 455.19 L257.8 446.11 L258 439.73 L258.2 445.11 L258.4 440.18 L258.6 443 L258.8 452.38 L259 454.29 L259.2 458.17 L259.4 444.75 L259.6 456.86 L259.8 448.44 L260 446.11 L260.2 439.4 L260.4 438.3 L260.6 450.75 L260.8 450.24 L261 454.1 L261.2 448.23 L261.4 437.14 L261.6 454.97 L261.8 452.24 L262 450.51 L262.2 439.05 L262.4 451.88 L262.6 452.91 L262.8 446.17 L263 441.71 L263.2 443.75 L263.4 441.27 L263.6 448.57 L263.8 442.81 L264 441.72 L264.2 450.84 L264.4 441.99 L264.6 440.26 L264.8 450.91 L265 440.41 L265.2 441.28 L265.4 446.89 L265.6 441.52 L265.8 441.83 L266 446.57 L266.2 437.39 L266.4 450.94 L266.6 441.46 L266.8 445.42 L267 443.46 L267.2 448.37 L267.4 446.5 L267.6 437.07 L267.8 450.23 L268 441.16 L268.2 454.22 L268.4 427.93 L268.6 428.95 L268.8 445.9 L269 444.19 L269.2 440.98 L269.4 438.35 L269.6 445.66 L269.8 446.25 L270 427.61 L270.2 441.32 L270.4 454.77 L270.6 455.83 L270.8 451.78 L271 445.38 L271.2 444.17 L271.4 440.24 L271.6 442.81 L271.8 445.6 L272 451.37 L272.2 447.22 L272.4 444.66 L272.6 452.97 L272.8 453.64 L273 453.27 L273.2 450.13 L273.4 453.56 L273.6 450.99 L273.8 451.08 L274 442.73 L274.2 446.63 L274.4 451.47 L274.6 453.68 L274.8 456.95 L275 453.67 L275.2 448.42 L275.4 444.83 L275.6 448.2 L275.8 450.52 L276 449.98 L276.2 441.65 L276.4 449.68 L276.6 440.57 L276.8 438.39 L277 445.47 L277.2 438.01 L277.4 449.28 L277.6 444.64 L277.8 440.85 L278 444.16 L278.2 440.32 L278.4 448.88 L278.6 442.38 L278.8 438.78 L279 433.98 L279.2 438.98 L279.4 440.36 L279.6 441.25 L279.8 445.94 L280 437.8 L280.2 447.54 L280.4 448.39 L280.6 445.82 L280.8 446 L281 440.5 L281.2 454.91 L281.4 447.09 L281.6 442.96 L281.8 444.22 L282 442.06 L282.2 445.62 L282.4 441.13 L282.6 441.54 L282.8 445.21 L283 452.04 L283.2 448.09 L283.4 451.45 L283.6 446.34 L283.8 453.63 L284 446.77 L284.2 447.29 L284.4 428.98 L284.6 437.78 L284.8 458.02 L285 453.94 L285.2 443.91 L285.4 440.76 L285.6 442.83 L285.8 457.21 L286 445.2 L286.2 435.07 L286.4 445.56 L286.6 438.67 L286.8 449.6 L287 441.48 L287.2 445.83 L287.4 427.44 L287.6 439.1 L287.8 445.3 L288 438.46 L288.2 443.34 L288.4 446.3 L288.6 448.99 L288.8 445.15 L289 438.73 L289.2 451.95 L289.4 454.55 L289.6 442.99 L289.8 447.67 L290 438.41 L290.2 442.14 L290.4 438.6 L290.6 442.46 L290.8 449.87 L291 447.28 L291.2 447.21 L291.4 447.49 L291.6 440.6 L291.8 439.46 L292 442.96 L292.2 456.44 L292.4 453.88 L292.6 447.68 L292.8 429.83 L293 445.45 L293.2 442.16 L293.4 442.74 L293.6 446.45 L293.8 446.91 L294 449.49 L294.2 453.25 L294.4 449.74 L294.6 454.73 L294.8 458.75 L295 446.86 L295.2 447.03 L295.4 442.2 L295.6 437.95 L295.8 452.28 L296 445.05 L296.2 441.31 L296.4 445.04 L296.6 447.87 L296.8 456.21 L297 450.06 L297.2 435.56 L297.4 440.95 L297.6 446.95 L297.8 444.55 L298 447.34 L298.2 438.52 L298.4 443.49 L298.6 444.81 L298.8 445.52 L299 449.3 L299.2 448.46 L299.4 445.48 L299.6 451.18 L299.8 440.08 L300 451.04 L300.2 438.21 L300.4 438.78 L300.6 443.61 L300.87 439.67 L301.14 436.42 L301.41 421.28 L301.68 440.2 L301.95 422.27 L302.22 428.29 L302.49 423.08 L302.76 441.34 L303.03 424.67 L303.3 429.15 L303.57 429.95 L303.84 433.44 L304.11 428.36 L304.38 422.59 L304.65 435.35 L304.92 440.88 L305.19 434.54 L305.46 437.26 L305.73 431.58 L306 433.1 L306.27 443.8 L306.54 425.7 L306.81 443.24 L307.08 443.28 L307.35 452.02 L307.62 444.39 L307.89 447.32 L308.16 434.34 L308.43 432.32 L308.7 431.21 L308.97 427.41 L309.24 430.56 L309.51 415.22 L309.78 445.1 L310.05 427.55 L310.32 429.08 L310.59 436.83 L310.86 427.46 L311.13 439.21 L311.4 433.45 L311.67 438.05 L311.94 442.95 L312.21 425.22 L312.48 417.44 L312.75 422.44 L313.02 440.05 L313.29 438.4 L313.56 432.4 L313.83 437.69 L314.1 446.26 L314.37 419.73 L314.64 441.63 L314.91 449.33 L315.18 431.7 L315.45 431.8 L315.72 425.74 L315.99 433.42 L316.26 426.69 L316.53 421.67 L316.8 432.67 L317.07 430.71 L317.34 424.82 L317.61 418.23 L317.88 440.02 L318.15 418.91 L318.42 431.85 L318.69 432.46 L318.96 421.55 L319.23 424.11 L319.5 420.89 L319.77 435.19 L320.04 430.02 L320.31 428.38 L320.58 427.22 L320.85 433.14 L321.12 436.79 L321.39 428.63 L321.66 424.99 L321.93 425.29 L322.2 451.59 L322.47 438.32 L322.74 422.68 L323.01 426.75 L323.28 416.01 L323.55 432.84 L323.82 445.8 L324.09 443.46 L324.36 436.2 L324.63 431.62 L324.9 423.84 L325.17 424.53 L325.44 442.13 L325.71 443.45 L325.98 450.36 L326.25 426.9 L326.52 432.66 L326.79 424.76 L327.06 409.55 L327.33 440.14 L327.6 439.84 L327.87 421.45 L328.14 407.29 L328.41 441.09 L328.68 445.54 L328.95 435.59 L329.22 430.74 L329.49 434.78 L329.76 441.2 L330.03 447.7 L330.3 429.97 L330.57 440.83 L330.84 425.39 L331.11 418.56 L331.38 416.97 L331.65 438.38 L331.92 430.87 L332.19 437.31 L332.46 430.49 L332.73 418.06 L333 436.51 L333.27 415.79 L333.54 408.07 L333.81 432.09 L334.08 440.19 L334.35 432.1 L334.62 439.2 L334.89 420.24 L335.16 431.7 L335.43 441.26 L335.7 429.34 L335.97 419.56 L336.24 431.64 L336.51 435.16 L336.78 419.83 L337.05 427.85 L337.32 443.79 L337.59 448.16 L337.86 418.74 L338.13 450.09 L338.4 432.5 L338.67 435.37 L338.94 438.11 L339.21 436.85 L339.48 429.15 L339.75 446.56 L340.02 421.21 L340.29 432.97 L340.56 422.74 L340.83 427.24 L341.1 434.53 L341.37 440.44 L341.64 415.39 L341.91 432.43 L342.18 426.13 L342.45 422.55 L342.72 449.59 L342.99 446.54 L343.26 426.3 L343.53 437.6 L343.8 429.58 L344.07 424.54 L344.34 432.3 L344.61 426.03 L344.88 434.88 L345.15 438.64 L345.42 433.42 L345.69 438.85 L345.96 442.38 L346.23 432.77 L346.5 417.72 L346.77 435.04 L347.04 422.11 L347.31 430.59 L347.58 429.33 L347.85 423.46 L348.12 428.72 L348.39 430.3 L348.66 426.88 L348.93 424.88 L349.2 435.08 L349.47 418.06 L349.74 442.61 L350.01 423.27 L350.28 433.79 L350.55 424.76 L350.82 424.33 L351.09 423.26 L351.36 404.66 L351.63 436.34 L351.9 434.59 L352.17 427.94 L352.44 424.27 L352.71 424.08 L352.98 414.47 L353.25 449.77 L353.52 426.76 L353.79 430.91 L354.06 427.22 L354.33 434.33 L354.6 433.85 L354.87 441.54 L355.14 447.69 L355.41 441.04 L355.68 425.09 L355.95 433.93 L356.22 430.81 L356.49 432.61 L356.76 429.52 L357.03 441.33 L357.3 421.69 L357.57 427.01 L357.84 427.82 L358.11 440.84 L358.38 429.86 L358.65 434.63 L358.92 432.99 L359.19 432.39 L359.46 425.97 L359.73 430.36 L360 432.76 L360.27 421.85 L360.54 425.62 L360.81 400.42 L361.08 419.6 L361.35 431.82 L361.62 417.8 L361.89 441.16 L362.16 431.59 L362.43 444.95 L362.7 415.94 L362.97 431.16 L363.24 423.45 L363.51 426.52 L363.78 445.94 L364.05 429.09 L364.32 427.31 L364.59 421.73 L364.86 442.5 L365.13 429.66 L365.4 449.69 L365.67 410.29 L365.94 440.67 L366.21 426.91 L366.48 428 L366.75 433.21 L367.02 440.32 L367.29 441.65 L367.56 444.34 L367.83 435.22 L368.1 427.18 L368.37 436.8 L368.64 437.24 L368.91 429.04 L369.18 438.81 L369.45 439.38 L369.72 438 L369.99 424.34 L370.26 426.84 L370.53 446.28 L370.8 425.55 L371.07 435.46 L371.34 436.49 L371.61 424.34 L371.88 440.87 L372.15 417.2 L372.42 427.77 L372.69 421.17 L372.96 427.9 L373.23 439.88 L373.5 439.36 L373.77 412.81 L374.04 436.05 L374.31 429.19 L374.58 426.3 L374.85 425.67 L375.12 436.37 L375.39 419.19 L375.66 426.52 L375.93 433.8 L376.2 440.56 L376.47 436.71 L376.74 446 L377.01 422.52 L377.28 423.44 L377.55 419.91 L377.82 420 L378.09 435.89 L378.36 431.29 L378.63 434.03 L378.9 429.25 L379.17 431.88 L379.44 428.49 L379.71 437.98 L379.98 426.1 L380.25 446.44 L380.52 431.81 L380.79 408.26 L381.06 437.75 L381.33 428.88 L381.6 417.94 L381.87 416.05 L382.14 436.89 L382.41 426.92 L382.68 447.57 L382.95 417.66 L383.22 420 L383.49 418.24 L383.76 439.27 L384.03 438.05 L384.3 419.27 L384.57 441.76 L384.84 425.88 L385.11 410.32 L385.38 432.24 L385.65 421.43 L385.92 435.59 L386.19 428.33 L386.46 425.15 L386.73 444.71 L387 416.88 L387.27 415.94 L387.54 419.63 L387.81 436.71 L388.08 416.87 L388.35 417.37 L388.62 415.52 L388.89 436.08 L389.16 424.34 L389.43 429.8 L389.7 415.34 L389.97 405.67 L390.24 420.3 L390.51 415.47 L390.78 435.56 L391.05 436.88 L391.32 434.7 L391.59 437.38 L391.86 435.25 L392.13 436.63 L392.4 430.08 L392.67 420.37 L392.94 433.66 L393.21 419.08 L393.48 430.72 L393.75 410.03 L394.02 407.94 L394.29 432.26 L394.56 409.9 L394.83 416.38 L395.1 425.41 L395.37 441.22 L395.64 428.19 L395.91 418.06 L396.18 436.52 L396.45 417.41 L396.72 417.66 L396.99 416.31 L397.26 412.31 L397.53 425.26 L397.8 411.03 L398.07 428.59 L398.34 429.69 L398.61 418.04 L398.88 421.31 L399.15 430.75 L399.42 421.99 L399.69 420.51 L399.96 414.5 L400.23 419.05 L400.5 413.56 L400.77 414.66 L401.04 428.6 L401.31 411.8 L401.58 426.29 L401.85 429.87 L402.12 427.68 L402.39 424.61 L402.66 423.57 L402.93 437.94 L403.2 435.42 L403.47 430.19 L403.74 437.45 L404.01 430.42 L404.28 441.32 L404.55 416.41 M410.52 411.48 L410.79 427.75 L411.06 426.17 L411.33 406.76 L411.6 422.27 L411.87 428.88 L412.14 423.07 L412.41 428.92 L412.68 417.76 L412.95 429.97 L413.22 427.24 L413.49 436.37 L413.76 415.89 L414.03 430.62 L414.3 419.25 L414.57 437.85 L414.84 423.26 L415.11 427.87 L415.38 425.59 L415.65 425.9 L415.92 423.21 L416.19 431.86 L416.46 432.94 L416.73 434.38 L417 434.74 L417.27 432.64 L417.54 433.23 L417.81 432.78 L418.08 425.03 L418.35 419.45 L418.62 420.27 L418.89 421.45 L419.16 433.58 L419.43 431.28 L419.7 428.11 L419.97 417.12 L420.24 419.15 L420.51 419.34 L420.78 417.13 L421.05 428.88 L421.32 428.31 L421.59 424.22 L421.86 430.36 L422.13 412.99 L422.4 424.48 L422.67 417.81 L422.94 424.07 L423.21 421.62 L423.48 433.85 L423.75 430.64 L424.02 426.61 L424.29 427.28 L424.56 418.47 L424.83 425.49 L425.1 418.21 L425.37 427.12 L425.64 418.68 L425.91 413.84 L426.18 415.21 L426.45 433.23 L426.72 424.04 L426.99 424.59 L427.26 433.24 L427.53 416.91 L427.8 433.47 L428.07 428.98 L428.34 425.74 L428.61 422.89 L428.88 413.76 L429.15 429.38 L429.42 418.83 L429.69 409.76 L429.96 412.45 L430.23 429.65 L430.5 426.76 L430.77 430.55 L431.04 420.25 L431.31 428.66 L431.58 429.98 L431.85 421.61 L432.12 433.72 L432.39 421.08 L432.66 433.15 L432.93 420.77 L433.2 418 L433.47 430.16 L433.74 417.89 L434.01 431.26 L434.28 438.45 L434.55 438.71 L434.82 435.21 L435.09 424.84 L435.36 420.4 L435.63 428.75 L435.9 432.72 L436.17 424.43 L436.44 442.36 L436.71 432.78 L436.98 436.17 L437.25 432.43 L437.52 435.52 L437.79 438.67 L438.06 427.07 L438.33 428.58 L438.6 430.31 L438.87 428.66 L439.14 431.69 L439.41 434.08 L439.68 419.4 L439.95 420.19 L440.22 433.43 L440.49 420.48 L440.76 425.4 L441.03 422.1 L441.3 416.2 L441.57 416.4 L441.84 416.05 L442.11 412.3 L442.38 429.55 L442.65 425.73 L442.92 424.96 L443.19 429.51 L443.46 428.56 L443.73 428.64 L444 419.89 L444.27 417.62 L444.54 428.35 L444.81 423.83 L445.08 422.57 L445.35 422.21 L445.62 417.24 L445.89 433.11 L446.16 434.96 L446.43 440.02 L446.7 435.46 L446.97 425.54 L447.24 437.09 L447.51 438 L447.78 421.51 L448.05 430.49 L448.32 435.79 L448.59 431.5 L448.86 430.53 L449.13 439.11 L449.4 430.2 L449.67 412.06 L449.94 433.35 L450.21 425.84 L450.48 434.69 L450.75 430.93 L451.02 434.35 L451.29 428.93 L451.56 443.28 L451.83 435.12 L452.1 430.08 L452.37 432.98 L452.64 427.52 L452.91 425.99 L453.18 430.06 L453.45 431.19 L453.72 438.03 L453.99 436 L454.26 434.31 L454.53 430.23 L454.8 425.86 L455.07 433.65 L455.34 423.59 L455.61 427.1 L455.88 441.03 L456.15 434.5 L456.42 428.36 L456.69 442.78 L456.96 428.17 L457.23 431.1 L457.5 442.34 L457.77 431.72 L458.04 438.6 L458.31 425.56 L458.58 443.82 L458.85 436.35 L459.12 433.42 L459.39 421.74 L459.66 432.98 L459.93 450.18 L460.2 434.66 L460.47 440.08 L460.74 436.79 L461.01 437.04 L461.28 442.09 L461.55 452.24 L461.82 447.14 L462.09 447.93 L462.36 454.24 L462.63 439.61 L462.9 444.37 L463.17 439.37 L463.44 439.18 L463.71 440.92 L463.98 437.63 L464.25 443.67 L464.52 445.24 L464.79 436.35 L465.06 443.47 L465.26 449.62 L465.46 443.95 L465.66 456.19 L465.86 449.63 L466.06 441.23 L466.26 447.92 L466.46 439.55 L466.66 451.68 L466.86 456.34 L467.06 454.17 L467.26 441.71 L467.46 444.55 L467.66 450.02 L467.86 434.19 L468.06 456.63 L468.26 427.62 L468.46 438.34 L468.66 443.47 L468.86 445.33 L469.06 453.64 L469.26 449.2 L469.46 451.37 L469.66 444.78 L469.86 434.93 L470.06 443.78 L470.26 449.02 L470.46 447.73 L470.66 445.14 L470.86 444.69 L471.06 442.6 L471.26 440.63 L471.46 446.86 L471.66 450.04 L471.86 442.61 L472.06 446.34 L472.26 448.01 L472.46 456.1 L472.66 449.08 L472.86 431.82 L473.06 444.71 L473.26 439.25 L473.46 455.62 L473.66 453.89 L473.86 440.18 L474.06 445.99 L474.26 452.55 L474.46 448.99 L474.66 451.35 L474.86 452.42 L475.06 441.91 L475.26 453.39 L475.46 444 L475.66 442.81 L475.86 442.04 L476.06 444.31 L476.26 452.66 L476.46 447.93 L476.66 437.48 L476.86 452.3 L477.06 438.41 L477.26 448.41 L477.46 443.21 L477.66 444.05 L477.86 442.95 L478.06 448.99 L478.26 440.4 L478.46 450.17 L478.66 437.65 L478.86 438.18 L479.06 447.63 L479.26 450.7 L479.46 455.46 L479.66 449.6 L479.86 444.16 L480.06 456.94 L480.26 450.65 L480.46 447.45 L480.66 443.17 L480.86 445.86 L481.06 454.23 L481.26 451.31 L481.46 442.49 L481.66 445.04 L481.86 445.48 L482.06 434.54 L482.26 448.38 L482.46 443.5 L482.66 452.77 L482.86 447.33 L483.06 447.76 L483.26 445.33 L483.46 440.76 L483.66 446.14 L483.86 442.39 L484.06 453.42 L484.26 438.23 L484.46 448.3 L484.66 441.2 L484.86 441.89 L485.06 445.4 L485.26 441.6 L485.46 444.48 L485.66 442.06 L485.86 446.87 L486.06 449.42 L486.26 448.37 L486.46 454.2 L486.66 451.82 L486.86 443.35 L487.06 442.95 L487.26 443.59 L487.46 451.95 L487.66 437.98 L487.86 446.57 L488.06 454.41 L488.26 442.31 L488.46 447.28 L488.66 451.11 L488.86 445.42 L489.06 445.56 L489.26 451.91 L489.46 437.02 L489.66 442.18 L489.86 449.96 L490.06 439.55 L490.26 455.38 L490.46 434.03 L490.66 445.19 L490.86 448.49 L491.06 435.91 L491.26 442.93 L491.46 444.7 L491.66 446.04 L491.86 433.32 L492.06 447.71 L492.26 433.23 L492.46 440.2 L492.66 443.16 L492.86 441.03 L493.06 440.12 L493.26 449.12 L493.46 444.23 L493.66 449.79 L493.86 444.55 L494.06 445.44 L494.26 451.76 L494.46 443.58 L494.66 443.7 L494.86 446.89 L495.06 444.26 L495.26 439.5 L495.46 452.21 L495.66 442.66 L495.86 452.5 L496.06 444.24 L496.26 454.57 L496.46 450.51 L496.66 447.24 L496.86 439.84 L497.06 443.82 L497.26 432.42 L497.46 447.42 L497.66 441.63 L497.86 445.27 L498.06 443.56 L498.26 451.3 L498.46 444.12 L498.66 453.29 L498.86 453.9 L499.06 444.15 L499.26 440.9 L499.46 438.83 L499.66 447.95 L499.86 438.75 L500.06 441.35 L500.26 455.72 L500.46 449.65 L500.66 448.31 L500.86 450.99 L501.06 446.71 L501.26 442.82 L501.46 453.25 L501.66 440.86 L501.86 443.68 L502.06 448.34 L502.26 447.02 L502.46 455.49 L502.66 443.52 L502.86 450.81 L503.06 441.61 L503.26 443 L503.46 448.23 L503.66 450.74 L503.86 442.91 L504.06 444.92 L504.26 446.49 L504.46 440.79 L504.66 433.43 L504.86 443.65 L505.06 447.42 L505.26 434.81 L505.46 449.6 L505.66 439.32 L505.86 431 L506.06 445.51 L506.26 443.15 L506.46 438.73 L506.66 448.68 L506.86 452.15 L507.06 443.23 L507.26 446.42 L507.46 442.26 L507.66 451.3 L507.86 446.38 L508.06 441.68 L508.26 444.35 L508.46 449.57 L508.66 447.13 L508.86 443.68 L509.06 445.44 L509.26 441.49 L509.46 445.87 L509.66 440.85 L509.86 450.75 L510.06 442.96 L510.26 443.62 L510.46 441.79 L510.66 448.25 L510.86 456.4 L511.06 440.67 L511.26 456.36 L511.46 448.7 L511.66 443.58 L511.86 441.5 L512.06 438.32 L512.26 444.17 L512.46 454.36 L512.66 450.15 L512.86 436.44 L513.06 449.55 L513.26 451.68 L513.46 446.07 L513.66 440.46 L513.86 447.49 L514.06 448.39 L514.26 442.66 L514.46 440.76 L514.66 458.5 L514.86 450.76 L515.06 458.65 L515.26 442.69 L515.46 443 L515.66 444.51 L515.86 443.03 L516.06 450.15 L516.26 447.12 L516.46 452.61 L516.66 445.11 L516.86 437.32 L517.06 441.49 L517.26 442.4 L517.46 445.03 L517.66 445.33 L517.86 444.65 L518.06 446.17 L518.26 443.41 L518.46 453.53 L518.66 447.9 L518.86 448.41 L519.06 451.23 L519.26 441.4 L519.46 438.42 L519.66 451.91 L519.86 439.7 L520.06 440.24 L520.26 436.83 L520.46 453.16 L520.66 452.87 L520.86 441.1 L521.06 447.7 L521.26 445.9 L521.46 433.56 L521.66 440.74 L521.86 448.22 L522.06 440.75 L522.26 440.26 L522.46 452.64 L522.66 440.36 L522.86 448.05 L523.06 449.99 L523.26 444.47 L523.46 438.83 L523.66 448.11 L523.86 448.27 L524.06 446.16 L524.26 449.73 L524.46 439.14 L524.66 439.44 L524.86 450.48 L525.06 435.89 L525.26 443.34 L525.46 446.02 L525.66 447.86 L525.86 435.86 L526.06 451.75 L526.26 450.45 L526.46 454.01 L526.66 456.32 L526.86 451.49 L527.06 447.01 L527.26 451.87 L527.46 448.75 L527.66 442.82 L527.86 442.51 L528.06 451.16 L528.26 443.67 L528.46 439.31 L528.66 444.04 L528.86 448.71 L529.06 437.16 L529.26 443.44 L529.46 449.62 L529.66 446.14 L529.86 445.24 L530.06 451.63 L530.26 453.07 L530.46 447.89 L530.66 453.14 L530.86 442.51 L531.06 450.59 L531.26 445.71 L531.46 439.5 L531.66 450.37 L531.86 441.76 L532.06 450.05 L532.26 450.42 L532.46 448.6 L532.66 450.03 L532.86 450.6 L533.06 438.91 L533.26 449.57 L533.46 448.37 L533.66 445.51 L533.86 441.82 L534.06 439.94 L534.26 443.96 L534.46 443.83 L534.66 453.48 L534.86 443.45 L535.06 445.78 L535.26 443.27 L535.46 429.97 L535.66 443.35 L535.86 453.15 L536.06 439.78 L536.26 444.7 L536.46 448.31 L536.66 441.57 L536.86 442.58 L537.06 428.56 L537.26 452.61 L537.46 442.15 L537.66 446.83 L537.86 452.79 L538.06 438.93 L538.26 437.95 L538.46 437.45 L538.66 440.68 L538.86 442.04 L539.06 439.99 L539.26 442.35 L539.46 444.05 L539.66 439.75 L539.86 447.57 L540.06 439.58 L540.26 433.85 L540.46 445.34 L540.66 442.13 L540.86 451.3 L541.06 445.28 L541.26 438.75 L541.46 436.89 L541.66 441.43 L541.86 437.4 L542.06 439.94 L542.26 451.71 L542.46 444.43 L542.66 441.4 L542.86 426.79 L543.06 447.23 L543.26 436.11 L543.46 448.92 L543.66 435.75 L543.86 449.26 L544.06 441.57 L544.26 449.89 L544.46 444.56 L544.66 442.53 L544.86 441.69 L545.06 449.05 L545.26 439.34 L545.46 444.91 L545.66 441.69 L545.86 446.36 L546.06 441.49 L546.26 447.2 L546.46 448.03 L546.66 450.56 L546.86 442.79 L547.06 436.91 L547.26 433.45 L547.46 443.42 L547.66 441.81 L547.86 437.63 L548.06 449.53 L548.26 453.37 L548.46 447.41 L548.66 451.47 L548.86 436.9 L549.06 446.08 L549.26 441.35 L549.53 440.99 L549.8 448.63 L550.07 441.93 L550.34 433.42 L550.61 427.76 L550.88 431.32 L551.15 407.01 L551.42 411.17 L551.69 425.61 L551.96 439.16 L552.23 438.75 L552.5 414.15 L552.77 429.05 L553.04 438.55 L553.31 420.36 L553.58 418.65 L553.85 429.29 L554.12 428.21 L554.39 436.3 L554.66 435.24 L554.93 448.35 L555.2 440.16 L555.47 440.41 L555.74 430.87 L556.01 444.88 L556.28 446.92 L556.55 440.92 L556.82 432.7 L557.09 440.58 L557.36 434.09 L557.63 435.95 L557.9 449.38 L558.17 445.87 L558.44 445.07 L558.71 428.51 L558.98 441.07 L559.25 436.65 L559.52 428.45 L559.79 431.57 L560.06 428.21 L560.33 451.52 L560.6 428.08 L560.87 438.44 L561.14 430.04 L561.41 429.82 L561.68 423.2 L561.95 420.11 L562.22 425.98 L562.49 426.24 L562.76 427.2 L563.03 434.99 L563.3 431.65 L563.57 428.97 L563.84 437.44 L564.11 436.84 L564.38 436.4 L564.65 428.82 L564.92 429.27 L565.19 436.59 L565.46 430.15 L565.73 433.27 L566 417.57 L566.27 431.31 L566.54 434.31 L566.81 429.12 L567.08 424.68 L567.35 426.87 L567.62 440.24 L567.89 436.25 L568.16 445.58 L568.43 431.26 L568.7 438.39 L568.97 421.78 L569.24 434.14 L569.51 429.41 L569.78 408.61 L570.05 433.13 L570.32 442.82 L570.59 445.95 L570.86 429.47 L571.13 436.09 L571.4 434.86 L571.67 435.87 L571.94 430.53 L572.21 446.36 L572.48 435.83 L572.75 438 L573.02 425.29 L573.29 420.37 L573.56 438.48 L573.83 425.88 L574.1 450.33 L574.37 417.83 L574.64 422.02 L574.91 429.56 L575.18 437 L575.45 429.42 L575.72 421.88 L575.99 412.88 L576.26 428.22 L576.53 424.83 L576.8 425.41 L577.07 430.85 L577.34 441.54 L577.61 437.07 L577.88 446.8 L578.15 439.4 L578.42 439.8 L578.69 429.79 L578.96 427.42 L579.23 441.74 L579.5 428.51 L579.77 441.28 L580.04 440.29 L580.31 442.55 L580.58 425.65 L580.85 425.77 L581.12 443.36 L581.39 434.47 L581.66 439.75 L581.93 424.53 L582.2 443.72 L582.47 445.05 L582.74 430.94 L583.01 423.11 L583.28 429.48 L583.55 425.88 L583.82 426.26 L584.09 431.91 L584.36 425.96 L584.63 443.97 L584.9 430.58 L585.17 443.18 L585.44 423.99 L585.71 415.52 L585.98 421.14 L586.25 417.14 L586.52 435.47 L586.79 431.72 L587.06 435.82 L587.33 429.83 L587.6 430.65 L587.87 435.9 L588.14 415.71 L588.41 422.76 L588.68 429.01 L588.95 433.51 L589.22 436.17 L589.49 432.63 L589.76 429.58 L590.03 430.07 L590.3 429.3 L590.57 436.66 L590.84 431.1 L591.11 441.27 L591.38 431.28 L591.65 441.66 L591.92 421.69 L592.19 409.46 L592.46 433.17 L592.73 431.65 L593 435.92 L593.27 427.6 L593.54 436.57 L593.81 440.21 L594.08 447.56 L594.35 428.38 L594.62 442.16 L594.89 426 L595.16 448.08 L595.43 449.29 L595.7 432.98 L595.97 434.52 L596.24 436.32 L596.51 432.55 L596.78 434.6 L597.05 432.56 L597.32 432.27 L597.59 445.36 L597.86 442.61 L598.13 434.22 L598.4 424.67 L598.67 437.38 L598.94 441.13 L599.21 431.47 L599.48 442.45 L599.75 411.14 L600.02 439.2 L600.29 433.1 L600.56 440.75 L600.83 432.48 L601.1 428.5 L601.37 438.04 L601.64 434.53 L601.91 437.61 L602.18 432.06 L602.45 434.05 L602.72 422.07 L602.99 426.47 L603.26 423.02 L603.53 440.33 L603.8 430.39 L604.07 419.58 L604.34 430.32 L604.61 440.73 L604.88 443.48 L605.15 429.01 L605.42 436.3 L605.69 435.33 L605.96 439.44 L606.23 437.23 L606.5 434.13 L606.77 443.82 L607.04 448.42 L607.31 447.84 L607.58 437.19 L607.85 454.26 L608.12 453.55 L608.39 440.92 L608.66 440.83 L608.93 449.19 L609.2 443.31 L609.47 434.25 L609.74 438.14 L610.01 445.82 L610.28 447.76 L610.55 432.22 L610.82 444.54 L611.09 452.59 L611.36 432.82 L611.63 430.6 L611.9 444.41 L612.17 438.7 L612.44 441.84 L612.71 435.07 L612.98 441.2 L613.25 434.32 L613.52 443.34 L613.79 442.67 L614.06 441.67 L614.33 433.93 L614.6 441.22 L614.87 441.6 L615.14 439.2 L615.41 442.63 L615.68 434.44 L615.95 438.19 L616.22 439.23 L616.49 436.3 L616.76 417.77 L617.03 440.01 L617.3 435.45 L617.57 444.91 L617.84 440.84 L618.11 443.21 L618.38 441.03 L618.65 432.9 L618.92 442.03 L619.19 427.83 L619.46 446.9 L619.73 445.82 L620 437.87 L620.27 436.32 L620.54 433.44 L620.81 437.42 L621.08 436.22 L621.35 442.71 L621.62 452.5 L621.89 444.46 L622.16 438.41 L622.43 437.42 L622.7 442.61 L622.97 424.74 L623.24 441.41 L623.51 423.25 L623.78 450.49 L624.05 444.73 L624.32 435.68 L624.59 435.77 L624.86 436.84 L625.13 436.5 L625.4 421.79 L625.67 435.88 L625.94 443.38 L626.21 434.38 L626.48 448.33 L626.75 439.26 L627.02 448.58 L627.29 442.89 L627.56 447.27 L627.83 444.16 L628.1 436.13 L628.37 438.01 L628.64 449.14 L628.91 436.23 L629.18 440.28 L629.45 428.97 L629.72 442.77 L629.99 441.26 L630.26 434.06 L630.53 433.13 L630.8 438.88 L631.07 433.88 L631.34 435.52 L631.61 444.67 L631.88 447.36 L632.15 431.04 L632.42 434.41 L632.69 438.9 L632.96 433.7 L633.23 430.32 L633.5 429.13 L633.77 438.13 L634.04 444.24 L634.31 436.37 L634.58 434.3 L634.85 432.97 L635.12 446.1 L635.39 428.07 L635.66 431.76 L635.93 431.42 L636.2 440.12 L636.47 432.97 L636.74 433.71 L637.01 438.15 L637.28 438.67 L637.55 429.64 L637.82 438.5 L638.09 447.35 L638.36 437.76 L638.63 452.43 L638.9 449.26 L639.17 444.3 L639.44 445.13 L639.71 449.93 L639.98 438.49 L640.25 431.28 L640.52 442.95 L640.79 437.51 L641.06 439.09 L641.33 435.39 L641.6 441.56 L641.87 446.84 L642.14 435.97 L642.41 440.57 L642.68 427.78 L642.95 435.87 L643.22 445.29 L643.49 438.39 L643.76 450.16 L644.03 434.4 L644.3 443.3 L644.57 441.46 L644.84 443.69 L645.11 442.86 L645.38 445.39 L645.65 448.96 L645.92 443.93 L646.19 429.26 L646.46 432.53 L646.73 438.95 L647 433.81 L647.27 447.63 L647.54 445.96 L647.81 444.18 L648.08 435.68 L648.35 438.52 L648.62 437.07 L648.89 435.39 L649.16 444.54 L649.43 443.57 L649.7 436.94 L649.97 435.84 L650.24 436.89 L650.51 447.09 L650.78 445.44 L651.05 442.1 L651.32 436.14 L651.59 445.25 L651.86 438.7 L652.13 435.12 L652.4 438.23 L652.67 437.73 L652.94 438.4 L653.21 438.93 L653.48 447.33 L653.75 448.67 L654.02 442.71 L654.29 440.66 L654.56 436.66 L654.83 444.18 L655.1 436.53 L655.37 442.78 L655.64 445.41 L655.91 446.36 L656.18 444.05 L656.45 437.51 L656.72 441.41 L656.99 435.79 L657.26 440.64 L657.53 448.47 L657.8 441.72 L658.07 446.98 L658.34 438.45 L658.61 441.96 L658.88 438.85 L659.15 431.65 L659.42 440.78 L659.69 429.24 L659.96 437.12 L660.23 441.17 L660.5 446.14 L660.77 440.38 L661.04 441.11 L661.31 430.94 L661.58 444.84 L661.85 442.49 L662.12 435.54 L662.39 438.46 L662.66 436.85 L662.93 433.22 L663.2 447.31 L663.47 437.27 L663.74 443.95 L664.01 439.08 L664.28 445.98 L664.55 436.57 L664.82 436.98 L665.09 447.4 L665.36 434.28 L665.63 446.13 L665.9 435.68 L666.17 438 L666.44 441.65 L666.71 442.06 L666.98 450.36 L667.25 450.11 L667.52 447.85 L667.79 436.88 L668.06 437.99 L668.33 441.43 L668.6 441.34 L668.87 445.23 L669.14 436.73 L669.41 438.03 L669.68 437.78 L669.95 443.55 L670.22 436.1 L670.49 432.08 L670.76 442.52 L671.03 440.82 L671.3 437.99 L671.57 443.24 L671.84 440.24 L672.11 433.12 L672.38 439.13 L672.65 439.13 L672.92 446.65 L673.19 442.8 L673.46 437.26 L673.73 435.38 L674 438.73 L674.27 449.33 L674.54 444.22 L674.81 436.89 L675.08 436.24 L675.35 439.94 L675.62 432.34 L675.89 440.14 L676.16 441.23 L676.43 442.21 L676.7 445.39 L676.97 449.13 L677.24 444.86 L677.51 452.01 L677.78 448.97 L678.05 437.08 L678.32 441.74 L678.59 442.95 L678.86 441.78 L679.13 450.37 L679.4 446.48 L679.67 447.3 L679.94 445.74 L680.21 451.85 L680.48 440.5 L680.75 450.38 L680.95 437.09 L681.15 436.81 L681.35 440.36 L681.55 438.11 L681.75 442.36 L681.95 447.07 L682.15 446.58 L682.35 442.89 L682.55 442.42 L682.75 441.34 L682.95 437.84 L683.15 447.52 L683.35 438.45 L683.55 441.28 L683.75 428.25 L683.95 441.27 L684.15 441.02 L684.35 440.75 L684.55 438.49 L684.75 445.78 L684.95 438.41 L685.15 439.29 L685.35 444.05 L685.55 434.68 L685.75 438.34 L685.95 440.29 L686.15 440.29 L686.35 443.21 L686.55 442.59 L686.75 449.09 L686.95 443.43 L687.15 448.03 L687.35 444.44 L687.55 434 L687.75 448.14 L687.95 440.69 L688.15 448.17 L688.35 447.94 L688.55 448.52 L688.75 452.74 L688.95 446.13 L689.15 446.86 L689.35 445.21 L689.55 443.51 L689.75 446.35 L689.95 445.25 L690.15 446.14 L690.35 440.69 L690.55 451.48 L690.75 440.53 L690.95 449.83 L691.15 441.09 L691.35 452.14 L691.55 447.62 L691.75 444.95 L691.95 441.14 L692.15 442.92 L692.35 439.41 L692.55 449.85 L692.75 446.72 L692.95 442.67 L693.15 439.97 L693.35 443.66 L693.55 439.15 L693.75 450.18 L693.95 445.72 L694.15 439.88 L694.35 445.34 L694.55 445.52 L694.75 446.67 L694.95 441.09 L695.15 439.44 L695.35 447.38 L695.55 436.97 L695.75 444.21 L695.95 444.77 L696.15 443.57 L696.35 435.31 L696.55 439.99 L696.75 436.43 L696.95 440.21 L697.15 445.93 L697.35 444.78 L697.55 443.97 L697.75 438.59 L697.95 437.88 L698.15 439.68 L698.35 443.33 L698.55 447.25 L698.75 449.41 L698.95 443.4 L699.15 446.37 L699.35 447.73 L699.55 443.85 L699.75 439.72 L699.95 446.33 L700.15 444.18 L700.35 447.17 L700.55 444.92 L700.75 442.93 L700.95 439.04 L701.15 445.81 L701.35 442.48 L701.55 439.98 L701.75 442.7 L701.95 446.41 L702.15 449.07 L702.35 435.16 L702.55 445.27 L702.75 449.59 L702.95 446.51 L703.15 431.69 L703.35 450.46 L703.55 443.14 L703.75 439.82 L703.95 445.29 L704.15 444.42 L704.35 442.44 L704.55 444.82 L704.75 443.42 L704.95 440.26 L705.15 443.99 L705.35 448.41 L705.55 431.26 L705.75 441.55 L705.95 448.43 L706.15 444.29 L706.35 440.24 L706.55 439.2 L706.75 439.6 L706.95 431.24 L707.15 435.92 L707.35 441.27 L707.55 441.86 L707.75 450.15 L707.95 446.35 L708.15 440.11 L708.35 440.3 L708.55 441.49 L708.75 442.64 L708.95 435.24 L709.15 437.52 L709.35 449.94 L709.55 449.74 L709.75 442.78 L709.95 446.14 L710.15 427.1 L710.35 443.76 L710.55 444.56 L710.75 439.18 L710.95 434.85 L711.15 447.74 L711.35 436.46 L711.55 441.09 L711.75 430.47 L711.95 438.1 L712.15 440.56 L712.35 442.86 L712.55 443.16 L712.75 437.69 L712.95 436.75 L713.15 443.5 L713.35 444.29 L713.55 442.18 L713.75 441.74 L713.95 442.02 L714.15 435.05 L714.35 443.98 L714.55 442.56 L714.75 440.36 L714.95 440.08 L715.15 444.62 L715.35 443.79 L715.55 440.84 L715.75 435.01 L715.95 446.12 L716.15 440.66 L716.35 450.56 L716.55 441.27 L716.75 439.78 L716.95 441.04 L717.15 444.56 L717.35 448.65 L717.55 446.28 L717.75 444.12 L717.95 446.4 L718.15 443.64 L718.35 440.17 L718.55 448.3 L718.75 444.12 L718.95 438.03 L719.15 444.27 L719.35 439.66 L719.55 448.43 L719.75 442.03 L719.95 444.85 L720.15 438.58 L720.35 440.13 L720.55 439.21 L720.75 444.35 L720.95 446.05 L721.15 444.24 L721.35 444.97 L721.55 445.15 L721.75 447.6 L721.95 446.06 L722.15 446.32 L722.35 438.16 L722.55 446.38 L722.75 446.55 L722.95 440.01 L723.15 433.84 L723.35 446.6 L723.55 442.85 L723.75 427.52 L723.95 442.8 L724.15 448.66 L724.35 438.78 L724.55 439.69 L724.75 447.32 L724.95 435.17 L725.15 446.57 L725.35 443.73 L725.55 438.94 L725.75 437.22 L725.95 444.3 L726.15 440.53 L726.35 440.88 L726.55 434.84 L726.75 445.93 L726.95 440.96 L727.15 444.23 L727.35 446.82 L727.55 440.54 L727.75 445.34 L727.95 444.38 L728.15 444.95 L728.35 443.34 L728.55 440.7 L728.75 447.41 L728.95 439.18 L729.15 439.79 L729.35 438.35 L729.55 437.97 L729.75 446.39 L729.95 439.77 L730.15 440.03 L730.35 446.82 L730.55 438.72 L730.75 438.31 L730.95 438.63 L731.15 445.23 L731.35 441.32 L731.55 447.49 L731.75 438.51 L731.95 443.72 L732.15 437.98 L732.35 438.16 L732.55 440.15 L732.75 441.5 L732.95 443.83 L733.15 437.8 L733.35 445.14 L733.55 447.55 L733.75 445.88 L733.95 438.76 L734.15 438.22 L734.35 446.56 L734.55 436.25 L734.75 438.96 L734.95 450.83 L735.15 448.95 L735.35 444.39 L735.55 437.86 L735.75 430.31 L735.95 445.7 L736.15 430.91 L736.35 447.04 L736.55 439.19 L736.75 441.55 L736.95 446.24 L737.15 447.95 L737.35 440.76 L737.55 443.6 L737.75 440.6 L737.95 448.85 L738.15 439.55 L738.35 441.69 L738.55 444.74 L738.75 440.95 L738.95 439.4 L739.15 444.82 L739.35 445.54 L739.55 448.47 L739.75 441.06 L739.95 440.4 L740.15 441.2 L740.35 447.47 L740.55 443.69 L740.75 445.28 L740.95 444.31 L741.15 445.25 L741.35 445.12 L741.55 445.35 L741.75 447.28 L741.95 442.54 L742.15 446.67 L742.35 445.88 L742.55 443.47 L742.75 436.53 L742.95 437.24 L743.15 438.4 L743.35 436.65 L743.55 443.63 L743.75 438.43 L743.95 443.26 L744.15 448.49 L744.35 440.76 L744.55 436.75 L744.75 436.84 L744.95 446.16 L745.15 443.96 L745.35 442.49 L745.55 439.57 L745.75 441.32 L745.95 438.75 L746.15 441.85 L746.35 446.43 L746.55 448.67 L746.75 438.82 L746.95 447.67 L747.15 444.66 L747.35 440.31 L747.55 442.18 L747.75 440.96 L747.95 447.4 L748.15 443.03 L748.35 444.06 L748.55 443.69 L748.75 448.99 L748.95 450.01 L749.15 445.97 L749.35 448.99 L749.55 438.85 L749.75 448.34 L749.95 441.26 L750.15 441.92 L750.35 440.98 L750.55 443.71 L750.75 440.29 L750.95 440.64 L751.15 446.27 L751.35 449.18 L751.55 450.44 L751.75 441.49 L751.95 440.78 L752.15 440.19 L752.35 441.42 L752.55 441.35 L752.75 432.72 L753.02 435.77 L753.29 429.68 L753.56 424.46 L753.83 445.34 L754.1 428.56 L754.37 446.26 L754.64 422.15 L754.91 439.82 L755.18 433.76 L755.45 405.59 L755.72 433.89 L755.99 448.98 L756.26 424.41 L756.53 425.56 L756.8 431.95 L757.07 436.86 L757.34 445.39 L757.61 438.9 L757.88 431.67 L758.15 409.76 L758.42 427.44 L758.69 424.67 L758.96 443.15 L759.23 441.48 L759.5 435.86 L759.77 438.24 L760.04 453.16 L760.31 447.29 L760.58 434.62 L760.85 431.05 L761.12 429.62 L761.39 447.65 L761.66 438.72 L761.93 429.17 L762.2 444.94 L762.47 433.98 L762.74 441.59 L763.01 430.81 L763.28 444.37 L763.55 437.14 L763.82 432.23 L764.09 436.39 L764.36 439.71 L764.63 425.77 L764.9 439.25 L765.17 442.46 L765.44 447.34 L765.71 439.87 L765.98 435.41 L766.25 432.36 L766.52 439.81 L766.79 426.36 L767.06 425.98 L767.33 438.29 L767.6 435.42 L767.87 433.59 L768.14 435.18 L768.41 449.79 L768.68 440.32 L768.95 448.11 L769.22 445.29 L769.49 437.42 L769.76 435.58 L770.03 431.12 L770.3 448.76 L770.57 456.33 L770.84 439.82 L771.11 441.32 L771.38 440.99 L771.65 442.47 L771.92 416.28 L772.19 429.34 L772.46 436.86 L772.73 428.81 L773 433.06 L773.27 430.86 L773.54 441.51 L773.81 432.92 L774.08 434.6 L774.35 444.58 L774.62 442.27 L774.89 434.86 L775.16 433.81 L775.43 433.44 L775.7 435.17 L775.97 432.51 L776.24 444.66 L776.51 438.56 L776.78 445.35 L777.05 427.96 L777.32 428.22 L777.59 433.19 L777.86 432.81 L778.13 450.61 L778.4 443.09 L778.67 442.95 L778.94 427.43 L779.21 439.92 L779.48 431.58 L779.75 431.02 L780.02 435.35 L780.29 443.2 L780.56 429.09 L780.83 444.25 L781.1 439.18 L781.37 442.03 L781.64 435.27 L781.91 453.41 L782.18 436.28 L782.45 439.01 L782.72 440.28 L782.99 433.62 L783.26 443.3 L783.53 437.33 L783.8 438.73 L784.07 442.6 L784.34 455.7 L784.61 433.95 L784.88 428.54 L785.15 429.76 L785.42 433.42 L785.69 447.48 L785.96 450.06 L786.23 444.16 L786.5 421.99 L786.77 446.13 L787.04 436.58 L787.31 443.46 L787.58 446.06 L787.85 446.13 L788.12 443.11 L788.39 454.49 L788.66 439.45 L788.93 438.6 L789.2 442.58 L789.47 438.77 L789.74 433.54 L790.01 436.18 L790.28 442.43 L790.55 440.58 L790.82 445.1 L791.09 442.89 L791.36 442.15 L791.63 445.19 L791.9 432.81 L792.17 444.14 L792.44 433.2 L792.71 429.28 L792.98 443 L793.25 441.3 L793.52 432.63 L793.79 430.37 L794.06 434.75 L794.33 429.71 L794.6 433.01 L794.87 442 L795.14 435.31 L795.41 448.92 L795.68 434.2 L795.95 439.81 L796.22 452 L796.49 439.14 L796.76 430.09 L797.03 455.39 L797.3 432.38 L797.57 445.25 L797.84 436.92 L798.11 451.41 L798.38 451.1 L798.65 451.23 L798.92 441.06 L799.19 446.01 L799.46 454.65 L799.73 449.73 L800 438.39 L800.27 440.41 L800.47 446.95 L800.67 428.28 L800.87 444.52 L801.07 433.88 L801.27 439.14 L801.47 455.61 L801.67 438.82 L801.87 443.68 L802.07 440.31 L802.27 437.43 L802.47 441.18 L802.67 441.57 L802.87 433.07 L803.07 440.21 L803.27 433.56 L803.47 436.1 L803.67 442.91 L803.87 431.12 L804.07 446.11 L804.27 433.65 L804.47 439.34 L804.67 448.74 L804.87 439.56 L805.07 438.24 L805.27 430.35 L805.47 431.22 L805.67 431.61 L805.87 441.94 L806.07 434.13 L806.27 434.3 L806.47 441.33 L806.67 428.25 L806.87 432.28 L807.07 432.41 L807.27 449.04 L807.47 427.51 L807.67 426.32 L807.87 444.5 L808.07 433.48 L808.27 439.54 L808.47 448.09 L808.67 429.84 L808.87 435.79 L809.07 439.61 L809.27 434.58 L809.47 436.08 L809.67 444.16 L809.87 431.23 L810.07 441.23 L810.27 452.68 L810.47 449.98 L810.67 436.42 L810.87 439.29 L811.07 449.15 L811.27 450.63 L811.47 437.33 L811.67 442.64 L811.87 449.45 L812.07 440.68 L812.27 453.5 L812.47 444.5 L812.67 440.98 L812.87 447.85 L813.07 456.16 L813.27 440.01 L813.47 448.44 L813.67 431.41 L813.87 444.96 L814.07 443.49 L814.27 444.74 L814.47 430.01 L814.67 450.14 L814.87 437.63 L815.07 452 L815.27 423.31 L815.47 434.84 L815.67 433.82 L815.87 434.75 L816.07 440.36 L816.27 440.54 L816.47 436.97 L816.67 442.08 L816.87 440.62 L817.07 433.92 L817.27 435.83 L817.47 445.57 L817.67 432.98 L817.87 435.81 L818.07 440.15 L818.27 447.03 L818.47 439.1 L818.67 441.08 L818.87 440.08 L819.07 421.2 L819.27 442.75 L819.47 450.22 L819.67 434.49 L819.87 438.13 L820.07 436.83 L820.27 448.8 L820.47 445.39 L820.67 437.36 L820.87 441.33 L821.07 435.32 L821.27 437.63 L821.47 449.8 L821.67 446.63 L821.87 439.6 L822.07 447.22 L822.27 440.95 L822.47 448.7 L822.67 434.18 L822.87 452.23 L823.07 439.1 L823.27 445.96 L823.47 433.26 L823.67 426.35 L823.87 448.75 L824.07 431.2 L824.27 441.28 L824.47 445.75 L824.67 447.02 L824.87 439.09 L825.07 439.96 L825.27 440.13 L825.47 438.71 L825.67 452.43 L825.87 431.16 L826.07 444.25 L826.27 439.35 L826.47 433.6 L826.67 428.37 L826.87 433.5 L827.07 446.41 L827.27 437.14 L827.47 435.22 L827.67 437.03 L827.87 442.89 L828.07 450.55 L828.27 446.23 L828.47 441.66 L828.67 447.15 L828.87 448.5 L829.07 437.65 L829.27 446.92 L829.47 438.35 L829.67 450.24 L829.87 448.3 L830.07 434.31 L830.34 442.13 L830.61 449.81 L830.88 454.04 L831.15 448.17 L831.42 440.51 L831.69 434.15 L831.96 444.05 L832.23 443.12 L832.5 447.25 L832.77 442.64 L833.04 426.68 L833.31 436.98 L833.58 436.11 L833.85 427.3 L834.12 432.74 L834.39 438.74 L834.66 429.78 L834.93 447.59 L835.2 434.34 L835.47 437.55 L835.74 437.58 L836.01 427.61 L836.28 426.05 L836.55 429.37 L836.82 435.24 L837.09 440 L837.36 444.18 L837.63 434.54 L837.9 433.47 L838.17 429.51 L838.44 433.68 L838.71 414.03 L838.98 435.34 L839.25 428.08 L839.52 433.22 L839.79 443.39 L840.06 448.58 L840.33 421.33 L840.6 441.83 L840.87 435.91 L841.14 434.7 L841.41 433.86 L841.68 441.99 L841.95 429.31 L842.22 434.01 L842.49 444.66 L842.76 431.69 L843.03 437.48 L843.3 423.25 L843.57 433.45 L843.84 441.06 L844.11 423.56 L844.38 439.96 L844.65 427.87 L844.92 434.37 L845.19 435.69 L845.46 436.55 L845.73 432.2 L846 435.89 L846.27 424.01 L846.54 421.51 L846.81 437.46 L847.08 423.3 L847.35 442.8 L847.62 444.64 L847.89 428.68 L848.16 428.71 L848.43 415.23 L848.7 422.5 L848.97 419.89 L849.24 414.6 L849.51 420.75 L849.78 422.2 L850.05 422.61 L850.32 425.25 L850.59 436.73 L850.86 439.31 L851.13 435.59 L851.4 424.11 L851.67 432.59 L851.94 424.07 L852.21 435.47 L852.48 435.62 L852.75 441.15 L853.02 434.15 L853.29 442.42 L853.56 415.69 L853.83 435.98 L854.1 419.06 L854.37 430.76 L854.64 413.73 L854.91 426.46 L855.18 433.35 L855.45 419.76 L855.72 420.62 L855.99 434.28 L856.26 423.58 L856.53 436.22 L856.8 431.01 L857.07 429.55 L857.34 435.13 L857.61 427.48 L857.88 434.91 L858.15 423.48 L858.42 432.56 L858.69 430.34 L858.96 430.26 L859.23 437.31 L859.5 432.81 L859.77 425.62 L860.04 416.23 L860.31 428.06 L860.58 429.91 L860.85 439.79 L861.12 432.29 L861.39 421.7 L861.66 424.75 L861.93 443.71 L862.2 431.59 L862.47 430.09 L862.74 439.27 L863.01 425.25 L863.28 429.01 L863.55 425.27 L863.82 424.28 L864.09 435.2 L864.36 417.41 L864.63 418.46 L864.9 432.75 L865.17 418.13 L865.44 432.23 L865.71 424.2 L865.98 430.88 L866.25 414.81 L866.52 433.78 L866.79 421.29 L867.06 433 L867.33 419.45 L867.6 422.2 L867.87 435.52 L868.14 424.05 L868.41 437.98 L868.68 444.5 L868.95 436.07 L869.22 421.21 L869.49 426.46 L869.76 436.1 L870.03 435.23 L870.3 432.32 L870.57 423.34 L870.84 433.59 L871.11 433.36 L871.38 428.66 L871.65 421.37 L871.92 426.82 L872.19 423.52 L872.46 431.35 L872.73 428.66 L873 416.76 L873.27 417.2 L873.54 427.13 L873.81 428.76 L874.08 414.28 L874.35 436.66 L874.62 416.22 L874.89 422.57 L875.16 430.38 L875.43 428.98 L875.7 421.87 L875.97 423.97 L876.24 426.26 L876.51 406.38 L876.78 430.28 L877.05 402.96 L877.32 432.06 L877.59 418.9 L877.86 423.25 L878.13 423.62 L878.4 421.21 L878.67 428.56 L878.94 437.46 L879.21 438.71 L879.48 429.95 L879.75 428.02 L880.02 426.06 L880.29 437.08 L880.56 427.21 L880.83 431.74 L881.1 440.13 L881.37 427.83 L881.64 422.8 L881.91 444.42 L882.18 434.83 L882.45 429.47 L882.72 434.99 L882.99 433.5 L883.26 436.94 L883.53 424.43 L883.8 428.75 L884.07 429.83 L884.34 420.63 L884.61 421.47 L884.88 421.59 L885.15 434.68 L885.42 419.92 L885.69 422.86 L885.96 410.05 L886.23 425.94 L886.5 409.68 L886.77 420.71 L887.04 402.95 L887.31 411.37 L887.58 411.68 L887.85 409.95 L888.12 424.19 L888.39 423.3 L888.66 421.3 L888.93 418.82 L889.2 428.37 L889.47 411.74 L889.74 429.98 L890.01 427.17 L890.28 425.21 L890.55 424.94 L890.82 429.36 L891.09 438.99 L891.36 423.91 L891.63 426.37 L891.9 432.94 L892.17 415.94 L892.44 432.1 L892.71 423.9 L892.98 439 L893.25 441.45 L893.52 433.38 L893.79 440.09 L894.06 430.54 L894.33 431.81 L894.6 428.06 L894.87 430.38 L895.14 426.53 L895.41 422.45 L895.68 442.1 L895.95 420.41 L896.22 428.61 L896.49 421.32 L896.76 422.93 L897.03 417.88 L897.3 417.58 L897.57 423.91 L897.84 414.6 L898.11 417.3 L898.38 421.23 L898.65 420.72 L898.92 427.29 L899.19 414.99 L899.46 424.35 L899.73 408 L900 427.1 L900.27 411.61 L900.54 406.69 L900.81 430.51 L901.08 413.92 L901.35 414.27 L901.62 416.66 L901.89 431.75 L902.16 421.44 L902.43 420.86 L902.7 427.46 L902.97 413.32 L903.24 425.08 L903.51 425.19 L903.78 424.03 L904.05 423.21 L904.32 436.7 L904.59 418.96 L904.86 430.02 L905.13 431.84 L905.4 431.11 L905.67 433.1 L905.94 431.16 L906.21 421.05 L906.48 430.7 L906.75 431.62 L907.02 424.43 L907.29 433.2 L907.56 418.34 L907.83 421.49 L908.1 434.91 L908.37 435.1 L908.64 414.98 L908.91 435.3 L909.18 434.9 L909.45 427.49 L909.72 439.24 L909.99 430.31 L910.26 426.06 L910.53 432.13 L910.8 430.7 L911.07 413.57 L911.34 413.14 L911.61 421.52 L911.88 420.09 L912.15 423.9 L912.42 416.23 L912.69 423.54 L912.96 427.07 L913.23 428.17 L913.5 433.68 L913.77 426.68 L914.04 415.14 L914.31 426.9 L914.58 426.49 L914.85 403.18 L915.12 420.73 L915.39 425.59 L915.66 414.28 L915.93 417.88 L916.2 431.89 L916.47 426.85 L916.74 426.31 L917.01 414.87 L917.28 416.63 L917.55 414.39 L917.82 408.51 L918.09 427.84 L918.36 426.96 L918.63 414.54 L918.9 422.05 L919.17 423.13 L919.44 417.52 L919.71 420.4 L919.98 425.33 L920.25 422 L920.52 405.8 L920.79 416.73 L921.06 426.22 L921.33 424.85 L921.6 417.65 L921.87 428.41 L922.14 421.28 L922.41 434.05 L922.68 418.42 L922.95 434.94 L923.22 430.86 L923.49 412.32 L923.76 420.03 L924.03 433.46 L924.3 420.88 L924.57 429.01 L924.84 414.94 L925.11 425.65 L925.38 430.02 L925.65 427.06 L925.92 416.77 L926.19 422.01 L926.46 407.98 L926.73 424.29 L927 426.6 L927.27 426.41 L927.54 435.81 L927.81 426.67 L928.08 429.3 L928.35 430.96 L928.62 430.99 L928.89 406.26 L929.16 428.3 L929.43 429.93 L929.7 422.56 L929.97 418.03 L930.24 429.36 L930.51 432.88 L930.78 414.32 L931.05 431.55 L931.32 428.68 L931.59 425.63 L931.86 414.52 L932.13 420.74 L932.4 420.49 L932.67 426.82 L932.94 429.7 L933.21 432.61 L933.48 422.83 L933.75 426.03 L934.02 436.03 L934.29 436.42 L934.56 414.47 L934.83 411.75 L935.1 417.98 L935.37 421.54 L935.64 416.73 L935.91 420.96 L936.18 422.21 L936.45 431.01 L936.72 413.81 L936.99 432.27 L937.26 416.85 L937.53 422.14 L937.8 429.04 L938.07 418.46 L938.34 428.75 L938.61 423.28 L938.88 424.61 L939.15 424.29 L939.42 434.93 L939.69 421.74 L939.96 432.59 L940.23 432.38 L940.5 432.33 L940.77 437.68 L941.04 443.35 L941.31 439.34 L941.58 423.83 L941.85 419.88 L942.12 422.92 L942.39 436.52 L942.66 417.81 L942.93 437.96 L943.2 440.84 L943.47 427.94 L943.74 430.66 L944.01 430.82 L944.28 425.21 L944.55 423.47 L944.82 421.53 L945.09 430.76 L945.36 427.99 L945.63 420.93 L945.9 411.27 L946.17 431.04 L946.44 416.46 L946.71 429.09 L946.98 429.13 L947.25 421.95 L947.52 421.57 L947.79 424.84 L948.06 423.18 L948.33 417.99 L948.6 416.57 L948.87 410.26 L949.14 419.65 L949.41 432.78 L949.68 425.83 L949.95 441.41 L950.22 432.87 L950.49 433.21 L950.76 419.15 L951.03 435.63 L951.3 420.39 L951.57 433.96 L951.84 434.9 L952.11 441.54 L952.38 441.67 L952.65 432.85 L952.92 437.44 L953.19 430.88 L953.46 429.31 L953.73 412.91 L954 434.26 L954.27 445.84 L954.54 444.51 L954.81 440.66 L955.08 423.97 L955.35 439.95 L955.62 438.57 L955.89 429.92 L956.16 432.68 L956.43 423.15 L956.7 419.77 L956.97 442.92 L957.24 435.08 L957.51 414.28 L957.78 433.42 L958.05 429.86 L958.32 427.19 L958.59 425.12 L958.86 423.62 L959.13 433.21 L959.4 432.56 L959.67 423.44 L959.94 436.96 L960.21 446.84 L960.48 438.86 L960.75 440.06 L961.02 430.82 L961.29 433.6 L961.56 440.38 L961.83 447.34 L962.1 446.67 L962.37 435.77 L962.64 448.44 L962.91 444.82 L963.18 433.42 L963.45 430.48 L963.72 439.65 L963.99 446.48 L964.26 432.86 L964.53 429.74 L964.8 440.32 L965.07 427.33 L965.34 430.14 L965.61 428.29 L965.88 437.31 L966.15 441.97 L966.42 426.05 L966.69 424.25 L966.96 430.56 L967.23 420.08 L967.5 432.82 L967.77 433.38 L968.04 422.29 L968.31 430.83 L968.58 429.43 L968.85 405.24 L969.12 413.37 L969.39 421.42 L969.66 414.35 L969.93 425.04 L970.2 431.42 L970.47 434.61 L970.74 417.52 L971.01 423.57 L971.28 424.7 L971.55 439.49 L971.82 427.22 L972.09 442.17 L972.36 425.88 L972.63 441.07 L972.9 432.62 L973.17 429.73 L973.44 436.05 L973.71 434.2 L973.98 437.26 L974.25 437.41 L974.52 424.76 L974.79 434.9 L975.06 428 L975.33 433.97 L975.6 434.21 L975.87 443.43 L976.14 429.72 L976.41 446.21 L976.68 410.48 L976.95 437.36 L977.22 437.19 L977.49 435.83 L977.76 427.41 L978.03 419.57 L978.3 417.53 L978.57 419.9 L978.84 421.69 L979.11 435.97 L979.38 418.59 L979.65 425.16 L979.92 413.48 L980.19 435.71 L980.46 432.77 L980.73 428.11 L981 413.03 L981.27 419.09 L981.54 425.4 L981.81 412.08 L982.08 423.55 L982.35 418.79 L982.62 425.25 L982.89 429.1 L983.16 431.55 L983.43 425.92 L983.7 421.72 L983.97 414.85 L984.24 422.75 L984.51 432.94 L984.78 438.1 L985.05 417.58 L985.32 420.91 L985.59 427.21 L985.86 427.34 L986.13 411.43 L986.4 429.86 L986.67 432.04 L986.94 418.96 L987.21 429.57 L987.48 426.39 L987.75 436.96 L988.02 438.7 L988.29 436.95 L988.56 437 L988.83 430.71 L989.1 432.89 L989.37 431.29 L989.64 422.9 L989.91 434.64 L990.18 425.17 L990.45 436.7 L990.72 439.65 L990.99 439.26 L991.26 428.7 L991.53 428.14 L991.8 423.12 L992.07 429.9 L992.34 431.5 L992.61 418.39 L992.88 426.01 L993.15 438.9 L993.42 425.04 L993.69 432.97 L993.96 417.44 L994.23 421.85 L994.5 436.92 L994.77 405.44 L995.04 430.76 L995.31 421.02 L995.58 414.77 L995.85 413.61 L996.12 409.04 L996.39 411.45 L996.66 416.18 L996.93 423.17 L997.2 422.23 L997.47 412.88 L997.74 412.38 L998.01 411.61 L998.28 425.04 L998.55 412.58 L998.82 419.26 L999.09 434.08 L999.36 424.13 L999.63 414.66 L999.9 420.48 L1000.17 428.38 L1000.44 426.1 L1000.71 420.6 L1000.98 428.33 L1001.25 431.87 L1001.52 435.38 L1001.79 428.19 L1002.06 434.87 L1002.33 436.57 L1002.6 440.39 L1002.87 431.61 L1003.14 430.53 L1003.41 433.36 L1003.68 434.77 L1003.95 441.01 L1004.22 436.17 L1004.49 431.36 L1004.76 435.42 L1005.03 428.61 L1005.3 423.42 L1005.57 426.36 L1005.84 430.09 L1006.11 417.9 L1006.38 419.72 L1006.65 430.76 L1006.92 415.22 L1007.19 419.96 L1007.46 426.57 L1007.73 419.29 L1008 420.02 L1008.27 428.24 L1008.54 412.33 L1008.81 427.72 L1009.08 427.62 L1009.35 415.32 L1009.62 414.04 L1009.89 415.2 L1010.16 424.55 L1010.43 411.6 L1010.7 404.26 L1010.97 417.43 L1011.24 413.24 L1011.51 425.49 L1011.78 409.87 L1012.05 424.19 L1012.32 422.34 L1012.59 419.05 L1012.86 423.24 L1013.13 424.82 L1013.4 435.47 L1013.67 441.83 L1013.94 409.49 L1014.21 431.41 L1014.48 431.09 L1014.75 429.6 L1015.02 429.3 L1015.29 429.53 L1015.56 416.4 L1015.83 441.63 L1016.1 413.76 L1016.37 415.3 L1016.64 422.21 L1016.91 417.74 L1017.18 418.15 L1017.45 411.38 L1017.72 417.91 L1017.99 417.46" fill="none" stroke="#0a7a0a" stroke-width="0.8" stroke-linejoin="bevel"/>
<rect x="121.45" y="387.6" width="0.9" height="37.4" fill="#3a8a3a"/>
<rect x="122.15" y="392" width="0.9" height="33" fill="#3a8a3a"/>
<rect x="167.55" y="389.5" width="0.9" height="40.5" fill="#3a8a3a"/>
<rect x="177.55" y="412" width="0.9" height="20" fill="#3a8a3a"/>
<rect x="185.55" y="417" width="0.9" height="15" fill="#3a8a3a"/>
<rect x="364.55" y="393" width="0.9" height="27" fill="#3a8a3a"/>
<rect x="359.55" y="410" width="0.9" height="15" fill="#3a8a3a"/>
<rect x="348.55" y="408" width="0.9" height="17" fill="#3a8a3a"/>
<rect x="431.55" y="410" width="0.9" height="15" fill="#3a8a3a"/>
<rect x="536.55" y="425" width="0.9" height="15" fill="#3a8a3a"/>
<rect x="589.15" y="403.5" width="0.9" height="21.5" fill="#3a8a3a"/>
<rect x="584.55" y="408" width="0.9" height="17" fill="#3a8a3a"/>
<rect x="776.05" y="404" width="0.9" height="24" fill="#3a8a3a"/>
<rect x="789.55" y="417" width="0.9" height="15" fill="#3a8a3a"/>
<rect x="848.55" y="412" width="0.9" height="18" fill="#3a8a3a"/>
<rect x="859.55" y="413" width="0.9" height="17" fill="#3a8a3a"/>
<rect x="870.55" y="414" width="0.9" height="16" fill="#3a8a3a"/>
<rect x="886.55" y="410" width="0.9" height="20" fill="#3a8a3a"/>
<rect x="910.55" y="408" width="0.9" height="22" fill="#3a8a3a"/>
<rect x="913.55" y="406" width="0.9" height="29" fill="#3a8a3a"/>
<rect x="385.45" y="420" width="1.1" height="8" fill="#ff1a90"/>
<rect x="387.45" y="415" width="1.1" height="15" fill="#ff1a90"/>
<rect x="389.45" y="410" width="1.1" height="15" fill="#ff1a90"/>
<rect x="391.45" y="404" width="1.1" height="16" fill="#ff1a90"/>
<rect x="392.95" y="412" width="1.1" height="16" fill="#ff1a90"/>
<rect x="394.95" y="408" width="1.1" height="17" fill="#ff1a90"/>
<rect x="395.95" y="410" width="1.1" height="13" fill="#ff1a90"/>
<rect x="409.95" y="404" width="1.1" height="26" fill="#ff1a90"/>
<rect x="549.95" y="403" width="1.1" height="27" fill="#ff1a90"/>
<rect x="581.45" y="407" width="1.1" height="23" fill="#ff1a90"/>
<rect x="752.95" y="399.5" width="1.1" height="30.5" fill="#ff1a90"/>
<rect x="753.95" y="405" width="1.1" height="23" fill="#ff1a90"/>
<rect x="846.45" y="408" width="1.1" height="17" fill="#ff1a90"/>
<rect x="895.45" y="413" width="1.1" height="19" fill="#ff1a90"/>
<rect x="899.45" y="413" width="1.1" height="17" fill="#ff1a90"/>
<rect x="909.45" y="420" width="1.1" height="6" fill="#ff1a90"/>
<rect x="925.45" y="412" width="1.1" height="16" fill="#ff1a90"/>
<rect x="927.45" y="410" width="1.1" height="20" fill="#ff1a90"/>
<rect x="930.45" y="407" width="1.1" height="18" fill="#ff1a90"/>
<rect x="933.45" y="406" width="1.1" height="20" fill="#ff1a90"/>
<rect x="935.45" y="405" width="1.1" height="19" fill="#ff1a90"/>
<rect x="938.45" y="408" width="1.1" height="20" fill="#ff1a90"/>
<rect x="941.45" y="410" width="1.1" height="15" fill="#ff1a90"/>
<rect x="943.95" y="413" width="1.1" height="13" fill="#ff1a90"/>
<rect x="956.45" y="410" width="1.1" height="11" fill="#ff1a90"/>
<rect x="1011.45" y="402" width="1.1" height="28" fill="#ff1a90"/>
<rect x="1016.95" y="408" width="1.1" height="17" fill="#ff1a90"/>
<rect x="405" y="410.5" width="5" height="1" fill="#ff1a90"/>
<rect x="925.5" y="116.5" width="38" height="22.4" fill="#c8c8c8" opacity="0.5"/>
<rect x="924.6" y="115.6" width="37.9" height="22.3" fill="#ffffe1" fill-opacity="0.93"/>
<text x="926" y="125.8" font-size="9" fill="#2a2a2a" textLength="33.5" lengthAdjust="spacingAndGlyphs" stroke="#2a2a2a" stroke-width="0.25">睡眠段階</text>
<text x="926" y="135.2" font-size="9" fill="#3a3a4a" textLength="20" lengthAdjust="spacingAndGlyphs" stroke="#3a3a4a" stroke-width="0.2">Wake</text>
</svg>
</body></html>
